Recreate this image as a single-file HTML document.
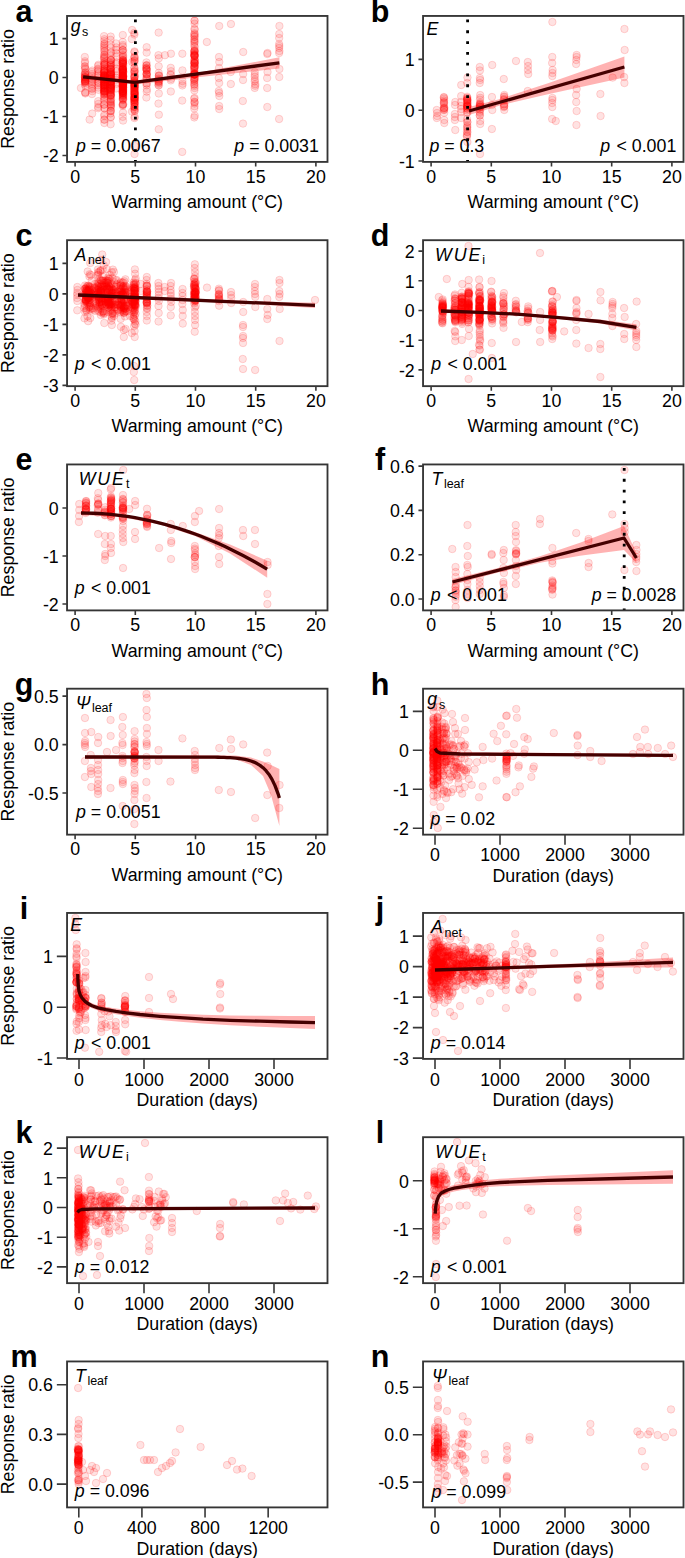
<!DOCTYPE html>
<html><head><meta charset="utf-8"><style>
body{margin:0;background:#fff;}
svg{display:block;}
text{font-family:"Liberation Sans", sans-serif;font-size:17.8px;fill:#000;}
.fr{fill:none;stroke:#353535;stroke-width:1.85;}
.tk{fill:none;stroke:#383838;stroke-width:1.6;}
.yl{text-anchor:end;}
.xl{text-anchor:middle;}
.pl{text-anchor:middle;font-weight:bold;font-size:30.5px;}
.vi{font-style:italic;}
.wue{letter-spacing:1.9px;}
.sb{font-size:12.5px;}
.it{font-style:italic;}
.pt circle{r:3.75px;fill:rgba(255,0,0,0.115);stroke:rgba(255,0,0,0.15);stroke-width:1;}
.band{fill:rgba(255,0,0,0.3);stroke:none;}
.ln{fill:none;stroke:#450000;stroke-width:3.3;stroke-linejoin:round;}
.dt{stroke:#000;stroke-width:2.8;stroke-dasharray:2.8 8.0;}
.ye{text-anchor:end;}
</style></head>
<body><svg width="685" height="1558" viewBox="0 0 685 1558">
<defs>
<clipPath id="cpa"><rect x="67.95" y="16.85" width="258.65" height="144.15"/></clipPath>
<clipPath id="cpb"><rect x="423.95" y="16.85" width="258.65" height="144.15"/></clipPath>
<clipPath id="cpc"><rect x="67.95" y="241.1" width="258.65" height="144.15"/></clipPath>
<clipPath id="cpd"><rect x="423.95" y="241.1" width="258.65" height="144.15"/></clipPath>
<clipPath id="cpe"><rect x="67.95" y="465.35" width="258.65" height="144.15"/></clipPath>
<clipPath id="cpf"><rect x="423.95" y="465.35" width="258.65" height="144.15"/></clipPath>
<clipPath id="cpg"><rect x="67.95" y="689.6" width="258.65" height="144.15"/></clipPath>
<clipPath id="cph"><rect x="423.95" y="689.6" width="258.65" height="144.15"/></clipPath>
<clipPath id="cpi"><rect x="67.95" y="913.85" width="258.65" height="144.15"/></clipPath>
<clipPath id="cpj"><rect x="423.95" y="913.85" width="258.65" height="144.15"/></clipPath>
<clipPath id="cpk"><rect x="67.95" y="1138.1" width="258.65" height="144.15"/></clipPath>
<clipPath id="cpl"><rect x="423.95" y="1138.1" width="258.65" height="144.15"/></clipPath>
<clipPath id="cpm"><rect x="67.95" y="1362.35" width="258.65" height="144.15"/></clipPath>
<clipPath id="cpn"><rect x="423.95" y="1362.35" width="258.65" height="144.15"/></clipPath>
</defs>
<g clip-path="url(#cpa)">
<polygon points="83.1,74.5 110,78 134.8,80.6 200,72.5 279.4,57.3 279.4,68.5 200,77 134.8,84.4 110,81.8 83.1,79.5" class="band"/>
<g class="pt"><circle cx="84.81" cy="56.98" r="3.75"/><circle cx="84.98" cy="61.31" r="3.75"/><circle cx="84.92" cy="62.98" r="3.75"/><circle cx="84.9" cy="66.67" r="3.75"/><circle cx="85.14" cy="82.92" r="3.75"/><circle cx="84.9" cy="82.87" r="3.75"/><circle cx="85.37" cy="72.25" r="3.75"/><circle cx="84.85" cy="76" r="3.75"/><circle cx="85.1" cy="84.64" r="3.75"/><circle cx="84.89" cy="77.1" r="3.75"/><circle cx="85" cy="77.18" r="3.75"/><circle cx="84.81" cy="73.86" r="3.75"/><circle cx="85.39" cy="68.93" r="3.75"/><circle cx="85.25" cy="92.39" r="3.75"/><circle cx="85.32" cy="93.43" r="3.75"/><circle cx="85.26" cy="78.33" r="3.75"/><circle cx="85.05" cy="79.29" r="3.75"/><circle cx="85.33" cy="80.68" r="3.75"/><circle cx="84.94" cy="68.64" r="3.75"/><circle cx="85.11" cy="73" r="3.75"/><circle cx="85.28" cy="74.94" r="3.75"/><circle cx="84.94" cy="66.26" r="3.75"/><circle cx="85.28" cy="81.17" r="3.75"/><circle cx="85.13" cy="74.75" r="3.75"/><circle cx="85.11" cy="81.4" r="3.75"/><circle cx="85.38" cy="85.97" r="3.75"/><circle cx="85.39" cy="81.76" r="3.75"/><circle cx="85.3" cy="79" r="3.75"/><circle cx="85.12" cy="80.75" r="3.75"/><circle cx="84.89" cy="81.8" r="3.75"/><circle cx="85.23" cy="77.08" r="3.75"/><circle cx="84.85" cy="79.85" r="3.75"/><circle cx="85.27" cy="92.62" r="3.75"/><circle cx="85.26" cy="77.5" r="3.75"/><circle cx="80.92" cy="88" r="3.75"/><circle cx="92.36" cy="70.52" r="3.75"/><circle cx="91.94" cy="71.95" r="3.75"/><circle cx="92.1" cy="74.01" r="3.75"/><circle cx="92.15" cy="75.77" r="3.75"/><circle cx="92.02" cy="78.18" r="3.75"/><circle cx="92.32" cy="79.64" r="3.75"/><circle cx="91.95" cy="81.05" r="3.75"/><circle cx="92.48" cy="82.15" r="3.75"/><circle cx="92" cy="84.06" r="3.75"/><circle cx="92.22" cy="85.95" r="3.75"/><circle cx="91.9" cy="88.16" r="3.75"/><circle cx="92.2" cy="89.03" r="3.75"/><circle cx="92.26" cy="91.15" r="3.75"/><circle cx="91.96" cy="94.04" r="3.75"/><circle cx="92.2" cy="113.6" r="3.75"/><circle cx="89.64" cy="119.6" r="3.75"/><circle cx="98.47" cy="64.74" r="3.75"/><circle cx="98.05" cy="65.95" r="3.75"/><circle cx="97.92" cy="68.79" r="3.75"/><circle cx="98.14" cy="69.67" r="3.75"/><circle cx="98.31" cy="71.32" r="3.75"/><circle cx="98.05" cy="73.92" r="3.75"/><circle cx="98.32" cy="75.66" r="3.75"/><circle cx="97.94" cy="77.43" r="3.75"/><circle cx="98.02" cy="79.64" r="3.75"/><circle cx="98.02" cy="81.89" r="3.75"/><circle cx="98.44" cy="82.89" r="3.75"/><circle cx="98.08" cy="85.21" r="3.75"/><circle cx="98.32" cy="87.56" r="3.75"/><circle cx="98.38" cy="89.76" r="3.75"/><circle cx="98.16" cy="101.16" r="3.75"/><circle cx="98.21" cy="103.94" r="3.75"/><circle cx="98.28" cy="107" r="3.75"/><circle cx="98.12" cy="108.25" r="3.75"/><circle cx="104.02" cy="36.13" r="3.75"/><circle cx="104.41" cy="39.24" r="3.75"/><circle cx="104.27" cy="41.21" r="3.75"/><circle cx="104.44" cy="43.79" r="3.75"/><circle cx="104.16" cy="47.44" r="3.75"/><circle cx="104.21" cy="49.09" r="3.75"/><circle cx="104.41" cy="54.76" r="3.75"/><circle cx="104.56" cy="56.88" r="3.75"/><circle cx="104.11" cy="97.33" r="3.75"/><circle cx="104.24" cy="83.37" r="3.75"/><circle cx="104.54" cy="85" r="3.75"/><circle cx="104.44" cy="90.96" r="3.75"/><circle cx="104.18" cy="82.93" r="3.75"/><circle cx="104.47" cy="75.76" r="3.75"/><circle cx="104.05" cy="88.16" r="3.75"/><circle cx="104.49" cy="82.12" r="3.75"/><circle cx="104.01" cy="81.52" r="3.75"/><circle cx="104.07" cy="93.58" r="3.75"/><circle cx="104.2" cy="57.08" r="3.75"/><circle cx="104.19" cy="77.98" r="3.75"/><circle cx="104.09" cy="85.76" r="3.75"/><circle cx="104.12" cy="81.51" r="3.75"/><circle cx="104.59" cy="68.9" r="3.75"/><circle cx="104.17" cy="74.79" r="3.75"/><circle cx="104.32" cy="83.53" r="3.75"/><circle cx="104.33" cy="75.52" r="3.75"/><circle cx="104.31" cy="72.65" r="3.75"/><circle cx="104.47" cy="68.85" r="3.75"/><circle cx="104.35" cy="89.28" r="3.75"/><circle cx="104.47" cy="93.05" r="3.75"/><circle cx="104.01" cy="86.94" r="3.75"/><circle cx="104.4" cy="91.52" r="3.75"/><circle cx="104.49" cy="88.2" r="3.75"/><circle cx="104.39" cy="71.05" r="3.75"/><circle cx="104.03" cy="94.57" r="3.75"/><circle cx="104.19" cy="81.57" r="3.75"/><circle cx="104.34" cy="82.11" r="3.75"/><circle cx="104.03" cy="73.61" r="3.75"/><circle cx="104.06" cy="104.72" r="3.75"/><circle cx="104.1" cy="100.41" r="3.75"/><circle cx="104.13" cy="90.39" r="3.75"/><circle cx="104.06" cy="75.89" r="3.75"/><circle cx="104.13" cy="75.47" r="3.75"/><circle cx="104.13" cy="80.02" r="3.75"/><circle cx="104.35" cy="79.76" r="3.75"/><circle cx="104.15" cy="72.27" r="3.75"/><circle cx="104.55" cy="119.7" r="3.75"/><circle cx="104.54" cy="78.46" r="3.75"/><circle cx="104.38" cy="51.64" r="3.75"/><circle cx="104.1" cy="70.05" r="3.75"/><circle cx="104.01" cy="77.2" r="3.75"/><circle cx="104.12" cy="54.86" r="3.75"/><circle cx="104.34" cy="84.75" r="3.75"/><circle cx="104.07" cy="58.29" r="3.75"/><circle cx="104.59" cy="79.09" r="3.75"/><circle cx="104.14" cy="89.49" r="3.75"/><circle cx="104.4" cy="66.39" r="3.75"/><circle cx="104.34" cy="94.47" r="3.75"/><circle cx="104.55" cy="64.8" r="3.75"/><circle cx="104.07" cy="58.89" r="3.75"/><circle cx="104.55" cy="108.25" r="3.75"/><circle cx="104.22" cy="85.41" r="3.75"/><circle cx="104.25" cy="64.04" r="3.75"/><circle cx="104.07" cy="91.64" r="3.75"/><circle cx="104.34" cy="80.05" r="3.75"/><circle cx="104.1" cy="91.06" r="3.75"/><circle cx="104.23" cy="75.4" r="3.75"/><circle cx="104.34" cy="45.92" r="3.75"/><circle cx="104.38" cy="64.76" r="3.75"/><circle cx="104.31" cy="62.44" r="3.75"/><circle cx="104.56" cy="79.47" r="3.75"/><circle cx="104.54" cy="77.2" r="3.75"/><circle cx="104.38" cy="76.98" r="3.75"/><circle cx="104.02" cy="71.81" r="3.75"/><circle cx="104.34" cy="72.75" r="3.75"/><circle cx="104.15" cy="85.43" r="3.75"/><circle cx="104.15" cy="99.33" r="3.75"/><circle cx="104.34" cy="92.66" r="3.75"/><circle cx="104.47" cy="96.65" r="3.75"/><circle cx="104.47" cy="81.74" r="3.75"/><circle cx="104.37" cy="76.78" r="3.75"/><circle cx="104.18" cy="86.01" r="3.75"/><circle cx="104.24" cy="78.01" r="3.75"/><circle cx="104.41" cy="88.7" r="3.75"/><circle cx="104.44" cy="64.73" r="3.75"/><circle cx="104.49" cy="90.87" r="3.75"/><circle cx="104.3" cy="44.26" r="3.75"/><circle cx="104.32" cy="62.97" r="3.75"/><circle cx="104.42" cy="61.13" r="3.75"/><circle cx="104.55" cy="50.95" r="3.75"/><circle cx="104.42" cy="87.39" r="3.75"/><circle cx="104.44" cy="91.43" r="3.75"/><circle cx="104.19" cy="84.93" r="3.75"/><circle cx="104.25" cy="71.03" r="3.75"/><circle cx="104.23" cy="75.53" r="3.75"/><circle cx="104.39" cy="83.59" r="3.75"/><circle cx="104.37" cy="79.38" r="3.75"/><circle cx="104.45" cy="70.62" r="3.75"/><circle cx="104.01" cy="104.56" r="3.75"/><circle cx="104.41" cy="108.2" r="3.75"/><circle cx="104.23" cy="114.54" r="3.75"/><circle cx="104.38" cy="115.98" r="3.75"/><circle cx="104.02" cy="119.61" r="3.75"/><circle cx="104.36" cy="122.97" r="3.75"/><circle cx="110.71" cy="36.58" r="3.75"/><circle cx="110.58" cy="39.8" r="3.75"/><circle cx="110.72" cy="44.53" r="3.75"/><circle cx="110.84" cy="47.71" r="3.75"/><circle cx="110.98" cy="51.88" r="3.75"/><circle cx="110.77" cy="52.68" r="3.75"/><circle cx="110.95" cy="55.71" r="3.75"/><circle cx="111.09" cy="59.91" r="3.75"/><circle cx="110.8" cy="63.33" r="3.75"/><circle cx="110.86" cy="59.67" r="3.75"/><circle cx="111.03" cy="85.29" r="3.75"/><circle cx="110.61" cy="81.51" r="3.75"/><circle cx="110.53" cy="89.33" r="3.75"/><circle cx="110.95" cy="78.76" r="3.75"/><circle cx="110.97" cy="64.92" r="3.75"/><circle cx="110.9" cy="87.34" r="3.75"/><circle cx="110.5" cy="87.35" r="3.75"/><circle cx="110.89" cy="75" r="3.75"/><circle cx="110.87" cy="98.78" r="3.75"/><circle cx="110.69" cy="117.47" r="3.75"/><circle cx="110.69" cy="72.98" r="3.75"/><circle cx="110.76" cy="90.54" r="3.75"/><circle cx="110.89" cy="84.89" r="3.75"/><circle cx="110.91" cy="84.53" r="3.75"/><circle cx="110.9" cy="89.93" r="3.75"/><circle cx="110.62" cy="76.83" r="3.75"/><circle cx="110.66" cy="83.98" r="3.75"/><circle cx="110.53" cy="101.86" r="3.75"/><circle cx="111.06" cy="60.3" r="3.75"/><circle cx="110.64" cy="103.68" r="3.75"/><circle cx="111.08" cy="71.97" r="3.75"/><circle cx="110.52" cy="86.57" r="3.75"/><circle cx="110.73" cy="77.36" r="3.75"/><circle cx="111.07" cy="81.45" r="3.75"/><circle cx="110.9" cy="82.61" r="3.75"/><circle cx="110.56" cy="68.95" r="3.75"/><circle cx="110.95" cy="82.42" r="3.75"/><circle cx="110.98" cy="83.85" r="3.75"/><circle cx="110.71" cy="81.23" r="3.75"/><circle cx="110.63" cy="94.86" r="3.75"/><circle cx="110.62" cy="79.15" r="3.75"/><circle cx="110.6" cy="81.56" r="3.75"/><circle cx="110.78" cy="88.34" r="3.75"/><circle cx="110.58" cy="68.28" r="3.75"/><circle cx="110.51" cy="78.65" r="3.75"/><circle cx="110.58" cy="100.84" r="3.75"/><circle cx="110.91" cy="106.2" r="3.75"/><circle cx="111.06" cy="67.46" r="3.75"/><circle cx="110.65" cy="77.99" r="3.75"/><circle cx="110.72" cy="79.39" r="3.75"/><circle cx="110.74" cy="69" r="3.75"/><circle cx="111.05" cy="85.77" r="3.75"/><circle cx="110.88" cy="89.73" r="3.75"/><circle cx="110.61" cy="95.31" r="3.75"/><circle cx="110.9" cy="104.53" r="3.75"/><circle cx="110.75" cy="64.15" r="3.75"/><circle cx="111.07" cy="71.98" r="3.75"/><circle cx="110.57" cy="81.26" r="3.75"/><circle cx="110.65" cy="70.07" r="3.75"/><circle cx="110.98" cy="94.63" r="3.75"/><circle cx="110.95" cy="95.66" r="3.75"/><circle cx="110.67" cy="75.06" r="3.75"/><circle cx="110.98" cy="73.59" r="3.75"/><circle cx="110.83" cy="74.88" r="3.75"/><circle cx="110.97" cy="67.11" r="3.75"/><circle cx="110.72" cy="75.38" r="3.75"/><circle cx="110.69" cy="78.61" r="3.75"/><circle cx="110.93" cy="76.8" r="3.75"/><circle cx="110.87" cy="110.85" r="3.75"/><circle cx="110.56" cy="69.72" r="3.75"/><circle cx="110.78" cy="88.55" r="3.75"/><circle cx="110.8" cy="73.72" r="3.75"/><circle cx="111.1" cy="77.67" r="3.75"/><circle cx="111.07" cy="88.45" r="3.75"/><circle cx="110.98" cy="81.29" r="3.75"/><circle cx="110.63" cy="92.96" r="3.75"/><circle cx="110.58" cy="62.29" r="3.75"/><circle cx="110.56" cy="68.68" r="3.75"/><circle cx="110.51" cy="65.02" r="3.75"/><circle cx="110.66" cy="110.96" r="3.75"/><circle cx="111" cy="74.67" r="3.75"/><circle cx="110.51" cy="76.5" r="3.75"/><circle cx="110.87" cy="107.8" r="3.75"/><circle cx="110.52" cy="86.92" r="3.75"/><circle cx="110.89" cy="102.25" r="3.75"/><circle cx="110.54" cy="95.4" r="3.75"/><circle cx="110.73" cy="92.26" r="3.75"/><circle cx="110.78" cy="90.45" r="3.75"/><circle cx="110.9" cy="93.63" r="3.75"/><circle cx="111.01" cy="73.43" r="3.75"/><circle cx="110.75" cy="72.22" r="3.75"/><circle cx="110.71" cy="96.2" r="3.75"/><circle cx="111.06" cy="99.55" r="3.75"/><circle cx="110.71" cy="82.33" r="3.75"/><circle cx="111.08" cy="85.38" r="3.75"/><circle cx="110.72" cy="60.04" r="3.75"/><circle cx="110.87" cy="87.33" r="3.75"/><circle cx="110.56" cy="91.77" r="3.75"/><circle cx="110.74" cy="88.01" r="3.75"/><circle cx="110.83" cy="105.34" r="3.75"/><circle cx="110.64" cy="110.83" r="3.75"/><circle cx="110.51" cy="113.39" r="3.75"/><circle cx="110.73" cy="116.92" r="3.75"/><circle cx="110.61" cy="124.28" r="3.75"/><circle cx="116.01" cy="43.4" r="3.75"/><circle cx="116.25" cy="47.45" r="3.75"/><circle cx="116.23" cy="49.99" r="3.75"/><circle cx="116.24" cy="53.22" r="3.75"/><circle cx="116.43" cy="56.35" r="3.75"/><circle cx="116.54" cy="62.34" r="3.75"/><circle cx="116.01" cy="63.83" r="3.75"/><circle cx="116.28" cy="68.64" r="3.75"/><circle cx="116.39" cy="71.3" r="3.75"/><circle cx="116.31" cy="75.64" r="3.75"/><circle cx="116.08" cy="77.78" r="3.75"/><circle cx="116.1" cy="79.86" r="3.75"/><circle cx="116.56" cy="83.67" r="3.75"/><circle cx="116.02" cy="88.51" r="3.75"/><circle cx="122.79" cy="35" r="3.75"/><circle cx="122.85" cy="45" r="3.75"/><circle cx="122.93" cy="85.8" r="3.75"/><circle cx="122.76" cy="67.42" r="3.75"/><circle cx="123.07" cy="76.65" r="3.75"/><circle cx="122.89" cy="83.75" r="3.75"/><circle cx="122.65" cy="77.02" r="3.75"/><circle cx="122.76" cy="62.18" r="3.75"/><circle cx="122.81" cy="69.3" r="3.75"/><circle cx="123.18" cy="99.56" r="3.75"/><circle cx="122.92" cy="84.76" r="3.75"/><circle cx="123.02" cy="59.93" r="3.75"/><circle cx="123.11" cy="75.81" r="3.75"/><circle cx="122.88" cy="84.12" r="3.75"/><circle cx="122.94" cy="99.37" r="3.75"/><circle cx="122.86" cy="73.53" r="3.75"/><circle cx="122.81" cy="75.22" r="3.75"/><circle cx="122.79" cy="70.08" r="3.75"/><circle cx="122.66" cy="92.28" r="3.75"/><circle cx="122.61" cy="50.1" r="3.75"/><circle cx="122.86" cy="67.16" r="3.75"/><circle cx="123.06" cy="94.74" r="3.75"/><circle cx="123" cy="97.88" r="3.75"/><circle cx="122.69" cy="75.17" r="3.75"/><circle cx="122.72" cy="63.27" r="3.75"/><circle cx="122.62" cy="69.69" r="3.75"/><circle cx="122.99" cy="61.08" r="3.75"/><circle cx="122.72" cy="42" r="3.75"/><circle cx="122.8" cy="86.8" r="3.75"/><circle cx="123.09" cy="70.74" r="3.75"/><circle cx="123.13" cy="87.23" r="3.75"/><circle cx="122.6" cy="50.07" r="3.75"/><circle cx="122.74" cy="81.29" r="3.75"/><circle cx="123.11" cy="96.04" r="3.75"/><circle cx="123.17" cy="77.13" r="3.75"/><circle cx="123.02" cy="57.24" r="3.75"/><circle cx="122.68" cy="93.19" r="3.75"/><circle cx="122.91" cy="75.68" r="3.75"/><circle cx="122.79" cy="96.02" r="3.75"/><circle cx="122.66" cy="73.32" r="3.75"/><circle cx="123.03" cy="83.42" r="3.75"/><circle cx="122.8" cy="83.96" r="3.75"/><circle cx="122.8" cy="46.54" r="3.75"/><circle cx="122.99" cy="93.14" r="3.75"/><circle cx="122.86" cy="71.52" r="3.75"/><circle cx="122.87" cy="89.43" r="3.75"/><circle cx="122.93" cy="92.83" r="3.75"/><circle cx="122.67" cy="91.48" r="3.75"/><circle cx="122.76" cy="116.82" r="3.75"/><circle cx="122.8" cy="72.87" r="3.75"/><circle cx="122.94" cy="81.96" r="3.75"/><circle cx="123.06" cy="63.84" r="3.75"/><circle cx="122.89" cy="79.11" r="3.75"/><circle cx="123.09" cy="68.79" r="3.75"/><circle cx="123.08" cy="98.32" r="3.75"/><circle cx="122.99" cy="61.5" r="3.75"/><circle cx="123.03" cy="91.24" r="3.75"/><circle cx="122.75" cy="81.03" r="3.75"/><circle cx="123.06" cy="95.11" r="3.75"/><circle cx="123.2" cy="85.73" r="3.75"/><circle cx="122.62" cy="77.06" r="3.75"/><circle cx="123.01" cy="64.95" r="3.75"/><circle cx="122.94" cy="91.25" r="3.75"/><circle cx="122.66" cy="69.17" r="3.75"/><circle cx="123.08" cy="71.51" r="3.75"/><circle cx="122.79" cy="94.72" r="3.75"/><circle cx="122.93" cy="87.51" r="3.75"/><circle cx="122.72" cy="63.92" r="3.75"/><circle cx="122.85" cy="76.61" r="3.75"/><circle cx="123.13" cy="72.36" r="3.75"/><circle cx="122.72" cy="100.1" r="3.75"/><circle cx="123.14" cy="55.93" r="3.75"/><circle cx="123.14" cy="71.36" r="3.75"/><circle cx="123.17" cy="80.52" r="3.75"/><circle cx="122.73" cy="91.08" r="3.75"/><circle cx="123.15" cy="76.95" r="3.75"/><circle cx="123.04" cy="72.14" r="3.75"/><circle cx="123.19" cy="50.18" r="3.75"/><circle cx="123.15" cy="75.99" r="3.75"/><circle cx="122.86" cy="55.12" r="3.75"/><circle cx="123.18" cy="90.77" r="3.75"/><circle cx="122.93" cy="72.52" r="3.75"/><circle cx="122.8" cy="77.85" r="3.75"/><circle cx="122.76" cy="77.59" r="3.75"/><circle cx="122.75" cy="90.23" r="3.75"/><circle cx="122.67" cy="79.85" r="3.75"/><circle cx="122.73" cy="78.09" r="3.75"/><circle cx="123.02" cy="104.78" r="3.75"/><circle cx="123.03" cy="80.75" r="3.75"/><circle cx="122.68" cy="78.91" r="3.75"/><circle cx="123.15" cy="83.44" r="3.75"/><circle cx="123.13" cy="89.23" r="3.75"/><circle cx="122.65" cy="98.26" r="3.75"/><circle cx="122.82" cy="91.52" r="3.75"/><circle cx="122.67" cy="105.75" r="3.75"/><circle cx="122.94" cy="78.97" r="3.75"/><circle cx="123.12" cy="61.88" r="3.75"/><circle cx="122.93" cy="88.33" r="3.75"/><circle cx="122.7" cy="104.2" r="3.75"/><circle cx="122.63" cy="67.55" r="3.75"/><circle cx="123.02" cy="83.97" r="3.75"/><circle cx="123.11" cy="93.66" r="3.75"/><circle cx="122.96" cy="76.75" r="3.75"/><circle cx="122.99" cy="60.18" r="3.75"/><circle cx="123.1" cy="63.48" r="3.75"/><circle cx="123.11" cy="90.26" r="3.75"/><circle cx="122.64" cy="75.18" r="3.75"/><circle cx="122.8" cy="59.87" r="3.75"/><circle cx="122.72" cy="68.3" r="3.75"/><circle cx="122.82" cy="82.07" r="3.75"/><circle cx="123.16" cy="84.13" r="3.75"/><circle cx="122.6" cy="70.13" r="3.75"/><circle cx="123.05" cy="60.67" r="3.75"/><circle cx="122.61" cy="88.79" r="3.75"/><circle cx="122.94" cy="82.73" r="3.75"/><circle cx="122.66" cy="82.3" r="3.75"/><circle cx="122.66" cy="70.58" r="3.75"/><circle cx="122.82" cy="85.42" r="3.75"/><circle cx="122.81" cy="63.3" r="3.75"/><circle cx="122.64" cy="85.73" r="3.75"/><circle cx="122.6" cy="69.47" r="3.75"/><circle cx="122.91" cy="96.6" r="3.75"/><circle cx="122.72" cy="104.78" r="3.75"/><circle cx="122.92" cy="82.18" r="3.75"/><circle cx="123.08" cy="92.74" r="3.75"/><circle cx="123.15" cy="87.89" r="3.75"/><circle cx="122.6" cy="85.8" r="3.75"/><circle cx="123.08" cy="52.33" r="3.75"/><circle cx="123.2" cy="104.05" r="3.75"/><circle cx="123.03" cy="86.97" r="3.75"/><circle cx="122.65" cy="62.41" r="3.75"/><circle cx="123.12" cy="65.91" r="3.75"/><circle cx="122.76" cy="87.19" r="3.75"/><circle cx="123.01" cy="84.01" r="3.75"/><circle cx="122.9" cy="68.93" r="3.75"/><circle cx="123.05" cy="86.96" r="3.75"/><circle cx="122.77" cy="92.43" r="3.75"/><circle cx="122.63" cy="57.79" r="3.75"/><circle cx="123.05" cy="84.33" r="3.75"/><circle cx="122.65" cy="82.59" r="3.75"/><circle cx="123.01" cy="79.03" r="3.75"/><circle cx="122.75" cy="78.22" r="3.75"/><circle cx="122.99" cy="112.6" r="3.75"/><circle cx="123.06" cy="120.6" r="3.75"/><circle cx="134.24" cy="32.95" r="3.75"/><circle cx="134.43" cy="34.59" r="3.75"/><circle cx="134.48" cy="51.42" r="3.75"/><circle cx="134.48" cy="52.37" r="3.75"/><circle cx="134.32" cy="56.52" r="3.75"/><circle cx="134.75" cy="57.33" r="3.75"/><circle cx="134.47" cy="60.8" r="3.75"/><circle cx="134.35" cy="63.16" r="3.75"/><circle cx="134.35" cy="101.98" r="3.75"/><circle cx="134.63" cy="71.52" r="3.75"/><circle cx="134.79" cy="98.9" r="3.75"/><circle cx="134.25" cy="81.92" r="3.75"/><circle cx="134.35" cy="100.26" r="3.75"/><circle cx="134.37" cy="68.06" r="3.75"/><circle cx="134.69" cy="87.11" r="3.75"/><circle cx="134.62" cy="94.44" r="3.75"/><circle cx="134.36" cy="92.07" r="3.75"/><circle cx="134.25" cy="71.29" r="3.75"/><circle cx="134.21" cy="86.88" r="3.75"/><circle cx="134.52" cy="109.12" r="3.75"/><circle cx="134.4" cy="83.7" r="3.75"/><circle cx="134.55" cy="96.92" r="3.75"/><circle cx="134.71" cy="91.44" r="3.75"/><circle cx="134.65" cy="94.17" r="3.75"/><circle cx="134.55" cy="82.23" r="3.75"/><circle cx="134.76" cy="95" r="3.75"/><circle cx="134.58" cy="91.08" r="3.75"/><circle cx="134.42" cy="75.39" r="3.75"/><circle cx="134.22" cy="84.33" r="3.75"/><circle cx="134.6" cy="73.98" r="3.75"/><circle cx="134.3" cy="97.56" r="3.75"/><circle cx="134.38" cy="78.02" r="3.75"/><circle cx="134.64" cy="96.13" r="3.75"/><circle cx="134.38" cy="109.48" r="3.75"/><circle cx="134.46" cy="85.98" r="3.75"/><circle cx="134.79" cy="93.9" r="3.75"/><circle cx="134.24" cy="89.22" r="3.75"/><circle cx="134.76" cy="59.93" r="3.75"/><circle cx="134.28" cy="106.7" r="3.75"/><circle cx="134.72" cy="76.6" r="3.75"/><circle cx="134.51" cy="107.52" r="3.75"/><circle cx="134.41" cy="85.3" r="3.75"/><circle cx="134.39" cy="99.71" r="3.75"/><circle cx="134.25" cy="76.79" r="3.75"/><circle cx="134.38" cy="106.56" r="3.75"/><circle cx="134.28" cy="90.04" r="3.75"/><circle cx="134.71" cy="83.31" r="3.75"/><circle cx="134.48" cy="100.51" r="3.75"/><circle cx="134.6" cy="103.55" r="3.75"/><circle cx="134.53" cy="104.31" r="3.75"/><circle cx="134.43" cy="97.82" r="3.75"/><circle cx="134.23" cy="80.71" r="3.75"/><circle cx="134.77" cy="82.41" r="3.75"/><circle cx="134.2" cy="72.23" r="3.75"/><circle cx="134.45" cy="77.01" r="3.75"/><circle cx="134.23" cy="94.7" r="3.75"/><circle cx="134.58" cy="89.4" r="3.75"/><circle cx="134.39" cy="84.73" r="3.75"/><circle cx="134.32" cy="67.63" r="3.75"/><circle cx="134.51" cy="98.44" r="3.75"/><circle cx="134.53" cy="86.27" r="3.75"/><circle cx="134.6" cy="104.38" r="3.75"/><circle cx="134.6" cy="102.02" r="3.75"/><circle cx="134.24" cy="97.59" r="3.75"/><circle cx="134.68" cy="110.97" r="3.75"/><circle cx="134.67" cy="83.5" r="3.75"/><circle cx="134.29" cy="61.33" r="3.75"/><circle cx="134.65" cy="87.98" r="3.75"/><circle cx="134.59" cy="92.27" r="3.75"/><circle cx="134.78" cy="87.37" r="3.75"/><circle cx="134.74" cy="97.66" r="3.75"/><circle cx="134.36" cy="99.94" r="3.75"/><circle cx="134.68" cy="92.75" r="3.75"/><circle cx="134.77" cy="106.49" r="3.75"/><circle cx="134.69" cy="85.71" r="3.75"/><circle cx="134.37" cy="84.73" r="3.75"/><circle cx="134.79" cy="70.34" r="3.75"/><circle cx="134.53" cy="80.55" r="3.75"/><circle cx="134.53" cy="96.82" r="3.75"/><circle cx="134.65" cy="99.34" r="3.75"/><circle cx="134.23" cy="93.5" r="3.75"/><circle cx="134.79" cy="102.17" r="3.75"/><circle cx="134.3" cy="102.83" r="3.75"/><circle cx="134.36" cy="90.12" r="3.75"/><circle cx="134.36" cy="80.51" r="3.75"/><circle cx="134.39" cy="93.28" r="3.75"/><circle cx="134.33" cy="57.96" r="3.75"/><circle cx="134.3" cy="88.15" r="3.75"/><circle cx="134.75" cy="110.75" r="3.75"/><circle cx="134.7" cy="116.78" r="3.75"/><circle cx="134.46" cy="118.05" r="3.75"/><circle cx="134.6" cy="146" r="3.75"/><circle cx="134.52" cy="154" r="3.75"/><circle cx="132.14" cy="30" r="3.75"/><circle cx="131.82" cy="39" r="3.75"/><circle cx="132.24" cy="62" r="3.75"/><circle cx="132.06" cy="111.6" r="3.75"/><circle cx="146.67" cy="47.2" r="3.75"/><circle cx="146.31" cy="65.65" r="3.75"/><circle cx="146.4" cy="68.99" r="3.75"/><circle cx="146.66" cy="70.31" r="3.75"/><circle cx="146.41" cy="74.44" r="3.75"/><circle cx="146.69" cy="70.34" r="3.75"/><circle cx="146.46" cy="65.59" r="3.75"/><circle cx="146.8" cy="83.43" r="3.75"/><circle cx="146.43" cy="83.38" r="3.75"/><circle cx="146.75" cy="91.65" r="3.75"/><circle cx="146.76" cy="78.14" r="3.75"/><circle cx="146.87" cy="76.37" r="3.75"/><circle cx="146.78" cy="64.95" r="3.75"/><circle cx="146.84" cy="74.77" r="3.75"/><circle cx="146.64" cy="52.62" r="3.75"/><circle cx="146.6" cy="85.27" r="3.75"/><circle cx="146.31" cy="78.18" r="3.75"/><circle cx="146.67" cy="67.45" r="3.75"/><circle cx="146.86" cy="89.33" r="3.75"/><circle cx="146.73" cy="74.21" r="3.75"/><circle cx="146.33" cy="68.24" r="3.75"/><circle cx="146.88" cy="79.12" r="3.75"/><circle cx="146.33" cy="68.5" r="3.75"/><circle cx="146.82" cy="73.8" r="3.75"/><circle cx="146.79" cy="69.84" r="3.75"/><circle cx="146.43" cy="62.45" r="3.75"/><circle cx="146.52" cy="73.11" r="3.75"/><circle cx="146.39" cy="97.5" r="3.75"/><circle cx="158.64" cy="32.6" r="3.75"/><circle cx="158.48" cy="55.2" r="3.75"/><circle cx="158.78" cy="58.3" r="3.75"/><circle cx="158.7" cy="66.3" r="3.75"/><circle cx="158.97" cy="76.17" r="3.75"/><circle cx="158.97" cy="82.64" r="3.75"/><circle cx="158.45" cy="83.7" r="3.75"/><circle cx="158.5" cy="78.38" r="3.75"/><circle cx="158.49" cy="81.97" r="3.75"/><circle cx="158.97" cy="75.43" r="3.75"/><circle cx="158.65" cy="80.08" r="3.75"/><circle cx="158.48" cy="85.32" r="3.75"/><circle cx="158.73" cy="72.88" r="3.75"/><circle cx="158.91" cy="85.34" r="3.75"/><circle cx="158.66" cy="81.38" r="3.75"/><circle cx="158.79" cy="79.24" r="3.75"/><circle cx="158.89" cy="75.59" r="3.75"/><circle cx="158.91" cy="81.12" r="3.75"/><circle cx="158.79" cy="93.5" r="3.75"/><circle cx="158.48" cy="103.6" r="3.75"/><circle cx="158.84" cy="114.7" r="3.75"/><circle cx="158.76" cy="129.3" r="3.75"/><circle cx="164.94" cy="55.2" r="3.75"/><circle cx="170.94" cy="53.7" r="3.75"/><circle cx="170.73" cy="67.81" r="3.75"/><circle cx="171.06" cy="71.23" r="3.75"/><circle cx="170.68" cy="74.22" r="3.75"/><circle cx="170.62" cy="74.92" r="3.75"/><circle cx="171.08" cy="78.86" r="3.75"/><circle cx="170.77" cy="80.36" r="3.75"/><circle cx="170.83" cy="91.5" r="3.75"/><circle cx="182.35" cy="53.7" r="3.75"/><circle cx="182.43" cy="70.4" r="3.75"/><circle cx="182.45" cy="81.03" r="3.75"/><circle cx="182.56" cy="83.76" r="3.75"/><circle cx="182.35" cy="85.44" r="3.75"/><circle cx="182.19" cy="100.6" r="3.75"/><circle cx="182.22" cy="151.9" r="3.75"/><circle cx="194.66" cy="20.69" r="3.75"/><circle cx="194.54" cy="23.67" r="3.75"/><circle cx="194.45" cy="28.78" r="3.75"/><circle cx="194.73" cy="29.71" r="3.75"/><circle cx="194.24" cy="34.94" r="3.75"/><circle cx="194.38" cy="82.26" r="3.75"/><circle cx="194.41" cy="20.71" r="3.75"/><circle cx="194.66" cy="66.25" r="3.75"/><circle cx="194.47" cy="73.1" r="3.75"/><circle cx="194.74" cy="56.11" r="3.75"/><circle cx="194.8" cy="77.08" r="3.75"/><circle cx="194.36" cy="56.32" r="3.75"/><circle cx="194.67" cy="74.15" r="3.75"/><circle cx="194.26" cy="71.35" r="3.75"/><circle cx="194.4" cy="55.97" r="3.75"/><circle cx="194.77" cy="77.92" r="3.75"/><circle cx="194.45" cy="33.14" r="3.75"/><circle cx="194.68" cy="67.02" r="3.75"/><circle cx="194.42" cy="63.4" r="3.75"/><circle cx="194.26" cy="68.64" r="3.75"/><circle cx="194.75" cy="74.14" r="3.75"/><circle cx="194.32" cy="43.75" r="3.75"/><circle cx="194.51" cy="70.56" r="3.75"/><circle cx="194.72" cy="61.07" r="3.75"/><circle cx="194.63" cy="102.2" r="3.75"/><circle cx="194.25" cy="36.68" r="3.75"/><circle cx="194.42" cy="51.19" r="3.75"/><circle cx="194.39" cy="84.08" r="3.75"/><circle cx="194.43" cy="41.56" r="3.75"/><circle cx="194.77" cy="62.44" r="3.75"/><circle cx="194.31" cy="62.53" r="3.75"/><circle cx="194.47" cy="65.36" r="3.75"/><circle cx="194.53" cy="51.88" r="3.75"/><circle cx="194.28" cy="67.5" r="3.75"/><circle cx="194.2" cy="74.67" r="3.75"/><circle cx="194.33" cy="40.02" r="3.75"/><circle cx="194.46" cy="85.96" r="3.75"/><circle cx="194.33" cy="45.96" r="3.75"/><circle cx="194.23" cy="74.68" r="3.75"/><circle cx="194.55" cy="39.13" r="3.75"/><circle cx="194.47" cy="103.45" r="3.75"/><circle cx="194.29" cy="54.56" r="3.75"/><circle cx="194.57" cy="87.96" r="3.75"/><circle cx="194.5" cy="55.59" r="3.75"/><circle cx="194.4" cy="62.02" r="3.75"/><circle cx="194.32" cy="80.54" r="3.75"/><circle cx="194.26" cy="63.22" r="3.75"/><circle cx="194.43" cy="53.62" r="3.75"/><circle cx="194.62" cy="42.11" r="3.75"/><circle cx="194.52" cy="73.59" r="3.75"/><circle cx="194.73" cy="50.66" r="3.75"/><circle cx="194.49" cy="60.08" r="3.75"/><circle cx="194.42" cy="80.53" r="3.75"/><circle cx="194.72" cy="34.21" r="3.75"/><circle cx="194.45" cy="50.9" r="3.75"/><circle cx="194.62" cy="55.96" r="3.75"/><circle cx="194.36" cy="90.41" r="3.75"/><circle cx="194.51" cy="49.99" r="3.75"/><circle cx="194.33" cy="66.46" r="3.75"/><circle cx="194.25" cy="74.03" r="3.75"/><circle cx="194.38" cy="67.74" r="3.75"/><circle cx="194.76" cy="55.07" r="3.75"/><circle cx="194.66" cy="74.92" r="3.75"/><circle cx="194.49" cy="59.37" r="3.75"/><circle cx="194.21" cy="98.79" r="3.75"/><circle cx="194.36" cy="55.01" r="3.75"/><circle cx="194.78" cy="63.36" r="3.75"/><circle cx="194.47" cy="13.71" r="3.75"/><circle cx="194.4" cy="52.26" r="3.75"/><circle cx="194.66" cy="63.65" r="3.75"/><circle cx="194.55" cy="74.71" r="3.75"/><circle cx="194.72" cy="74.47" r="3.75"/><circle cx="194.74" cy="47.1" r="3.75"/><circle cx="194.24" cy="84.57" r="3.75"/><circle cx="194.41" cy="73.33" r="3.75"/><circle cx="194.27" cy="78.76" r="3.75"/><circle cx="194.25" cy="79.26" r="3.75"/><circle cx="194.71" cy="59.74" r="3.75"/><circle cx="194.75" cy="36.5" r="3.75"/><circle cx="194.37" cy="54.62" r="3.75"/><circle cx="194.53" cy="97.88" r="3.75"/><circle cx="194.48" cy="101.75" r="3.75"/><circle cx="194.51" cy="106.22" r="3.75"/><circle cx="194.29" cy="108.51" r="3.75"/><circle cx="194.72" cy="115.64" r="3.75"/><circle cx="194.27" cy="117.44" r="3.75"/><circle cx="206.84" cy="42" r="3.75"/><circle cx="219.23" cy="26" r="3.75"/><circle cx="218.97" cy="57" r="3.75"/><circle cx="219.29" cy="62" r="3.75"/><circle cx="219" cy="68" r="3.75"/><circle cx="218.77" cy="78" r="3.75"/><circle cx="219.16" cy="83" r="3.75"/><circle cx="218.77" cy="91" r="3.75"/><circle cx="219.12" cy="93" r="3.75"/><circle cx="219.3" cy="96" r="3.75"/><circle cx="219.15" cy="106" r="3.75"/><circle cx="219.19" cy="109" r="3.75"/><circle cx="230.96" cy="24" r="3.75"/><circle cx="230.74" cy="72" r="3.75"/><circle cx="230.84" cy="84" r="3.75"/><circle cx="243.22" cy="52" r="3.75"/><circle cx="243.17" cy="74" r="3.75"/><circle cx="243.04" cy="80" r="3.75"/><circle cx="242.82" cy="101" r="3.75"/><circle cx="242.99" cy="123.6" r="3.75"/><circle cx="254.77" cy="72.05" r="3.75"/><circle cx="254.75" cy="74.76" r="3.75"/><circle cx="254.71" cy="76.8" r="3.75"/><circle cx="254.89" cy="79.64" r="3.75"/><circle cx="254.73" cy="81.38" r="3.75"/><circle cx="255.3" cy="84.17" r="3.75"/><circle cx="255.2" cy="85.76" r="3.75"/><circle cx="254.72" cy="87.88" r="3.75"/><circle cx="267.5" cy="53" r="3.75"/><circle cx="267.26" cy="54" r="3.75"/><circle cx="267.53" cy="72" r="3.75"/><circle cx="267.14" cy="78" r="3.75"/><circle cx="267.18" cy="88" r="3.75"/><circle cx="267.29" cy="107" r="3.75"/><circle cx="279.41" cy="26" r="3.75"/><circle cx="279.24" cy="34" r="3.75"/><circle cx="279.18" cy="38" r="3.75"/><circle cx="279.17" cy="44" r="3.75"/><circle cx="279.32" cy="46" r="3.75"/><circle cx="279.14" cy="48" r="3.75"/><circle cx="279.43" cy="51" r="3.75"/><circle cx="279.12" cy="53" r="3.75"/><circle cx="279.41" cy="69" r="3.75"/><circle cx="279.29" cy="77" r="3.75"/><circle cx="279.12" cy="119" r="3.75"/></g>
<polyline points="83.1,76.9 134.8,82.4 279.4,62.8" class="ln"/>
</g>
<path d="M135.4 19.55V161.9" class="dt"/>
<g clip-path="url(#cpb)">
<polygon points="469,107 500,98.92 548,83.13 624.4,56.5 624.4,77.5 548,94.13 500,105.52 469,115" class="band"/>
<g class="pt"><circle cx="436.71" cy="110" r="3.75"/><circle cx="437.05" cy="113" r="3.75"/><circle cx="437.13" cy="116" r="3.75"/><circle cx="436.81" cy="118" r="3.75"/><circle cx="444.04" cy="98.69" r="3.75"/><circle cx="444.19" cy="109.85" r="3.75"/><circle cx="443.81" cy="108.28" r="3.75"/><circle cx="443.86" cy="97.57" r="3.75"/><circle cx="444.17" cy="107.9" r="3.75"/><circle cx="444.17" cy="108.83" r="3.75"/><circle cx="444.22" cy="107.5" r="3.75"/><circle cx="443.9" cy="104.95" r="3.75"/><circle cx="443.82" cy="109.98" r="3.75"/><circle cx="444.04" cy="102.33" r="3.75"/><circle cx="444.21" cy="112.71" r="3.75"/><circle cx="444.03" cy="100.57" r="3.75"/><circle cx="443.83" cy="103.41" r="3.75"/><circle cx="443.84" cy="102.33" r="3.75"/><circle cx="443.89" cy="97" r="3.75"/><circle cx="444.25" cy="120" r="3.75"/><circle cx="444.28" cy="123" r="3.75"/><circle cx="455.28" cy="102" r="3.75"/><circle cx="455.03" cy="105" r="3.75"/><circle cx="454.87" cy="114" r="3.75"/><circle cx="454.92" cy="117" r="3.75"/><circle cx="454.88" cy="120" r="3.75"/><circle cx="455.28" cy="130" r="3.75"/><circle cx="461.22" cy="85" r="3.75"/><circle cx="461.17" cy="96" r="3.75"/><circle cx="461.01" cy="102" r="3.75"/><circle cx="460.99" cy="106" r="3.75"/><circle cx="461.14" cy="109" r="3.75"/><circle cx="461.23" cy="112" r="3.75"/><circle cx="461.13" cy="118" r="3.75"/><circle cx="467.47" cy="77.5" r="3.75"/><circle cx="467.26" cy="83" r="3.75"/><circle cx="467.4" cy="104.33" r="3.75"/><circle cx="467.39" cy="98.06" r="3.75"/><circle cx="467.17" cy="99.29" r="3.75"/><circle cx="467.48" cy="106.57" r="3.75"/><circle cx="467.34" cy="100.15" r="3.75"/><circle cx="467.07" cy="107.07" r="3.75"/><circle cx="466.96" cy="112.58" r="3.75"/><circle cx="467.47" cy="108.32" r="3.75"/><circle cx="467.04" cy="108.72" r="3.75"/><circle cx="467" cy="97.78" r="3.75"/><circle cx="467.32" cy="102.28" r="3.75"/><circle cx="467.41" cy="103.39" r="3.75"/><circle cx="467.36" cy="105.72" r="3.75"/><circle cx="467.09" cy="110.3" r="3.75"/><circle cx="467.29" cy="105.9" r="3.75"/><circle cx="466.93" cy="100.38" r="3.75"/><circle cx="467.44" cy="112.57" r="3.75"/><circle cx="467.39" cy="100.35" r="3.75"/><circle cx="467.34" cy="99.18" r="3.75"/><circle cx="467.28" cy="102.99" r="3.75"/><circle cx="467.15" cy="106.4" r="3.75"/><circle cx="467.4" cy="106.3" r="3.75"/><circle cx="467.41" cy="101.47" r="3.75"/><circle cx="467.27" cy="105.29" r="3.75"/><circle cx="467.07" cy="108.43" r="3.75"/><circle cx="467.14" cy="96.63" r="3.75"/><circle cx="467.07" cy="119.2" r="3.75"/><circle cx="467.38" cy="121.87" r="3.75"/><circle cx="467.32" cy="122.33" r="3.75"/><circle cx="467.27" cy="125.14" r="3.75"/><circle cx="467.25" cy="126.85" r="3.75"/><circle cx="467.14" cy="127.66" r="3.75"/><circle cx="467.3" cy="129.42" r="3.75"/><circle cx="466.99" cy="131.65" r="3.75"/><circle cx="467.44" cy="132.18" r="3.75"/><circle cx="467.08" cy="134.34" r="3.75"/><circle cx="466.94" cy="135.72" r="3.75"/><circle cx="466.92" cy="136.65" r="3.75"/><circle cx="467.41" cy="142" r="3.75"/><circle cx="479.78" cy="67" r="3.75"/><circle cx="479.92" cy="70.5" r="3.75"/><circle cx="479.9" cy="78" r="3.75"/><circle cx="480.12" cy="80" r="3.75"/><circle cx="479.74" cy="83" r="3.75"/><circle cx="479.71" cy="106.52" r="3.75"/><circle cx="479.91" cy="109.05" r="3.75"/><circle cx="479.75" cy="111.72" r="3.75"/><circle cx="480.14" cy="105.12" r="3.75"/><circle cx="480.13" cy="109.82" r="3.75"/><circle cx="479.76" cy="115.42" r="3.75"/><circle cx="479.94" cy="107.19" r="3.75"/><circle cx="479.76" cy="104.91" r="3.75"/><circle cx="480.15" cy="106.57" r="3.75"/><circle cx="480.28" cy="102.66" r="3.75"/><circle cx="480.23" cy="97.84" r="3.75"/><circle cx="480.1" cy="103.71" r="3.75"/><circle cx="479.84" cy="112.95" r="3.75"/><circle cx="480.05" cy="106.67" r="3.75"/><circle cx="480.17" cy="95.06" r="3.75"/><circle cx="479.9" cy="104.14" r="3.75"/><circle cx="479.88" cy="115.47" r="3.75"/><circle cx="479.98" cy="99.67" r="3.75"/><circle cx="480.2" cy="121" r="3.75"/><circle cx="480.15" cy="124" r="3.75"/><circle cx="480.02" cy="154" r="3.75"/><circle cx="492.23" cy="65" r="3.75"/><circle cx="491.94" cy="97" r="3.75"/><circle cx="491.93" cy="105" r="3.75"/><circle cx="492.29" cy="110" r="3.75"/><circle cx="491.89" cy="129" r="3.75"/><circle cx="503.78" cy="79" r="3.75"/><circle cx="504.21" cy="98.77" r="3.75"/><circle cx="504.18" cy="100.03" r="3.75"/><circle cx="504.11" cy="97.1" r="3.75"/><circle cx="504.27" cy="94.95" r="3.75"/><circle cx="504.02" cy="104.16" r="3.75"/><circle cx="503.88" cy="107.13" r="3.75"/><circle cx="504.28" cy="105.92" r="3.75"/><circle cx="504.16" cy="96.4" r="3.75"/><circle cx="504.16" cy="104.33" r="3.75"/><circle cx="504.26" cy="109.94" r="3.75"/><circle cx="504.05" cy="106.35" r="3.75"/><circle cx="503.74" cy="99.64" r="3.75"/><circle cx="515.99" cy="61" r="3.75"/><circle cx="527.82" cy="62" r="3.75"/><circle cx="528.03" cy="66" r="3.75"/><circle cx="527.94" cy="70" r="3.75"/><circle cx="528.23" cy="74" r="3.75"/><circle cx="527.74" cy="91" r="3.75"/><circle cx="552.38" cy="22" r="3.75"/><circle cx="552.27" cy="57" r="3.75"/><circle cx="552.17" cy="63" r="3.75"/><circle cx="552.61" cy="70" r="3.75"/><circle cx="552.49" cy="73" r="3.75"/><circle cx="552.31" cy="76" r="3.75"/><circle cx="552.42" cy="98" r="3.75"/><circle cx="552.37" cy="100" r="3.75"/><circle cx="552.14" cy="103" r="3.75"/><circle cx="552.3" cy="107" r="3.75"/><circle cx="552.12" cy="119" r="3.75"/><circle cx="555.76" cy="121" r="3.75"/><circle cx="576.61" cy="55" r="3.75"/><circle cx="576.57" cy="57" r="3.75"/><circle cx="576.28" cy="60" r="3.75"/><circle cx="576.11" cy="64" r="3.75"/><circle cx="576.63" cy="89" r="3.75"/><circle cx="576.14" cy="95" r="3.75"/><circle cx="576.25" cy="102" r="3.75"/><circle cx="576.61" cy="111" r="3.75"/><circle cx="576.44" cy="125" r="3.75"/><circle cx="600.36" cy="94" r="3.75"/><circle cx="600.57" cy="116" r="3.75"/><circle cx="612.65" cy="77.6" r="3.75"/><circle cx="624.45" cy="29" r="3.75"/><circle cx="624.65" cy="50" r="3.75"/><circle cx="624.14" cy="77" r="3.75"/><circle cx="624.41" cy="83" r="3.75"/></g>
<polyline points="469,111 624.4,67" class="ln"/>
</g>
<path d="M467.6 19.55V161.9" class="dt"/>
<g clip-path="url(#cpc)">
<polygon points="78,293 150,296.86 250,301.05 315,302.8 315,308 250,304.05 150,299.46 78,297" class="band"/>
<g class="pt"><circle cx="77.31" cy="287" r="3.75"/><circle cx="77.41" cy="290" r="3.75"/><circle cx="77.19" cy="293" r="3.75"/><circle cx="77.28" cy="295" r="3.75"/><circle cx="77.07" cy="298" r="3.75"/><circle cx="77.34" cy="301" r="3.75"/><circle cx="77.25" cy="310.3" r="3.75"/><circle cx="134.89" cy="269.4" r="3.75"/><circle cx="135.3" cy="289.21" r="3.75"/><circle cx="134.48" cy="293.96" r="3.75"/><circle cx="134.59" cy="310.68" r="3.75"/><circle cx="133.8" cy="311.89" r="3.75"/><circle cx="135.62" cy="297.07" r="3.75"/><circle cx="135.35" cy="301.58" r="3.75"/><circle cx="134.19" cy="308.64" r="3.75"/><circle cx="134.45" cy="298.04" r="3.75"/><circle cx="134.1" cy="294.67" r="3.75"/><circle cx="135.63" cy="287.51" r="3.75"/><circle cx="135.18" cy="299.02" r="3.75"/><circle cx="135.7" cy="278.51" r="3.75"/><circle cx="134.1" cy="295.44" r="3.75"/><circle cx="135.09" cy="280.11" r="3.75"/><circle cx="135.12" cy="305.8" r="3.75"/><circle cx="133.82" cy="290.49" r="3.75"/><circle cx="135.15" cy="284.21" r="3.75"/><circle cx="134.65" cy="297.4" r="3.75"/><circle cx="134.56" cy="297.21" r="3.75"/><circle cx="134.28" cy="307.71" r="3.75"/><circle cx="135.68" cy="306.68" r="3.75"/><circle cx="135.03" cy="309.97" r="3.75"/><circle cx="135.12" cy="297.9" r="3.75"/><circle cx="134.61" cy="305.38" r="3.75"/><circle cx="134.12" cy="297.44" r="3.75"/><circle cx="134.28" cy="305.53" r="3.75"/><circle cx="135.77" cy="301.56" r="3.75"/><circle cx="134.98" cy="295.89" r="3.75"/><circle cx="133.72" cy="303.91" r="3.75"/><circle cx="135.43" cy="297.28" r="3.75"/><circle cx="135.29" cy="298.14" r="3.75"/><circle cx="134.99" cy="300.38" r="3.75"/><circle cx="133.54" cy="299.95" r="3.75"/><circle cx="135.26" cy="300.41" r="3.75"/><circle cx="134" cy="297.17" r="3.75"/><circle cx="134.92" cy="294.9" r="3.75"/><circle cx="135.02" cy="289.62" r="3.75"/><circle cx="134.52" cy="291.43" r="3.75"/><circle cx="134.01" cy="290.73" r="3.75"/><circle cx="135.58" cy="291.41" r="3.75"/><circle cx="133.85" cy="302.25" r="3.75"/><circle cx="133.59" cy="282.55" r="3.75"/><circle cx="135.27" cy="304.58" r="3.75"/><circle cx="135.62" cy="305.35" r="3.75"/><circle cx="134.49" cy="287.96" r="3.75"/><circle cx="134.59" cy="300.36" r="3.75"/><circle cx="135.07" cy="273.73" r="3.75"/><circle cx="134.61" cy="301.44" r="3.75"/><circle cx="135.73" cy="283.65" r="3.75"/><circle cx="134.61" cy="303.7" r="3.75"/><circle cx="133.5" cy="284.56" r="3.75"/><circle cx="135.38" cy="297.41" r="3.75"/><circle cx="135.07" cy="292.94" r="3.75"/><circle cx="135.34" cy="282.52" r="3.75"/><circle cx="133.98" cy="284.29" r="3.75"/><circle cx="134.74" cy="299.76" r="3.75"/><circle cx="133.87" cy="288.24" r="3.75"/><circle cx="134.07" cy="285.6" r="3.75"/><circle cx="134.79" cy="304.11" r="3.75"/><circle cx="134.25" cy="297.32" r="3.75"/><circle cx="134.53" cy="290.7" r="3.75"/><circle cx="133.88" cy="287.25" r="3.75"/><circle cx="133.93" cy="288.84" r="3.75"/><circle cx="134.43" cy="293.73" r="3.75"/><circle cx="133.95" cy="287.95" r="3.75"/><circle cx="134.77" cy="286.79" r="3.75"/><circle cx="133.69" cy="293.17" r="3.75"/><circle cx="135.48" cy="289.05" r="3.75"/><circle cx="134.57" cy="288.67" r="3.75"/><circle cx="134.63" cy="304.67" r="3.75"/><circle cx="135.08" cy="292.97" r="3.75"/><circle cx="135.03" cy="299.74" r="3.75"/><circle cx="135.44" cy="304.73" r="3.75"/><circle cx="134.61" cy="290.89" r="3.75"/><circle cx="134.12" cy="300.42" r="3.75"/><circle cx="134.41" cy="312.23" r="3.75"/><circle cx="135.53" cy="313.5" r="3.75"/><circle cx="133.56" cy="314.54" r="3.75"/><circle cx="134.88" cy="315.83" r="3.75"/><circle cx="133.97" cy="318.91" r="3.75"/><circle cx="134.43" cy="319.81" r="3.75"/><circle cx="135.38" cy="321.39" r="3.75"/><circle cx="134.8" cy="323.62" r="3.75"/><circle cx="135.58" cy="324.56" r="3.75"/><circle cx="134.13" cy="326.11" r="3.75"/><circle cx="134.59" cy="331" r="3.75"/><circle cx="134.7" cy="337" r="3.75"/><circle cx="140.54" cy="284" r="3.75"/><circle cx="140.85" cy="291" r="3.75"/><circle cx="146.82" cy="277" r="3.75"/><circle cx="146.64" cy="280" r="3.75"/><circle cx="147.02" cy="293.68" r="3.75"/><circle cx="147.19" cy="305.51" r="3.75"/><circle cx="146.63" cy="283.86" r="3.75"/><circle cx="147.13" cy="308.84" r="3.75"/><circle cx="146.6" cy="291.52" r="3.75"/><circle cx="147.14" cy="291.79" r="3.75"/><circle cx="146.77" cy="289.92" r="3.75"/><circle cx="147.02" cy="302.72" r="3.75"/><circle cx="146.92" cy="297.27" r="3.75"/><circle cx="147.03" cy="291.77" r="3.75"/><circle cx="146.6" cy="295.39" r="3.75"/><circle cx="146.87" cy="291.21" r="3.75"/><circle cx="146.95" cy="292.49" r="3.75"/><circle cx="146.75" cy="294.28" r="3.75"/><circle cx="147.12" cy="305.73" r="3.75"/><circle cx="146.87" cy="285.66" r="3.75"/><circle cx="146.79" cy="300.66" r="3.75"/><circle cx="146.63" cy="302.03" r="3.75"/><circle cx="146.88" cy="299.3" r="3.75"/><circle cx="146.75" cy="289.16" r="3.75"/><circle cx="146.89" cy="297.23" r="3.75"/><circle cx="146.78" cy="303.13" r="3.75"/><circle cx="146.96" cy="285.55" r="3.75"/><circle cx="146.98" cy="286.36" r="3.75"/><circle cx="146.64" cy="285.81" r="3.75"/><circle cx="146.76" cy="301.66" r="3.75"/><circle cx="146.94" cy="303.67" r="3.75"/><circle cx="146.77" cy="302.72" r="3.75"/><circle cx="146.63" cy="297.03" r="3.75"/><circle cx="146.91" cy="299.15" r="3.75"/><circle cx="147.05" cy="294.48" r="3.75"/><circle cx="146.8" cy="302.18" r="3.75"/><circle cx="146.96" cy="295.59" r="3.75"/><circle cx="146.75" cy="293.12" r="3.75"/><circle cx="147.12" cy="291.2" r="3.75"/><circle cx="147" cy="308" r="3.75"/><circle cx="146.7" cy="312" r="3.75"/><circle cx="146.92" cy="316" r="3.75"/><circle cx="146.82" cy="320.5" r="3.75"/><circle cx="158.39" cy="283" r="3.75"/><circle cx="158.54" cy="286" r="3.75"/><circle cx="158.62" cy="289" r="3.75"/><circle cx="158.69" cy="292" r="3.75"/><circle cx="158.83" cy="295" r="3.75"/><circle cx="158.46" cy="298" r="3.75"/><circle cx="158.89" cy="301" r="3.75"/><circle cx="158.52" cy="306" r="3.75"/><circle cx="158.69" cy="313" r="3.75"/><circle cx="158.54" cy="321.5" r="3.75"/><circle cx="164.67" cy="287" r="3.75"/><circle cx="164.81" cy="291" r="3.75"/><circle cx="171.05" cy="283" r="3.75"/><circle cx="170.64" cy="286" r="3.75"/><circle cx="170.61" cy="290" r="3.75"/><circle cx="170.81" cy="293" r="3.75"/><circle cx="170.79" cy="296" r="3.75"/><circle cx="170.87" cy="299" r="3.75"/><circle cx="171.17" cy="302" r="3.75"/><circle cx="170.78" cy="307" r="3.75"/><circle cx="170.74" cy="315.4" r="3.75"/><circle cx="182.56" cy="289" r="3.75"/><circle cx="182.5" cy="293" r="3.75"/><circle cx="182.55" cy="296" r="3.75"/><circle cx="182.62" cy="300" r="3.75"/><circle cx="182.37" cy="304" r="3.75"/><circle cx="182.75" cy="310" r="3.75"/><circle cx="182.68" cy="316" r="3.75"/><circle cx="182.75" cy="323.6" r="3.75"/><circle cx="194.86" cy="264.3" r="3.75"/><circle cx="194.71" cy="268" r="3.75"/><circle cx="195.05" cy="272" r="3.75"/><circle cx="195.12" cy="276" r="3.75"/><circle cx="194.15" cy="303.34" r="3.75"/><circle cx="194.49" cy="286.46" r="3.75"/><circle cx="194.47" cy="293.21" r="3.75"/><circle cx="194.67" cy="292" r="3.75"/><circle cx="194.45" cy="294.51" r="3.75"/><circle cx="195.17" cy="292.32" r="3.75"/><circle cx="195.37" cy="300.44" r="3.75"/><circle cx="194.83" cy="294.19" r="3.75"/><circle cx="195.33" cy="293.73" r="3.75"/><circle cx="194.21" cy="288.38" r="3.75"/><circle cx="194.03" cy="284.89" r="3.75"/><circle cx="194.46" cy="284.38" r="3.75"/><circle cx="194.04" cy="286.41" r="3.75"/><circle cx="194.72" cy="307.59" r="3.75"/><circle cx="195.81" cy="297.29" r="3.75"/><circle cx="194.05" cy="293.9" r="3.75"/><circle cx="195.27" cy="286.11" r="3.75"/><circle cx="194.47" cy="291.79" r="3.75"/><circle cx="194.23" cy="279.18" r="3.75"/><circle cx="195.69" cy="296.67" r="3.75"/><circle cx="194.35" cy="297.84" r="3.75"/><circle cx="194.98" cy="296.61" r="3.75"/><circle cx="194.02" cy="290.88" r="3.75"/><circle cx="194.5" cy="301.86" r="3.75"/><circle cx="195.22" cy="297.82" r="3.75"/><circle cx="195.01" cy="294.12" r="3.75"/><circle cx="195.42" cy="292.35" r="3.75"/><circle cx="194.1" cy="294.4" r="3.75"/><circle cx="195.64" cy="291.58" r="3.75"/><circle cx="194.09" cy="286.73" r="3.75"/><circle cx="195.77" cy="292.7" r="3.75"/><circle cx="195.13" cy="295.76" r="3.75"/><circle cx="195.68" cy="291.65" r="3.75"/><circle cx="194.61" cy="297.77" r="3.75"/><circle cx="194.63" cy="299.93" r="3.75"/><circle cx="195.54" cy="299.99" r="3.75"/><circle cx="195.68" cy="305.88" r="3.75"/><circle cx="194.02" cy="298.73" r="3.75"/><circle cx="195.42" cy="288.84" r="3.75"/><circle cx="195.64" cy="283.09" r="3.75"/><circle cx="195.07" cy="283.4" r="3.75"/><circle cx="194.78" cy="296.21" r="3.75"/><circle cx="194.95" cy="300.26" r="3.75"/><circle cx="194.59" cy="300.99" r="3.75"/><circle cx="194.92" cy="291.97" r="3.75"/><circle cx="194.66" cy="278.47" r="3.75"/><circle cx="194.5" cy="281.75" r="3.75"/><circle cx="195.55" cy="293.29" r="3.75"/><circle cx="195.09" cy="287.79" r="3.75"/><circle cx="194.03" cy="284.11" r="3.75"/><circle cx="195.24" cy="284.9" r="3.75"/><circle cx="195.58" cy="282" r="3.75"/><circle cx="195.34" cy="299.05" r="3.75"/><circle cx="195.79" cy="300.54" r="3.75"/><circle cx="194.38" cy="298.4" r="3.75"/><circle cx="194.41" cy="296.54" r="3.75"/><circle cx="195.75" cy="289.39" r="3.75"/><circle cx="195.25" cy="287.82" r="3.75"/><circle cx="195.62" cy="288.53" r="3.75"/><circle cx="193.96" cy="278.63" r="3.75"/><circle cx="194.85" cy="312" r="3.75"/><circle cx="194.99" cy="316" r="3.75"/><circle cx="195.03" cy="320" r="3.75"/><circle cx="195.14" cy="325" r="3.75"/><circle cx="194.72" cy="331.7" r="3.75"/><circle cx="207" cy="287.6" r="3.75"/><circle cx="218.73" cy="301.11" r="3.75"/><circle cx="218.95" cy="295.73" r="3.75"/><circle cx="218.94" cy="298.72" r="3.75"/><circle cx="219.08" cy="299.4" r="3.75"/><circle cx="218.87" cy="290.72" r="3.75"/><circle cx="218.87" cy="288.69" r="3.75"/><circle cx="219.06" cy="299.66" r="3.75"/><circle cx="218.78" cy="296.85" r="3.75"/><circle cx="219.2" cy="298.16" r="3.75"/><circle cx="218.87" cy="295.02" r="3.75"/><circle cx="219.16" cy="305.7" r="3.75"/><circle cx="218.82" cy="294.45" r="3.75"/><circle cx="218.94" cy="293.86" r="3.75"/><circle cx="219.03" cy="290.26" r="3.75"/><circle cx="315.02" cy="300" r="3.75"/><circle cx="90.2" cy="263" r="3.75"/><circle cx="90.3" cy="318" r="3.75"/><circle cx="87.69" cy="271.5" r="3.75"/><circle cx="87.5" cy="316.4" r="3.75"/><circle cx="100.76" cy="260" r="3.75"/><circle cx="106.08" cy="262" r="3.75"/><circle cx="104.28" cy="323" r="3.75"/><circle cx="111.83" cy="325" r="3.75"/><circle cx="123.78" cy="330" r="3.75"/><circle cx="123.81" cy="337" r="3.75"/><circle cx="131.75" cy="333" r="3.75"/><circle cx="134.01" cy="366" r="3.75"/><circle cx="133.82" cy="372" r="3.75"/><circle cx="134.23" cy="380" r="3.75"/><circle cx="243.23" cy="302" r="3.75"/><circle cx="243.22" cy="312" r="3.75"/><circle cx="243.02" cy="325" r="3.75"/><circle cx="242.97" cy="327" r="3.75"/><circle cx="243.1" cy="336" r="3.75"/><circle cx="242.94" cy="338" r="3.75"/><circle cx="243.04" cy="343" r="3.75"/><circle cx="242.74" cy="359" r="3.75"/><circle cx="243.03" cy="369" r="3.75"/><circle cx="255.04" cy="284" r="3.75"/><circle cx="254.83" cy="287" r="3.75"/><circle cx="254.81" cy="291" r="3.75"/><circle cx="254.96" cy="294" r="3.75"/><circle cx="255.24" cy="297" r="3.75"/><circle cx="255.3" cy="307" r="3.75"/><circle cx="255.13" cy="370" r="3.75"/><circle cx="267.3" cy="299" r="3.75"/><circle cx="267.3" cy="309" r="3.75"/><circle cx="267.66" cy="315" r="3.75"/><circle cx="267.26" cy="319" r="3.75"/><circle cx="279.46" cy="280" r="3.75"/><circle cx="279.53" cy="283" r="3.75"/><circle cx="279.27" cy="291" r="3.75"/><circle cx="279.66" cy="294" r="3.75"/><circle cx="279.25" cy="297" r="3.75"/><circle cx="279.7" cy="309" r="3.75"/><circle cx="279.52" cy="341" r="3.75"/><circle cx="231.02" cy="292" r="3.75"/><circle cx="231.05" cy="295" r="3.75"/><circle cx="231.24" cy="298" r="3.75"/><circle cx="231.21" cy="303" r="3.75"/><circle cx="84.3" cy="294.58" r="3.75"/><circle cx="86.96" cy="295.92" r="3.75"/><circle cx="88.94" cy="287.59" r="3.75"/><circle cx="85.14" cy="301.18" r="3.75"/><circle cx="85.44" cy="292.16" r="3.75"/><circle cx="88.99" cy="300.01" r="3.75"/><circle cx="89.46" cy="289.84" r="3.75"/><circle cx="86.46" cy="308.34" r="3.75"/><circle cx="89.83" cy="292.35" r="3.75"/><circle cx="89.38" cy="286.57" r="3.75"/><circle cx="89.52" cy="297.96" r="3.75"/><circle cx="86.39" cy="310.76" r="3.75"/><circle cx="84.44" cy="318.33" r="3.75"/><circle cx="88.64" cy="293.79" r="3.75"/><circle cx="84.3" cy="308.04" r="3.75"/><circle cx="88.84" cy="295.99" r="3.75"/><circle cx="89.89" cy="305.2" r="3.75"/><circle cx="89.69" cy="292.36" r="3.75"/><circle cx="86.56" cy="286.36" r="3.75"/><circle cx="86.16" cy="300.76" r="3.75"/><circle cx="88.58" cy="301.05" r="3.75"/><circle cx="90.23" cy="289.51" r="3.75"/><circle cx="89.35" cy="294.81" r="3.75"/><circle cx="86.21" cy="297.81" r="3.75"/><circle cx="88.17" cy="291.11" r="3.75"/><circle cx="88.8" cy="292.82" r="3.75"/><circle cx="86.23" cy="292.27" r="3.75"/><circle cx="88.97" cy="297.45" r="3.75"/><circle cx="85.75" cy="299.65" r="3.75"/><circle cx="86.34" cy="310.25" r="3.75"/><circle cx="89.65" cy="303.3" r="3.75"/><circle cx="88.52" cy="298.17" r="3.75"/><circle cx="88.93" cy="290.5" r="3.75"/><circle cx="87.8" cy="296.03" r="3.75"/><circle cx="90.18" cy="292.88" r="3.75"/><circle cx="88.65" cy="302.36" r="3.75"/><circle cx="86.46" cy="290.4" r="3.75"/><circle cx="85.15" cy="288.71" r="3.75"/><circle cx="87.35" cy="297.84" r="3.75"/><circle cx="87.01" cy="296.16" r="3.75"/><circle cx="86.39" cy="295.81" r="3.75"/><circle cx="86.43" cy="292.65" r="3.75"/><circle cx="88.22" cy="285.56" r="3.75"/><circle cx="88.04" cy="290.55" r="3.75"/><circle cx="90.75" cy="296.45" r="3.75"/><circle cx="84.53" cy="303.79" r="3.75"/><circle cx="89.35" cy="276.41" r="3.75"/><circle cx="84.81" cy="289.16" r="3.75"/><circle cx="87.77" cy="294.11" r="3.75"/><circle cx="90.5" cy="302.78" r="3.75"/><circle cx="85.61" cy="300.13" r="3.75"/><circle cx="85.9" cy="300.64" r="3.75"/><circle cx="89.39" cy="293.65" r="3.75"/><circle cx="89.87" cy="289.29" r="3.75"/><circle cx="85.64" cy="299.23" r="3.75"/><circle cx="88.04" cy="296.78" r="3.75"/><circle cx="89.41" cy="294.09" r="3.75"/><circle cx="86.75" cy="290.66" r="3.75"/><circle cx="89.73" cy="286.47" r="3.75"/><circle cx="85.07" cy="285.44" r="3.75"/><circle cx="89.62" cy="295.89" r="3.75"/><circle cx="87.36" cy="296.65" r="3.75"/><circle cx="88.52" cy="289.23" r="3.75"/><circle cx="85.28" cy="288.55" r="3.75"/><circle cx="87.97" cy="294.68" r="3.75"/><circle cx="85.84" cy="295.05" r="3.75"/><circle cx="86.69" cy="292.77" r="3.75"/><circle cx="90.84" cy="274.96" r="3.75"/><circle cx="87.98" cy="286.08" r="3.75"/><circle cx="89.6" cy="306.82" r="3.75"/><circle cx="90.72" cy="294.16" r="3.75"/><circle cx="88.15" cy="321.16" r="3.75"/><circle cx="88.51" cy="296.67" r="3.75"/><circle cx="85.01" cy="311.87" r="3.75"/><circle cx="88.83" cy="307.09" r="3.75"/><circle cx="85.49" cy="288.96" r="3.75"/><circle cx="90.86" cy="308.4" r="3.75"/><circle cx="89.6" cy="274.25" r="3.75"/><circle cx="90.64" cy="296.03" r="3.75"/><circle cx="85.67" cy="300.08" r="3.75"/><circle cx="87.33" cy="301.95" r="3.75"/><circle cx="89.84" cy="309.66" r="3.75"/><circle cx="86.39" cy="294.84" r="3.75"/><circle cx="85.45" cy="299.05" r="3.75"/><circle cx="85.91" cy="290.42" r="3.75"/><circle cx="84.42" cy="305.76" r="3.75"/><circle cx="87.91" cy="297.03" r="3.75"/><circle cx="88.43" cy="289.81" r="3.75"/><circle cx="85.85" cy="301.97" r="3.75"/><circle cx="86.57" cy="289.57" r="3.75"/><circle cx="90.46" cy="287.66" r="3.75"/><circle cx="85.31" cy="294.37" r="3.75"/><circle cx="84.77" cy="294.36" r="3.75"/><circle cx="90.07" cy="296.53" r="3.75"/><circle cx="90.28" cy="299.65" r="3.75"/><circle cx="86.47" cy="287.76" r="3.75"/><circle cx="86.01" cy="299.02" r="3.75"/><circle cx="86.17" cy="299.69" r="3.75"/><circle cx="87.52" cy="298.36" r="3.75"/><circle cx="87.49" cy="303.5" r="3.75"/><circle cx="91.7" cy="280.68" r="3.75"/><circle cx="94.77" cy="287.78" r="3.75"/><circle cx="93.71" cy="296.24" r="3.75"/><circle cx="92.19" cy="308.7" r="3.75"/><circle cx="95.24" cy="295.1" r="3.75"/><circle cx="94.89" cy="301.17" r="3.75"/><circle cx="92.05" cy="293.73" r="3.75"/><circle cx="92.92" cy="308.15" r="3.75"/><circle cx="92.97" cy="309.85" r="3.75"/><circle cx="95.96" cy="287.81" r="3.75"/><circle cx="93.79" cy="288.31" r="3.75"/><circle cx="93.04" cy="303.41" r="3.75"/><circle cx="95.83" cy="294.72" r="3.75"/><circle cx="94.94" cy="310.92" r="3.75"/><circle cx="92.39" cy="298.31" r="3.75"/><circle cx="94.98" cy="283.93" r="3.75"/><circle cx="93.58" cy="301.74" r="3.75"/><circle cx="95.77" cy="303.17" r="3.75"/><circle cx="95.54" cy="291.11" r="3.75"/><circle cx="91.14" cy="306.49" r="3.75"/><circle cx="102.26" cy="284.95" r="3.75"/><circle cx="98.67" cy="288.84" r="3.75"/><circle cx="97.16" cy="294.79" r="3.75"/><circle cx="99.9" cy="305.08" r="3.75"/><circle cx="97.73" cy="293.49" r="3.75"/><circle cx="97.93" cy="292.59" r="3.75"/><circle cx="98.77" cy="302.55" r="3.75"/><circle cx="104.11" cy="311.21" r="3.75"/><circle cx="100.26" cy="283.7" r="3.75"/><circle cx="102.56" cy="311.39" r="3.75"/><circle cx="101.7" cy="297.65" r="3.75"/><circle cx="101.24" cy="292.09" r="3.75"/><circle cx="98.64" cy="297.76" r="3.75"/><circle cx="103.58" cy="293.21" r="3.75"/><circle cx="103.83" cy="314.43" r="3.75"/><circle cx="100.55" cy="301.7" r="3.75"/><circle cx="103.7" cy="265.33" r="3.75"/><circle cx="99.03" cy="299.8" r="3.75"/><circle cx="98.04" cy="274.78" r="3.75"/><circle cx="98.54" cy="272.83" r="3.75"/><circle cx="101.99" cy="293.03" r="3.75"/><circle cx="101.41" cy="304.08" r="3.75"/><circle cx="102.66" cy="269.77" r="3.75"/><circle cx="101.73" cy="294.74" r="3.75"/><circle cx="96.78" cy="291.89" r="3.75"/><circle cx="98.43" cy="292.15" r="3.75"/><circle cx="100.78" cy="280.57" r="3.75"/><circle cx="99.76" cy="302.66" r="3.75"/><circle cx="102.98" cy="280.7" r="3.75"/><circle cx="101.42" cy="289.4" r="3.75"/><circle cx="100.52" cy="292.86" r="3.75"/><circle cx="97.69" cy="293.76" r="3.75"/><circle cx="99" cy="294.93" r="3.75"/><circle cx="102.04" cy="300.8" r="3.75"/><circle cx="100.04" cy="302.08" r="3.75"/><circle cx="97.91" cy="307.01" r="3.75"/><circle cx="98.9" cy="298.83" r="3.75"/><circle cx="100.53" cy="309.05" r="3.75"/><circle cx="96.61" cy="292.19" r="3.75"/><circle cx="98.59" cy="287.65" r="3.75"/><circle cx="97.32" cy="282.98" r="3.75"/><circle cx="98.51" cy="286.39" r="3.75"/><circle cx="104.46" cy="289.48" r="3.75"/><circle cx="102.91" cy="297.34" r="3.75"/><circle cx="100.6" cy="280.01" r="3.75"/><circle cx="100.29" cy="297.1" r="3.75"/><circle cx="99.96" cy="312.07" r="3.75"/><circle cx="100.9" cy="299.09" r="3.75"/><circle cx="102.21" cy="305.08" r="3.75"/><circle cx="99.24" cy="298.28" r="3.75"/><circle cx="100.71" cy="291.26" r="3.75"/><circle cx="102.38" cy="286.4" r="3.75"/><circle cx="102.07" cy="312.73" r="3.75"/><circle cx="101.5" cy="302.97" r="3.75"/><circle cx="98.65" cy="296.47" r="3.75"/><circle cx="101.1" cy="292.03" r="3.75"/><circle cx="103.32" cy="290.33" r="3.75"/><circle cx="100.39" cy="271.08" r="3.75"/><circle cx="103.81" cy="312.81" r="3.75"/><circle cx="98.04" cy="299.62" r="3.75"/><circle cx="101.68" cy="306.32" r="3.75"/><circle cx="103.27" cy="293.35" r="3.75"/><circle cx="101.95" cy="294.53" r="3.75"/><circle cx="100.39" cy="293.22" r="3.75"/><circle cx="101.7" cy="290.16" r="3.75"/><circle cx="97.95" cy="269.49" r="3.75"/><circle cx="100.69" cy="286.36" r="3.75"/><circle cx="103.84" cy="286.65" r="3.75"/><circle cx="100.53" cy="307.45" r="3.75"/><circle cx="102.46" cy="300.73" r="3.75"/><circle cx="102.09" cy="282.24" r="3.75"/><circle cx="103.33" cy="294.8" r="3.75"/><circle cx="102.12" cy="288.59" r="3.75"/><circle cx="97.33" cy="275.37" r="3.75"/><circle cx="102.1" cy="304.49" r="3.75"/><circle cx="104.05" cy="280.54" r="3.75"/><circle cx="99.66" cy="294.65" r="3.75"/><circle cx="102.48" cy="276.14" r="3.75"/><circle cx="100.61" cy="270.45" r="3.75"/><circle cx="98.25" cy="296.69" r="3.75"/><circle cx="99.04" cy="303.89" r="3.75"/><circle cx="103.19" cy="311.68" r="3.75"/><circle cx="99.35" cy="279.03" r="3.75"/><circle cx="101.62" cy="304.87" r="3.75"/><circle cx="99.95" cy="306.31" r="3.75"/><circle cx="97.25" cy="290.09" r="3.75"/><circle cx="99.44" cy="290.37" r="3.75"/><circle cx="101.51" cy="298.79" r="3.75"/><circle cx="100.92" cy="287.39" r="3.75"/><circle cx="98.2" cy="272.06" r="3.75"/><circle cx="98.72" cy="282.89" r="3.75"/><circle cx="102.02" cy="280.89" r="3.75"/><circle cx="96.93" cy="295.89" r="3.75"/><circle cx="97.08" cy="286.4" r="3.75"/><circle cx="104.24" cy="313.15" r="3.75"/><circle cx="98.2" cy="310.74" r="3.75"/><circle cx="98.15" cy="308.55" r="3.75"/><circle cx="104.17" cy="285.27" r="3.75"/><circle cx="96.82" cy="289.38" r="3.75"/><circle cx="98.71" cy="283.79" r="3.75"/><circle cx="99.91" cy="297.77" r="3.75"/><circle cx="103.95" cy="282.85" r="3.75"/><circle cx="104" cy="289.79" r="3.75"/><circle cx="97.55" cy="290.74" r="3.75"/><circle cx="100.81" cy="315.05" r="3.75"/><circle cx="102.24" cy="254.5" r="3.75"/><circle cx="96.51" cy="305.71" r="3.75"/><circle cx="97.52" cy="286.22" r="3.75"/><circle cx="102.11" cy="301.77" r="3.75"/><circle cx="101.09" cy="290.82" r="3.75"/><circle cx="111.16" cy="288.47" r="3.75"/><circle cx="110.44" cy="290.17" r="3.75"/><circle cx="113.79" cy="289.95" r="3.75"/><circle cx="110.64" cy="293.97" r="3.75"/><circle cx="112.2" cy="314.48" r="3.75"/><circle cx="109.78" cy="305.78" r="3.75"/><circle cx="107.43" cy="296.73" r="3.75"/><circle cx="113.15" cy="300.23" r="3.75"/><circle cx="112.87" cy="269.62" r="3.75"/><circle cx="107.5" cy="311.76" r="3.75"/><circle cx="105.53" cy="304.53" r="3.75"/><circle cx="107.14" cy="280.43" r="3.75"/><circle cx="108.37" cy="307.73" r="3.75"/><circle cx="110.29" cy="302.46" r="3.75"/><circle cx="111.19" cy="307.17" r="3.75"/><circle cx="108.59" cy="278.99" r="3.75"/><circle cx="109.28" cy="304.02" r="3.75"/><circle cx="108.99" cy="307.36" r="3.75"/><circle cx="111.76" cy="292.7" r="3.75"/><circle cx="111.35" cy="305.36" r="3.75"/><circle cx="106.85" cy="297.12" r="3.75"/><circle cx="111.48" cy="309.37" r="3.75"/><circle cx="106.6" cy="286.24" r="3.75"/><circle cx="109.15" cy="302.15" r="3.75"/><circle cx="106.12" cy="289.64" r="3.75"/><circle cx="107.72" cy="281.04" r="3.75"/><circle cx="110.32" cy="304.1" r="3.75"/><circle cx="105.59" cy="280.75" r="3.75"/><circle cx="108.36" cy="299.77" r="3.75"/><circle cx="111.79" cy="316.82" r="3.75"/><circle cx="112.25" cy="313.3" r="3.75"/><circle cx="106.78" cy="297.45" r="3.75"/><circle cx="107.16" cy="281.99" r="3.75"/><circle cx="107.79" cy="299.2" r="3.75"/><circle cx="113.26" cy="292.65" r="3.75"/><circle cx="106.8" cy="268.94" r="3.75"/><circle cx="109.74" cy="288.94" r="3.75"/><circle cx="106.4" cy="303.84" r="3.75"/><circle cx="113.64" cy="298.42" r="3.75"/><circle cx="105.65" cy="298.41" r="3.75"/><circle cx="112.62" cy="302.32" r="3.75"/><circle cx="107.21" cy="289.2" r="3.75"/><circle cx="108.02" cy="282.84" r="3.75"/><circle cx="107.89" cy="302.04" r="3.75"/><circle cx="112.16" cy="293.73" r="3.75"/><circle cx="113.95" cy="271.95" r="3.75"/><circle cx="112.21" cy="313.04" r="3.75"/><circle cx="108.98" cy="289.42" r="3.75"/><circle cx="105.72" cy="301.41" r="3.75"/><circle cx="111.45" cy="320.69" r="3.75"/><circle cx="112.86" cy="313.27" r="3.75"/><circle cx="108.02" cy="302.46" r="3.75"/><circle cx="108.15" cy="277.69" r="3.75"/><circle cx="111.87" cy="303.76" r="3.75"/><circle cx="114.39" cy="307.24" r="3.75"/><circle cx="111.07" cy="296.42" r="3.75"/><circle cx="109.53" cy="278.8" r="3.75"/><circle cx="110.08" cy="310.37" r="3.75"/><circle cx="106.87" cy="287.97" r="3.75"/><circle cx="108.07" cy="302.84" r="3.75"/><circle cx="106.4" cy="304.5" r="3.75"/><circle cx="114.25" cy="282.13" r="3.75"/><circle cx="111.7" cy="272.33" r="3.75"/><circle cx="111.03" cy="296.18" r="3.75"/><circle cx="113.47" cy="305.24" r="3.75"/><circle cx="107.41" cy="288.21" r="3.75"/><circle cx="108.6" cy="304.1" r="3.75"/><circle cx="109.05" cy="288.67" r="3.75"/><circle cx="107.49" cy="296.08" r="3.75"/><circle cx="113.3" cy="295.41" r="3.75"/><circle cx="106.95" cy="297.9" r="3.75"/><circle cx="109.34" cy="304.21" r="3.75"/><circle cx="110.74" cy="295.95" r="3.75"/><circle cx="111.57" cy="283.96" r="3.75"/><circle cx="105.86" cy="285.62" r="3.75"/><circle cx="106.17" cy="286.75" r="3.75"/><circle cx="114.22" cy="286.17" r="3.75"/><circle cx="107.39" cy="289.1" r="3.75"/><circle cx="110.18" cy="305.47" r="3.75"/><circle cx="106.28" cy="282.83" r="3.75"/><circle cx="108.32" cy="300.41" r="3.75"/><circle cx="111.15" cy="293.61" r="3.75"/><circle cx="113.32" cy="289.79" r="3.75"/><circle cx="105.84" cy="282.47" r="3.75"/><circle cx="108.06" cy="296.66" r="3.75"/><circle cx="111.46" cy="304.12" r="3.75"/><circle cx="108.4" cy="299.44" r="3.75"/><circle cx="109.21" cy="296.37" r="3.75"/><circle cx="109.39" cy="287.43" r="3.75"/><circle cx="112.7" cy="292.79" r="3.75"/><circle cx="113.87" cy="316.03" r="3.75"/><circle cx="108.9" cy="281.03" r="3.75"/><circle cx="109.53" cy="300.51" r="3.75"/><circle cx="113.59" cy="291.51" r="3.75"/><circle cx="112.84" cy="295.71" r="3.75"/><circle cx="110.26" cy="296.78" r="3.75"/><circle cx="107.27" cy="299.96" r="3.75"/><circle cx="109.16" cy="305.54" r="3.75"/><circle cx="112.2" cy="289.65" r="3.75"/><circle cx="112.5" cy="278.11" r="3.75"/><circle cx="109.1" cy="290.01" r="3.75"/><circle cx="110.22" cy="304.35" r="3.75"/><circle cx="109.85" cy="274.74" r="3.75"/><circle cx="108.72" cy="286.26" r="3.75"/><circle cx="110.55" cy="300.9" r="3.75"/><circle cx="110.74" cy="308.73" r="3.75"/><circle cx="111.58" cy="290.56" r="3.75"/><circle cx="108.66" cy="297.76" r="3.75"/><circle cx="107.97" cy="305.2" r="3.75"/><circle cx="111.82" cy="318.1" r="3.75"/><circle cx="113.98" cy="303.84" r="3.75"/><circle cx="108.23" cy="293.05" r="3.75"/><circle cx="109.96" cy="286.85" r="3.75"/><circle cx="106.26" cy="302.02" r="3.75"/><circle cx="113.81" cy="304.83" r="3.75"/><circle cx="108.91" cy="285.28" r="3.75"/><circle cx="110.88" cy="286.07" r="3.75"/><circle cx="112.05" cy="293.49" r="3.75"/><circle cx="107.8" cy="283" r="3.75"/><circle cx="111.95" cy="310.83" r="3.75"/><circle cx="115.4" cy="292.51" r="3.75"/><circle cx="115.22" cy="307.42" r="3.75"/><circle cx="117.83" cy="291.78" r="3.75"/><circle cx="115.99" cy="292.11" r="3.75"/><circle cx="115.34" cy="302.05" r="3.75"/><circle cx="116.95" cy="309" r="3.75"/><circle cx="118.28" cy="302.53" r="3.75"/><circle cx="117.11" cy="284.16" r="3.75"/><circle cx="115.56" cy="280.18" r="3.75"/><circle cx="118.02" cy="304.9" r="3.75"/><circle cx="117.85" cy="310.82" r="3.75"/><circle cx="115.65" cy="286.62" r="3.75"/><circle cx="118.58" cy="309.85" r="3.75"/><circle cx="117.1" cy="295.93" r="3.75"/><circle cx="118.25" cy="304.57" r="3.75"/><circle cx="116.61" cy="279.88" r="3.75"/><circle cx="118.42" cy="288.91" r="3.75"/><circle cx="116.73" cy="301.56" r="3.75"/><circle cx="117.19" cy="304.39" r="3.75"/><circle cx="118.31" cy="299.13" r="3.75"/><circle cx="114.65" cy="313.69" r="3.75"/><circle cx="116.6" cy="284.7" r="3.75"/><circle cx="118.49" cy="305.28" r="3.75"/><circle cx="117.99" cy="292.96" r="3.75"/><circle cx="115.43" cy="293.6" r="3.75"/><circle cx="122" cy="303.14" r="3.75"/><circle cx="126.35" cy="292.65" r="3.75"/><circle cx="120.62" cy="291.58" r="3.75"/><circle cx="125.55" cy="328.95" r="3.75"/><circle cx="120.32" cy="285.49" r="3.75"/><circle cx="125.15" cy="296.55" r="3.75"/><circle cx="123.2" cy="305.84" r="3.75"/><circle cx="121.99" cy="304.71" r="3.75"/><circle cx="122.37" cy="296.31" r="3.75"/><circle cx="121.08" cy="296.42" r="3.75"/><circle cx="123.17" cy="286.44" r="3.75"/><circle cx="125.85" cy="287.88" r="3.75"/><circle cx="125.6" cy="291.94" r="3.75"/><circle cx="123.82" cy="311.79" r="3.75"/><circle cx="124.71" cy="289.68" r="3.75"/><circle cx="123.44" cy="310.01" r="3.75"/><circle cx="125.7" cy="308.54" r="3.75"/><circle cx="124.9" cy="307.15" r="3.75"/><circle cx="125.59" cy="296.76" r="3.75"/><circle cx="121.08" cy="302.06" r="3.75"/><circle cx="121.35" cy="299.26" r="3.75"/><circle cx="121.46" cy="301.78" r="3.75"/><circle cx="125.68" cy="286.17" r="3.75"/><circle cx="122.35" cy="304.34" r="3.75"/><circle cx="121.25" cy="306.33" r="3.75"/><circle cx="124.99" cy="311.8" r="3.75"/><circle cx="123.59" cy="293.8" r="3.75"/><circle cx="123.66" cy="292.3" r="3.75"/><circle cx="125.36" cy="279.34" r="3.75"/><circle cx="122.9" cy="286.7" r="3.75"/><circle cx="121.06" cy="298.85" r="3.75"/><circle cx="120.48" cy="304.21" r="3.75"/><circle cx="121.12" cy="288.33" r="3.75"/><circle cx="120.26" cy="310.53" r="3.75"/><circle cx="123.71" cy="300.75" r="3.75"/><circle cx="125.96" cy="299.61" r="3.75"/><circle cx="123.81" cy="287.84" r="3.75"/><circle cx="120.13" cy="305.25" r="3.75"/><circle cx="123.84" cy="309.04" r="3.75"/><circle cx="124.41" cy="308.1" r="3.75"/><circle cx="122.56" cy="293.99" r="3.75"/><circle cx="120.92" cy="297.65" r="3.75"/><circle cx="125.36" cy="306.02" r="3.75"/><circle cx="124.05" cy="299.96" r="3.75"/><circle cx="123.1" cy="295.09" r="3.75"/><circle cx="124.25" cy="301.45" r="3.75"/><circle cx="120.26" cy="312.37" r="3.75"/><circle cx="124.21" cy="286.3" r="3.75"/><circle cx="120.27" cy="289.55" r="3.75"/><circle cx="123.55" cy="293.81" r="3.75"/><circle cx="126.42" cy="305.04" r="3.75"/><circle cx="123.4" cy="295.58" r="3.75"/><circle cx="125.79" cy="286.63" r="3.75"/><circle cx="121.07" cy="281.97" r="3.75"/><circle cx="121.12" cy="300.58" r="3.75"/><circle cx="120.94" cy="285.38" r="3.75"/><circle cx="125.67" cy="299.95" r="3.75"/><circle cx="124.18" cy="299.91" r="3.75"/><circle cx="125.42" cy="308.78" r="3.75"/><circle cx="121.06" cy="295.31" r="3.75"/><circle cx="123.91" cy="307.94" r="3.75"/><circle cx="124.65" cy="305.64" r="3.75"/><circle cx="125.6" cy="308.69" r="3.75"/><circle cx="124.27" cy="312.82" r="3.75"/><circle cx="123.42" cy="282.51" r="3.75"/><circle cx="121.79" cy="293.48" r="3.75"/><circle cx="125.88" cy="311.29" r="3.75"/><circle cx="121.82" cy="300.92" r="3.75"/><circle cx="121.55" cy="290.72" r="3.75"/><circle cx="120.35" cy="283.34" r="3.75"/><circle cx="122.71" cy="311.46" r="3.75"/><circle cx="124.04" cy="307.13" r="3.75"/><circle cx="123.4" cy="303.99" r="3.75"/><circle cx="120.09" cy="295.27" r="3.75"/><circle cx="120.66" cy="318.88" r="3.75"/><circle cx="125.11" cy="293.78" r="3.75"/><circle cx="121.16" cy="293" r="3.75"/><circle cx="124.35" cy="289.75" r="3.75"/><circle cx="125.24" cy="294.89" r="3.75"/><circle cx="123.54" cy="308.12" r="3.75"/><circle cx="122.89" cy="294.66" r="3.75"/><circle cx="125.41" cy="292.31" r="3.75"/><circle cx="125.08" cy="316.46" r="3.75"/><circle cx="124.27" cy="281.22" r="3.75"/><circle cx="121.13" cy="285.72" r="3.75"/><circle cx="126.23" cy="305.84" r="3.75"/><circle cx="120.02" cy="291.47" r="3.75"/><circle cx="126.5" cy="311.35" r="3.75"/><circle cx="126.33" cy="289.28" r="3.75"/><circle cx="121.02" cy="295.21" r="3.75"/><circle cx="121.08" cy="309.36" r="3.75"/><circle cx="121.15" cy="307.44" r="3.75"/><circle cx="122.65" cy="288.9" r="3.75"/><circle cx="122.66" cy="293.78" r="3.75"/><circle cx="122.6" cy="282.69" r="3.75"/><circle cx="120.67" cy="294.83" r="3.75"/><circle cx="121.16" cy="307.32" r="3.75"/><circle cx="123.81" cy="312.91" r="3.75"/><circle cx="120.34" cy="295.03" r="3.75"/><circle cx="120.91" cy="326.79" r="3.75"/><circle cx="131.32" cy="289.96" r="3.75"/><circle cx="131.59" cy="300.15" r="3.75"/><circle cx="133.18" cy="318.51" r="3.75"/><circle cx="132.05" cy="301.56" r="3.75"/><circle cx="133.01" cy="300.41" r="3.75"/><circle cx="131.93" cy="311.61" r="3.75"/><circle cx="132.58" cy="304.53" r="3.75"/><circle cx="130.72" cy="307.03" r="3.75"/><circle cx="132.25" cy="287.69" r="3.75"/><circle cx="133.12" cy="310.09" r="3.75"/><circle cx="130.48" cy="296.87" r="3.75"/><circle cx="132.43" cy="301.89" r="3.75"/><circle cx="131.43" cy="293.19" r="3.75"/><circle cx="132.98" cy="304.5" r="3.75"/><circle cx="133.29" cy="306.34" r="3.75"/><circle cx="130.04" cy="302.55" r="3.75"/><circle cx="131.58" cy="304.19" r="3.75"/><circle cx="132.43" cy="303.04" r="3.75"/><circle cx="131.76" cy="307.66" r="3.75"/><circle cx="130.75" cy="291.48" r="3.75"/><circle cx="130.93" cy="297.04" r="3.75"/><circle cx="132.86" cy="300.69" r="3.75"/><circle cx="130.14" cy="316.02" r="3.75"/><circle cx="133.05" cy="308.5" r="3.75"/><circle cx="133.47" cy="316.8" r="3.75"/><circle cx="130.77" cy="300.55" r="3.75"/><circle cx="133.23" cy="298.04" r="3.75"/><circle cx="132.31" cy="301.17" r="3.75"/><circle cx="131.34" cy="298.9" r="3.75"/><circle cx="132.08" cy="301.34" r="3.75"/></g>
<polyline points="78,295 315,305.4" class="ln"/>
</g>
<g clip-path="url(#cpd)">
<polygon points="441,309 480,311 520,313 559,316.1 600,319.5 636.4,324.2 636.4,330.6 600,323.5 559,319.1 520,315.6 480,313.6 441,313" class="band"/>
<g class="pt"><circle cx="442.68" cy="319.89" r="3.75"/><circle cx="442.77" cy="312.1" r="3.75"/><circle cx="442.3" cy="321.66" r="3.75"/><circle cx="442.77" cy="303.37" r="3.75"/><circle cx="442.52" cy="316.84" r="3.75"/><circle cx="442.27" cy="307.84" r="3.75"/><circle cx="442.12" cy="307.01" r="3.75"/><circle cx="442.85" cy="304.99" r="3.75"/><circle cx="442.76" cy="299.42" r="3.75"/><circle cx="442.51" cy="305.02" r="3.75"/><circle cx="442.17" cy="315.62" r="3.75"/><circle cx="442.34" cy="310.3" r="3.75"/><circle cx="442.89" cy="305.77" r="3.75"/><circle cx="442.92" cy="310.92" r="3.75"/><circle cx="442.29" cy="306.78" r="3.75"/><circle cx="443.19" cy="311.54" r="3.75"/><circle cx="442.33" cy="307.47" r="3.75"/><circle cx="442.4" cy="308.59" r="3.75"/><circle cx="442.19" cy="321.23" r="3.75"/><circle cx="442.66" cy="304" r="3.75"/><circle cx="442.58" cy="323.32" r="3.75"/><circle cx="442.68" cy="306.1" r="3.75"/><circle cx="442.85" cy="307.81" r="3.75"/><circle cx="443.11" cy="313.17" r="3.75"/><circle cx="442.59" cy="309.06" r="3.75"/><circle cx="442.47" cy="308.22" r="3.75"/><circle cx="442.06" cy="317.9" r="3.75"/><circle cx="442.56" cy="314.75" r="3.75"/><circle cx="442.43" cy="307.29" r="3.75"/><circle cx="442.4" cy="311.23" r="3.75"/><circle cx="442.54" cy="303.26" r="3.75"/><circle cx="442.06" cy="322.79" r="3.75"/><circle cx="443.12" cy="306.72" r="3.75"/><circle cx="442.39" cy="306.03" r="3.75"/><circle cx="442.81" cy="306.91" r="3.75"/><circle cx="442.41" cy="319.4" r="3.75"/><circle cx="442.58" cy="304.5" r="3.75"/><circle cx="442.64" cy="310.15" r="3.75"/><circle cx="442.07" cy="300.38" r="3.75"/><circle cx="442.27" cy="310.69" r="3.75"/><circle cx="442.83" cy="312.04" r="3.75"/><circle cx="442.67" cy="301.92" r="3.75"/><circle cx="438.8" cy="297" r="3.75"/><circle cx="446.8" cy="279" r="3.75"/><circle cx="455.14" cy="309.93" r="3.75"/><circle cx="455.04" cy="318.72" r="3.75"/><circle cx="454.64" cy="311.99" r="3.75"/><circle cx="455.34" cy="336.32" r="3.75"/><circle cx="455.37" cy="322.34" r="3.75"/><circle cx="454.83" cy="311.05" r="3.75"/><circle cx="455.58" cy="310.18" r="3.75"/><circle cx="455.55" cy="298.96" r="3.75"/><circle cx="455.26" cy="314.95" r="3.75"/><circle cx="455.29" cy="321.3" r="3.75"/><circle cx="454.69" cy="331.03" r="3.75"/><circle cx="454.91" cy="320.68" r="3.75"/><circle cx="454.7" cy="315.06" r="3.75"/><circle cx="454.66" cy="305.73" r="3.75"/><circle cx="455.47" cy="319.81" r="3.75"/><circle cx="455.14" cy="298.95" r="3.75"/><circle cx="454.63" cy="295.73" r="3.75"/><circle cx="455.06" cy="319.82" r="3.75"/><circle cx="455.44" cy="316.08" r="3.75"/><circle cx="455.31" cy="321.3" r="3.75"/><circle cx="455.02" cy="294.45" r="3.75"/><circle cx="454.41" cy="309.72" r="3.75"/><circle cx="455.33" cy="317.02" r="3.75"/><circle cx="454.54" cy="307.62" r="3.75"/><circle cx="454.43" cy="308.39" r="3.75"/><circle cx="455.43" cy="306.5" r="3.75"/><circle cx="454.48" cy="314.69" r="3.75"/><circle cx="455.2" cy="303" r="3.75"/><circle cx="454.64" cy="313.78" r="3.75"/><circle cx="454.88" cy="307.25" r="3.75"/><circle cx="454.67" cy="309.4" r="3.75"/><circle cx="454.42" cy="317.81" r="3.75"/><circle cx="454.98" cy="303.31" r="3.75"/><circle cx="455.41" cy="315.47" r="3.75"/><circle cx="455.2" cy="309.53" r="3.75"/><circle cx="454.44" cy="312.76" r="3.75"/><circle cx="454.89" cy="298.27" r="3.75"/><circle cx="455.31" cy="320.08" r="3.75"/><circle cx="455.14" cy="300.97" r="3.75"/><circle cx="454.56" cy="300.52" r="3.75"/><circle cx="455.21" cy="332" r="3.75"/><circle cx="455.2" cy="341" r="3.75"/><circle cx="461.98" cy="320.98" r="3.75"/><circle cx="461.42" cy="298.73" r="3.75"/><circle cx="461.59" cy="302.59" r="3.75"/><circle cx="461.89" cy="312.31" r="3.75"/><circle cx="462.32" cy="303.4" r="3.75"/><circle cx="461.88" cy="308.85" r="3.75"/><circle cx="461.67" cy="307.34" r="3.75"/><circle cx="461.84" cy="301.99" r="3.75"/><circle cx="462.34" cy="312.77" r="3.75"/><circle cx="461.65" cy="298.14" r="3.75"/><circle cx="461.77" cy="311.82" r="3.75"/><circle cx="461.91" cy="298.7" r="3.75"/><circle cx="462.33" cy="312.37" r="3.75"/><circle cx="461.76" cy="305.88" r="3.75"/><circle cx="461.97" cy="314.7" r="3.75"/><circle cx="461.66" cy="318.2" r="3.75"/><circle cx="462.56" cy="298.66" r="3.75"/><circle cx="462.02" cy="319.31" r="3.75"/><circle cx="462.44" cy="302.19" r="3.75"/><circle cx="461.45" cy="304.66" r="3.75"/><circle cx="462.03" cy="299.63" r="3.75"/><circle cx="462.53" cy="314.97" r="3.75"/><circle cx="461.85" cy="302.64" r="3.75"/><circle cx="461.92" cy="296.45" r="3.75"/><circle cx="461.64" cy="317.04" r="3.75"/><circle cx="461.53" cy="307.3" r="3.75"/><circle cx="462.15" cy="307.44" r="3.75"/><circle cx="461.89" cy="305.83" r="3.75"/><circle cx="461.42" cy="309.08" r="3.75"/><circle cx="461.5" cy="320.15" r="3.75"/><circle cx="461.83" cy="296.92" r="3.75"/><circle cx="462.01" cy="310.27" r="3.75"/><circle cx="462.07" cy="322.33" r="3.75"/><circle cx="462.09" cy="317.17" r="3.75"/><circle cx="462.28" cy="301.53" r="3.75"/><circle cx="462.51" cy="311.46" r="3.75"/><circle cx="462.14" cy="323.92" r="3.75"/><circle cx="461.78" cy="316.32" r="3.75"/><circle cx="462.08" cy="306.11" r="3.75"/><circle cx="461.52" cy="319.66" r="3.75"/><circle cx="462.11" cy="313.69" r="3.75"/><circle cx="461.8" cy="311.57" r="3.75"/><circle cx="461.42" cy="309.46" r="3.75"/><circle cx="461.41" cy="305.66" r="3.75"/><circle cx="461.57" cy="316.43" r="3.75"/><circle cx="462.22" cy="302.92" r="3.75"/><circle cx="461.83" cy="303.24" r="3.75"/><circle cx="462.33" cy="307.18" r="3.75"/><circle cx="461.76" cy="298.17" r="3.75"/><circle cx="461.78" cy="306.7" r="3.75"/><circle cx="462" cy="310.2" r="3.75"/><circle cx="462.29" cy="319.08" r="3.75"/><circle cx="461.74" cy="292.78" r="3.75"/><circle cx="462.47" cy="298.39" r="3.75"/><circle cx="462.52" cy="318.17" r="3.75"/><circle cx="462.29" cy="304.7" r="3.75"/><circle cx="462" cy="315.51" r="3.75"/><circle cx="461.58" cy="314.88" r="3.75"/><circle cx="461.87" cy="302.3" r="3.75"/><circle cx="461.85" cy="297.16" r="3.75"/><circle cx="462.28" cy="284" r="3.75"/><circle cx="461.79" cy="340" r="3.75"/><circle cx="468.37" cy="303.96" r="3.75"/><circle cx="468.93" cy="309.51" r="3.75"/><circle cx="469" cy="312.86" r="3.75"/><circle cx="467.95" cy="318.4" r="3.75"/><circle cx="467.95" cy="304.88" r="3.75"/><circle cx="468.3" cy="309.31" r="3.75"/><circle cx="469.04" cy="328.98" r="3.75"/><circle cx="468.84" cy="306.18" r="3.75"/><circle cx="468.77" cy="309.71" r="3.75"/><circle cx="468.74" cy="298.67" r="3.75"/><circle cx="468.11" cy="302.66" r="3.75"/><circle cx="468.05" cy="303.3" r="3.75"/><circle cx="468.65" cy="315.08" r="3.75"/><circle cx="468.94" cy="303.37" r="3.75"/><circle cx="468" cy="306.44" r="3.75"/><circle cx="468.82" cy="303.97" r="3.75"/><circle cx="468.12" cy="311.96" r="3.75"/><circle cx="468.34" cy="322.31" r="3.75"/><circle cx="468.8" cy="314.35" r="3.75"/><circle cx="468.32" cy="304.12" r="3.75"/><circle cx="468.86" cy="291.27" r="3.75"/><circle cx="468.23" cy="292.36" r="3.75"/><circle cx="468.03" cy="305.97" r="3.75"/><circle cx="468.27" cy="295.78" r="3.75"/><circle cx="468.57" cy="293.5" r="3.75"/><circle cx="468.64" cy="304.92" r="3.75"/><circle cx="468.84" cy="306.32" r="3.75"/><circle cx="468.31" cy="307.54" r="3.75"/><circle cx="468.4" cy="309.2" r="3.75"/><circle cx="467.96" cy="303.73" r="3.75"/><circle cx="468.97" cy="304.81" r="3.75"/><circle cx="468.84" cy="299.5" r="3.75"/><circle cx="468.01" cy="305.02" r="3.75"/><circle cx="468.37" cy="301.47" r="3.75"/><circle cx="468.38" cy="293.19" r="3.75"/><circle cx="468.66" cy="312.38" r="3.75"/><circle cx="468.5" cy="305.68" r="3.75"/><circle cx="468.59" cy="295.86" r="3.75"/><circle cx="468.7" cy="307.97" r="3.75"/><circle cx="468.43" cy="308" r="3.75"/><circle cx="468.2" cy="322.33" r="3.75"/><circle cx="469.01" cy="315.58" r="3.75"/><circle cx="468.95" cy="320.02" r="3.75"/><circle cx="469.07" cy="313.3" r="3.75"/><circle cx="468.54" cy="286.83" r="3.75"/><circle cx="467.94" cy="307.51" r="3.75"/><circle cx="468.03" cy="304.53" r="3.75"/><circle cx="468.47" cy="293.36" r="3.75"/><circle cx="469" cy="293.28" r="3.75"/><circle cx="468.67" cy="312.33" r="3.75"/><circle cx="468.06" cy="320.38" r="3.75"/><circle cx="468.53" cy="303.05" r="3.75"/><circle cx="468.74" cy="320.57" r="3.75"/><circle cx="468.61" cy="292.1" r="3.75"/><circle cx="468.59" cy="307.7" r="3.75"/><circle cx="468.68" cy="316.37" r="3.75"/><circle cx="469.09" cy="293.51" r="3.75"/><circle cx="468.54" cy="296.85" r="3.75"/><circle cx="468.88" cy="294.87" r="3.75"/><circle cx="468.72" cy="302.41" r="3.75"/><circle cx="468.99" cy="314.92" r="3.75"/><circle cx="468.68" cy="318.31" r="3.75"/><circle cx="469" cy="293.97" r="3.75"/><circle cx="468.24" cy="312.94" r="3.75"/><circle cx="468.29" cy="307.76" r="3.75"/><circle cx="468.48" cy="246" r="3.75"/><circle cx="468.7" cy="280" r="3.75"/><circle cx="468.73" cy="336" r="3.75"/><circle cx="468.58" cy="379" r="3.75"/><circle cx="472.74" cy="354" r="3.75"/><circle cx="480.04" cy="300.4" r="3.75"/><circle cx="479.17" cy="319.82" r="3.75"/><circle cx="479.96" cy="321.83" r="3.75"/><circle cx="479.78" cy="298.92" r="3.75"/><circle cx="479.53" cy="325.67" r="3.75"/><circle cx="480.18" cy="310.54" r="3.75"/><circle cx="479.68" cy="287.13" r="3.75"/><circle cx="479.93" cy="308.04" r="3.75"/><circle cx="479.15" cy="310.41" r="3.75"/><circle cx="480.06" cy="309.11" r="3.75"/><circle cx="479.66" cy="320.11" r="3.75"/><circle cx="480.03" cy="314.14" r="3.75"/><circle cx="480.02" cy="312.56" r="3.75"/><circle cx="479.52" cy="318.97" r="3.75"/><circle cx="479.85" cy="310.79" r="3.75"/><circle cx="479.59" cy="306.03" r="3.75"/><circle cx="479.46" cy="320.12" r="3.75"/><circle cx="479.37" cy="308.46" r="3.75"/><circle cx="479.19" cy="314.72" r="3.75"/><circle cx="479.38" cy="323.15" r="3.75"/><circle cx="479.26" cy="293.35" r="3.75"/><circle cx="479.19" cy="310.78" r="3.75"/><circle cx="479.45" cy="323.59" r="3.75"/><circle cx="479.1" cy="304.35" r="3.75"/><circle cx="479.09" cy="308.61" r="3.75"/><circle cx="479.39" cy="316.32" r="3.75"/><circle cx="480.16" cy="299.96" r="3.75"/><circle cx="479.32" cy="320.49" r="3.75"/><circle cx="479.21" cy="311.53" r="3.75"/><circle cx="479.86" cy="317.23" r="3.75"/><circle cx="479.51" cy="305.96" r="3.75"/><circle cx="479.47" cy="308.83" r="3.75"/><circle cx="480.01" cy="296.01" r="3.75"/><circle cx="479.98" cy="312.4" r="3.75"/><circle cx="480.18" cy="296.06" r="3.75"/><circle cx="480.14" cy="311.05" r="3.75"/><circle cx="479.18" cy="293.67" r="3.75"/><circle cx="479.59" cy="308.84" r="3.75"/><circle cx="479.69" cy="301.12" r="3.75"/><circle cx="480.12" cy="312.44" r="3.75"/><circle cx="480" cy="306.29" r="3.75"/><circle cx="479.62" cy="318.88" r="3.75"/><circle cx="479" cy="292.28" r="3.75"/><circle cx="479.53" cy="305.49" r="3.75"/><circle cx="479.41" cy="314.46" r="3.75"/><circle cx="479.13" cy="300.66" r="3.75"/><circle cx="479.16" cy="305.87" r="3.75"/><circle cx="479" cy="299.75" r="3.75"/><circle cx="479.92" cy="299.69" r="3.75"/><circle cx="479.72" cy="309.11" r="3.75"/><circle cx="479.39" cy="324.69" r="3.75"/><circle cx="479.85" cy="313.89" r="3.75"/><circle cx="479.33" cy="302.55" r="3.75"/><circle cx="479.52" cy="297.1" r="3.75"/><circle cx="479.41" cy="302.2" r="3.75"/><circle cx="479.08" cy="315.78" r="3.75"/><circle cx="479.28" cy="313.15" r="3.75"/><circle cx="479.68" cy="320.13" r="3.75"/><circle cx="479.25" cy="303.23" r="3.75"/><circle cx="479.69" cy="321.31" r="3.75"/><circle cx="479.91" cy="292.15" r="3.75"/><circle cx="480.05" cy="300.87" r="3.75"/><circle cx="479.04" cy="299.79" r="3.75"/><circle cx="479.59" cy="308.97" r="3.75"/><circle cx="479.51" cy="307.8" r="3.75"/><circle cx="479.58" cy="312.09" r="3.75"/><circle cx="479.1" cy="279.55" r="3.75"/><circle cx="479.64" cy="315.95" r="3.75"/><circle cx="479.52" cy="307.95" r="3.75"/><circle cx="480.08" cy="318.55" r="3.75"/><circle cx="479.35" cy="314.78" r="3.75"/><circle cx="479.72" cy="307.08" r="3.75"/><circle cx="479.32" cy="306.65" r="3.75"/><circle cx="479.81" cy="299.56" r="3.75"/><circle cx="480.1" cy="301.04" r="3.75"/><circle cx="479.32" cy="312.25" r="3.75"/><circle cx="479.82" cy="319.39" r="3.75"/><circle cx="479.42" cy="300.11" r="3.75"/><circle cx="479.68" cy="305.85" r="3.75"/><circle cx="479.09" cy="323.79" r="3.75"/><circle cx="479.84" cy="330.3" r="3.75"/><circle cx="479.58" cy="332.25" r="3.75"/><circle cx="479.82" cy="334.64" r="3.75"/><circle cx="479.74" cy="337.25" r="3.75"/><circle cx="479.99" cy="339.6" r="3.75"/><circle cx="480.17" cy="341.08" r="3.75"/><circle cx="479.01" cy="344.75" r="3.75"/><circle cx="479.57" cy="345.57" r="3.75"/><circle cx="479.42" cy="349.57" r="3.75"/><circle cx="479.96" cy="349.8" r="3.75"/><circle cx="479.4" cy="287" r="3.75"/><circle cx="491.54" cy="281" r="3.75"/><circle cx="492.15" cy="309.38" r="3.75"/><circle cx="492.08" cy="298.12" r="3.75"/><circle cx="492.04" cy="318.43" r="3.75"/><circle cx="491.78" cy="309.45" r="3.75"/><circle cx="491.73" cy="310.21" r="3.75"/><circle cx="492.14" cy="296.58" r="3.75"/><circle cx="491.78" cy="305.82" r="3.75"/><circle cx="492.17" cy="302.7" r="3.75"/><circle cx="491.22" cy="298.57" r="3.75"/><circle cx="491.38" cy="295.67" r="3.75"/><circle cx="491.34" cy="302.05" r="3.75"/><circle cx="491.21" cy="316.14" r="3.75"/><circle cx="491.32" cy="306.33" r="3.75"/><circle cx="492.27" cy="299.74" r="3.75"/><circle cx="492.18" cy="319.33" r="3.75"/><circle cx="491.99" cy="309.45" r="3.75"/><circle cx="491.89" cy="302.57" r="3.75"/><circle cx="491.29" cy="309.14" r="3.75"/><circle cx="491.57" cy="316.83" r="3.75"/><circle cx="491.65" cy="305.17" r="3.75"/><circle cx="491.97" cy="311.59" r="3.75"/><circle cx="491.27" cy="307.22" r="3.75"/><circle cx="491.91" cy="307.72" r="3.75"/><circle cx="491.86" cy="313.64" r="3.75"/><circle cx="492.08" cy="306.24" r="3.75"/><circle cx="491.16" cy="316.95" r="3.75"/><circle cx="492.02" cy="301.75" r="3.75"/><circle cx="492.13" cy="311.19" r="3.75"/><circle cx="492.17" cy="311.15" r="3.75"/><circle cx="492.01" cy="301.27" r="3.75"/><circle cx="491.19" cy="292.02" r="3.75"/><circle cx="491.51" cy="304.26" r="3.75"/><circle cx="492.25" cy="307.61" r="3.75"/><circle cx="492.15" cy="296.98" r="3.75"/><circle cx="491.61" cy="303.23" r="3.75"/><circle cx="492.23" cy="301.66" r="3.75"/><circle cx="491.12" cy="307.61" r="3.75"/><circle cx="491.2" cy="313.69" r="3.75"/><circle cx="491.55" cy="311.33" r="3.75"/><circle cx="492.24" cy="302.47" r="3.75"/><circle cx="491.52" cy="308.77" r="3.75"/><circle cx="492.12" cy="323.4" r="3.75"/><circle cx="492.18" cy="316.77" r="3.75"/><circle cx="491.48" cy="305.07" r="3.75"/><circle cx="491.99" cy="306.24" r="3.75"/><circle cx="492.22" cy="320.67" r="3.75"/><circle cx="491.16" cy="291.64" r="3.75"/><circle cx="492.25" cy="311.52" r="3.75"/><circle cx="492.21" cy="310.62" r="3.75"/><circle cx="492.14" cy="319.07" r="3.75"/><circle cx="491.75" cy="343" r="3.75"/><circle cx="491.86" cy="358" r="3.75"/><circle cx="503.28" cy="302.77" r="3.75"/><circle cx="503.24" cy="316.36" r="3.75"/><circle cx="503.93" cy="314.44" r="3.75"/><circle cx="503.17" cy="303.61" r="3.75"/><circle cx="503.62" cy="317.32" r="3.75"/><circle cx="503.24" cy="321.98" r="3.75"/><circle cx="503.35" cy="309.31" r="3.75"/><circle cx="503.35" cy="303.64" r="3.75"/><circle cx="503.45" cy="297.77" r="3.75"/><circle cx="503.32" cy="296.09" r="3.75"/><circle cx="503.77" cy="305.44" r="3.75"/><circle cx="503.52" cy="303.57" r="3.75"/><circle cx="503.94" cy="314.31" r="3.75"/><circle cx="504.02" cy="306.76" r="3.75"/><circle cx="503.32" cy="320.42" r="3.75"/><circle cx="503.77" cy="310.17" r="3.75"/><circle cx="503.39" cy="323.36" r="3.75"/><circle cx="503.98" cy="314.31" r="3.75"/><circle cx="503.53" cy="327.86" r="3.75"/><circle cx="503.42" cy="316.16" r="3.75"/><circle cx="503.96" cy="293.08" r="3.75"/><circle cx="503.54" cy="301.02" r="3.75"/><circle cx="503.69" cy="308.46" r="3.75"/><circle cx="503.29" cy="312.03" r="3.75"/><circle cx="515.56" cy="311.88" r="3.75"/><circle cx="515.86" cy="310.27" r="3.75"/><circle cx="515.82" cy="300.78" r="3.75"/><circle cx="516.18" cy="306.21" r="3.75"/><circle cx="515.82" cy="306.85" r="3.75"/><circle cx="515.93" cy="311.39" r="3.75"/><circle cx="516.39" cy="312.39" r="3.75"/><circle cx="515.92" cy="310.3" r="3.75"/><circle cx="516.05" cy="304.04" r="3.75"/><circle cx="515.55" cy="304.85" r="3.75"/><circle cx="516.37" cy="311.29" r="3.75"/><circle cx="515.53" cy="308.44" r="3.75"/><circle cx="516.05" cy="342" r="3.75"/><circle cx="521.79" cy="322" r="3.75"/><circle cx="528.18" cy="319.39" r="3.75"/><circle cx="527.53" cy="316.07" r="3.75"/><circle cx="528.15" cy="306.39" r="3.75"/><circle cx="527.9" cy="318.39" r="3.75"/><circle cx="527.72" cy="322.16" r="3.75"/><circle cx="527.7" cy="311.57" r="3.75"/><circle cx="527.85" cy="318.14" r="3.75"/><circle cx="528.25" cy="312.3" r="3.75"/><circle cx="527.69" cy="310.68" r="3.75"/><circle cx="527.54" cy="313.37" r="3.75"/><circle cx="528.28" cy="308.44" r="3.75"/><circle cx="527.6" cy="319.88" r="3.75"/><circle cx="528.37" cy="313.29" r="3.75"/><circle cx="527.9" cy="318.08" r="3.75"/><circle cx="540.01" cy="253" r="3.75"/><circle cx="540.15" cy="312" r="3.75"/><circle cx="540.07" cy="320" r="3.75"/><circle cx="539.7" cy="330" r="3.75"/><circle cx="540.16" cy="342" r="3.75"/><circle cx="552.43" cy="330.54" r="3.75"/><circle cx="552.76" cy="322.23" r="3.75"/><circle cx="552.35" cy="326.83" r="3.75"/><circle cx="552.02" cy="306.46" r="3.75"/><circle cx="552.27" cy="313.15" r="3.75"/><circle cx="552.68" cy="336.48" r="3.75"/><circle cx="552.39" cy="312.55" r="3.75"/><circle cx="552.81" cy="321.81" r="3.75"/><circle cx="552.1" cy="328.22" r="3.75"/><circle cx="552.9" cy="309.69" r="3.75"/><circle cx="552.18" cy="310.8" r="3.75"/><circle cx="552.15" cy="323.71" r="3.75"/><circle cx="552.3" cy="327.66" r="3.75"/><circle cx="552.79" cy="320.24" r="3.75"/><circle cx="552.86" cy="315.23" r="3.75"/><circle cx="552.11" cy="305.85" r="3.75"/><circle cx="551.92" cy="291.51" r="3.75"/><circle cx="552.07" cy="314.13" r="3.75"/><circle cx="552.39" cy="321.63" r="3.75"/><circle cx="552.52" cy="322.94" r="3.75"/><circle cx="552.85" cy="327.52" r="3.75"/><circle cx="552.1" cy="317.13" r="3.75"/><circle cx="552.73" cy="330.32" r="3.75"/><circle cx="552.53" cy="325.66" r="3.75"/><circle cx="552.81" cy="312.34" r="3.75"/><circle cx="552.22" cy="328.59" r="3.75"/><circle cx="552.14" cy="330.01" r="3.75"/><circle cx="552.07" cy="311.06" r="3.75"/><circle cx="552.47" cy="306.69" r="3.75"/><circle cx="552.15" cy="309.43" r="3.75"/><circle cx="552.35" cy="304.5" r="3.75"/><circle cx="551.97" cy="325.61" r="3.75"/><circle cx="552.8" cy="314.52" r="3.75"/><circle cx="552.26" cy="312.45" r="3.75"/><circle cx="552.47" cy="301.44" r="3.75"/><circle cx="552.04" cy="315" r="3.75"/><circle cx="552.37" cy="290.94" r="3.75"/><circle cx="551.99" cy="314.88" r="3.75"/><circle cx="552.22" cy="329.15" r="3.75"/><circle cx="552.84" cy="309.01" r="3.75"/><circle cx="552.2" cy="321.57" r="3.75"/><circle cx="552.11" cy="333.17" r="3.75"/><circle cx="552.65" cy="320.86" r="3.75"/><circle cx="552.23" cy="330.81" r="3.75"/><circle cx="552.38" cy="329.2" r="3.75"/><circle cx="552.52" cy="312.17" r="3.75"/><circle cx="552.82" cy="301.81" r="3.75"/><circle cx="552.76" cy="313.33" r="3.75"/><circle cx="552.09" cy="335.35" r="3.75"/><circle cx="552.63" cy="321.7" r="3.75"/><circle cx="552.13" cy="291" r="3.75"/><circle cx="552.21" cy="339" r="3.75"/><circle cx="556.92" cy="297" r="3.75"/><circle cx="564.21" cy="331.4" r="3.75"/><circle cx="576.49" cy="300" r="3.75"/><circle cx="576.46" cy="301" r="3.75"/><circle cx="576.47" cy="308" r="3.75"/><circle cx="576.67" cy="312" r="3.75"/><circle cx="576.14" cy="313" r="3.75"/><circle cx="576.43" cy="314" r="3.75"/><circle cx="576.18" cy="320" r="3.75"/><circle cx="576.28" cy="330" r="3.75"/><circle cx="576.34" cy="343.6" r="3.75"/><circle cx="588.56" cy="314" r="3.75"/><circle cx="588.54" cy="348" r="3.75"/><circle cx="600.41" cy="292" r="3.75"/><circle cx="600.56" cy="300.4" r="3.75"/><circle cx="600.34" cy="344" r="3.75"/><circle cx="600.3" cy="349" r="3.75"/><circle cx="600.37" cy="377" r="3.75"/><circle cx="612.63" cy="302" r="3.75"/><circle cx="612.55" cy="304" r="3.75"/><circle cx="612.39" cy="306" r="3.75"/><circle cx="612.33" cy="308" r="3.75"/><circle cx="612.35" cy="314" r="3.75"/><circle cx="612.28" cy="318" r="3.75"/><circle cx="612.41" cy="326" r="3.75"/><circle cx="624.11" cy="308" r="3.75"/><circle cx="624.66" cy="317" r="3.75"/><circle cx="624.23" cy="334" r="3.75"/><circle cx="624.25" cy="339" r="3.75"/><circle cx="636.62" cy="301.6" r="3.75"/><circle cx="636.15" cy="324" r="3.75"/><circle cx="636.39" cy="331" r="3.75"/><circle cx="636.24" cy="333" r="3.75"/><circle cx="636.21" cy="335" r="3.75"/><circle cx="636.22" cy="337" r="3.75"/><circle cx="636.21" cy="340" r="3.75"/><circle cx="636.33" cy="347" r="3.75"/></g>
<polyline points="441,311 480,312.3 520,314.3 559,317.6 600,321.5 636.4,327.4" class="ln"/>
</g>
<g clip-path="url(#cpe)">
<polygon points="81,511 120,514.16 160,521.81 195,532.05 230,544.47 267.2,560.67 267.2,577.67 230,553.47 195,536.05 160,524.41 120,516.76 81,515" class="band"/>
<g class="pt"><circle cx="79.22" cy="504" r="3.75"/><circle cx="79.26" cy="510" r="3.75"/><circle cx="79.09" cy="516" r="3.75"/><circle cx="78.88" cy="522" r="3.75"/><circle cx="85.91" cy="505.38" r="3.75"/><circle cx="86.19" cy="509.6" r="3.75"/><circle cx="86" cy="503.57" r="3.75"/><circle cx="85.71" cy="512.96" r="3.75"/><circle cx="86.11" cy="503.06" r="3.75"/><circle cx="85.85" cy="508.83" r="3.75"/><circle cx="86.16" cy="506.13" r="3.75"/><circle cx="85.72" cy="509.45" r="3.75"/><circle cx="86.1" cy="509.03" r="3.75"/><circle cx="85.94" cy="502.37" r="3.75"/><circle cx="86.1" cy="505.4" r="3.75"/><circle cx="86.18" cy="501.2" r="3.75"/><circle cx="85.71" cy="511.84" r="3.75"/><circle cx="85.84" cy="506.2" r="3.75"/><circle cx="85.82" cy="509.63" r="3.75"/><circle cx="86.09" cy="510.97" r="3.75"/><circle cx="85.85" cy="508.44" r="3.75"/><circle cx="86.02" cy="501.02" r="3.75"/><circle cx="98.27" cy="493" r="3.75"/><circle cx="97.72" cy="505.24" r="3.75"/><circle cx="98.2" cy="503.64" r="3.75"/><circle cx="98.19" cy="504.55" r="3.75"/><circle cx="98.26" cy="503.48" r="3.75"/><circle cx="98.07" cy="510.34" r="3.75"/><circle cx="97.71" cy="512.7" r="3.75"/><circle cx="97.86" cy="498.15" r="3.75"/><circle cx="98.05" cy="509.02" r="3.75"/><circle cx="98.2" cy="504.37" r="3.75"/><circle cx="98.1" cy="499.88" r="3.75"/><circle cx="98.15" cy="534" r="3.75"/><circle cx="105.23" cy="513.14" r="3.75"/><circle cx="105.05" cy="511.99" r="3.75"/><circle cx="104.97" cy="509.83" r="3.75"/><circle cx="104.92" cy="514.86" r="3.75"/><circle cx="104.93" cy="515.31" r="3.75"/><circle cx="104.73" cy="512.8" r="3.75"/><circle cx="104.75" cy="511.48" r="3.75"/><circle cx="105.29" cy="507.27" r="3.75"/><circle cx="105.2" cy="536" r="3.75"/><circle cx="104.84" cy="544" r="3.75"/><circle cx="105.23" cy="554" r="3.75"/><circle cx="105.22" cy="556" r="3.75"/><circle cx="104.82" cy="560" r="3.75"/><circle cx="111.16" cy="488" r="3.75"/><circle cx="110.92" cy="517.51" r="3.75"/><circle cx="110.85" cy="514.27" r="3.75"/><circle cx="111.07" cy="513.52" r="3.75"/><circle cx="110.93" cy="503.89" r="3.75"/><circle cx="111.24" cy="516.14" r="3.75"/><circle cx="111.04" cy="497.57" r="3.75"/><circle cx="111.3" cy="510.95" r="3.75"/><circle cx="111.06" cy="500.29" r="3.75"/><circle cx="111.13" cy="512.49" r="3.75"/><circle cx="110.86" cy="513.84" r="3.75"/><circle cx="111.14" cy="508.68" r="3.75"/><circle cx="111.05" cy="496.39" r="3.75"/><circle cx="110.98" cy="497.91" r="3.75"/><circle cx="111.03" cy="508.53" r="3.75"/><circle cx="110.91" cy="502.06" r="3.75"/><circle cx="111.03" cy="508.53" r="3.75"/><circle cx="110.72" cy="508.96" r="3.75"/><circle cx="110.82" cy="515.9" r="3.75"/><circle cx="110.72" cy="506.91" r="3.75"/><circle cx="110.99" cy="509.02" r="3.75"/><circle cx="111.25" cy="499.03" r="3.75"/><circle cx="110.94" cy="500.81" r="3.75"/><circle cx="110.86" cy="503.94" r="3.75"/><circle cx="110.73" cy="505.05" r="3.75"/><circle cx="111.13" cy="516.06" r="3.75"/><circle cx="111.25" cy="499.38" r="3.75"/><circle cx="111.18" cy="506.52" r="3.75"/><circle cx="110.79" cy="489.38" r="3.75"/><circle cx="111.02" cy="501.93" r="3.75"/><circle cx="111.16" cy="511.84" r="3.75"/><circle cx="111.11" cy="503.15" r="3.75"/><circle cx="111.27" cy="500.7" r="3.75"/><circle cx="110.89" cy="510.3" r="3.75"/><circle cx="110.81" cy="508.71" r="3.75"/><circle cx="110.82" cy="511.61" r="3.75"/><circle cx="110.74" cy="536" r="3.75"/><circle cx="110.97" cy="544" r="3.75"/><circle cx="110.81" cy="548" r="3.75"/><circle cx="111.06" cy="553" r="3.75"/><circle cx="123.27" cy="470" r="3.75"/><circle cx="122.98" cy="495" r="3.75"/><circle cx="123.04" cy="499.38" r="3.75"/><circle cx="123.29" cy="508.06" r="3.75"/><circle cx="122.78" cy="507.83" r="3.75"/><circle cx="123" cy="506.34" r="3.75"/><circle cx="122.71" cy="517.14" r="3.75"/><circle cx="122.9" cy="507.55" r="3.75"/><circle cx="122.73" cy="518.57" r="3.75"/><circle cx="122.82" cy="509.77" r="3.75"/><circle cx="122.8" cy="507.39" r="3.75"/><circle cx="122.98" cy="517.87" r="3.75"/><circle cx="123.14" cy="509.81" r="3.75"/><circle cx="122.83" cy="498.84" r="3.75"/><circle cx="122.87" cy="502.25" r="3.75"/><circle cx="123.1" cy="505.4" r="3.75"/><circle cx="122.92" cy="509.51" r="3.75"/><circle cx="122.77" cy="516.73" r="3.75"/><circle cx="123.15" cy="511.86" r="3.75"/><circle cx="122.82" cy="508.27" r="3.75"/><circle cx="122.98" cy="500.48" r="3.75"/><circle cx="122.7" cy="513.85" r="3.75"/><circle cx="123.18" cy="518.55" r="3.75"/><circle cx="123.12" cy="521.03" r="3.75"/><circle cx="123.07" cy="508.53" r="3.75"/><circle cx="123" cy="502.57" r="3.75"/><circle cx="122.92" cy="512.18" r="3.75"/><circle cx="123.03" cy="526" r="3.75"/><circle cx="122.78" cy="530" r="3.75"/><circle cx="122.74" cy="534" r="3.75"/><circle cx="122.88" cy="538" r="3.75"/><circle cx="123.28" cy="542" r="3.75"/><circle cx="123.07" cy="568" r="3.75"/><circle cx="129.25" cy="509" r="3.75"/><circle cx="135.13" cy="501" r="3.75"/><circle cx="135.16" cy="505" r="3.75"/><circle cx="135" cy="532" r="3.75"/><circle cx="135.07" cy="539" r="3.75"/><circle cx="146.71" cy="522" r="3.75"/><circle cx="146.96" cy="518.77" r="3.75"/><circle cx="146.76" cy="523.22" r="3.75"/><circle cx="147.26" cy="519.28" r="3.75"/><circle cx="147.19" cy="516.07" r="3.75"/><circle cx="147.06" cy="524.22" r="3.75"/><circle cx="147.24" cy="514.82" r="3.75"/><circle cx="146.8" cy="524.27" r="3.75"/><circle cx="147.12" cy="526.94" r="3.75"/><circle cx="147.11" cy="520.52" r="3.75"/><circle cx="147.04" cy="526.04" r="3.75"/><circle cx="147.13" cy="523.25" r="3.75"/><circle cx="147.15" cy="514.88" r="3.75"/><circle cx="147" cy="508.77" r="3.75"/><circle cx="146.77" cy="521.72" r="3.75"/><circle cx="159.11" cy="548" r="3.75"/><circle cx="170.71" cy="524" r="3.75"/><circle cx="170.83" cy="530" r="3.75"/><circle cx="171.29" cy="541" r="3.75"/><circle cx="171.21" cy="543" r="3.75"/><circle cx="171" cy="559" r="3.75"/><circle cx="182.75" cy="526" r="3.75"/><circle cx="194.92" cy="516" r="3.75"/><circle cx="194.83" cy="522" r="3.75"/><circle cx="194.85" cy="546" r="3.75"/><circle cx="195.01" cy="550" r="3.75"/><circle cx="195.23" cy="555.12" r="3.75"/><circle cx="194.78" cy="557.02" r="3.75"/><circle cx="194.79" cy="557" r="3.75"/><circle cx="194.87" cy="548.61" r="3.75"/><circle cx="195.07" cy="553.44" r="3.75"/><circle cx="194.92" cy="557.35" r="3.75"/><circle cx="194.88" cy="562" r="3.75"/><circle cx="195.15" cy="566" r="3.75"/><circle cx="195.1" cy="569" r="3.75"/><circle cx="199.1" cy="511" r="3.75"/><circle cx="219.1" cy="509" r="3.75"/><circle cx="219.08" cy="528" r="3.75"/><circle cx="219" cy="533" r="3.75"/><circle cx="219.28" cy="535.5" r="3.75"/><circle cx="218.76" cy="538" r="3.75"/><circle cx="218.73" cy="546" r="3.75"/><circle cx="219" cy="557" r="3.75"/><circle cx="219.25" cy="564" r="3.75"/><circle cx="242.96" cy="530" r="3.75"/><circle cx="243.24" cy="536" r="3.75"/><circle cx="254.95" cy="530" r="3.75"/><circle cx="255.01" cy="544" r="3.75"/><circle cx="267.54" cy="562" r="3.75"/><circle cx="267.66" cy="565" r="3.75"/><circle cx="267.4" cy="594" r="3.75"/><circle cx="267.36" cy="604" r="3.75"/></g>
<polyline points="81,513 87,513.06 93,513.23 99,513.52 105,513.93 111,514.46 117,515.1 123,515.86 129,516.73 135,517.72 141,518.83 147,520.06 153,521.4 159,522.86 165,524.43 171,526.12 177,527.93 183,529.85 189,531.9 195,534.05 201,536.33 207,538.72 213,541.23 219,543.85 225,546.59 231,549.45 237,552.42 243,555.52 249,558.72 255,562.05 261,565.49 267,569.05 267.2,569.17" class="ln"/>
</g>
<g clip-path="url(#cpf)">
<polygon points="452.4,579 500,567.49 540,556.34 580,542.78 624,526 624,550 580,555.78 540,562.74 500,572.09 452.4,585" class="band"/>
<polygon points="624,526 636.4,553 636.4,563 624,550" class="band"/>
<g class="pt"><circle cx="452.27" cy="549" r="3.75"/><circle cx="455.54" cy="567" r="3.75"/><circle cx="455.67" cy="572" r="3.75"/><circle cx="455.63" cy="577" r="3.75"/><circle cx="455.66" cy="586.55" r="3.75"/><circle cx="455.67" cy="596.76" r="3.75"/><circle cx="455.84" cy="592.55" r="3.75"/><circle cx="455.64" cy="594.77" r="3.75"/><circle cx="455.75" cy="584.46" r="3.75"/><circle cx="455.71" cy="590.26" r="3.75"/><circle cx="455.54" cy="590.93" r="3.75"/><circle cx="455.42" cy="587.61" r="3.75"/><circle cx="455.64" cy="607" r="3.75"/><circle cx="455.55" cy="614" r="3.75"/><circle cx="455.87" cy="621" r="3.75"/><circle cx="455.63" cy="626" r="3.75"/><circle cx="455.48" cy="600" r="3.75"/><circle cx="467.5" cy="525" r="3.75"/><circle cx="467.31" cy="546" r="3.75"/><circle cx="467.78" cy="556" r="3.75"/><circle cx="467.3" cy="565" r="3.75"/><circle cx="467.75" cy="567" r="3.75"/><circle cx="467.34" cy="574" r="3.75"/><circle cx="467.38" cy="580" r="3.75"/><circle cx="467.45" cy="584" r="3.75"/><circle cx="467.47" cy="590" r="3.75"/><circle cx="467.38" cy="594" r="3.75"/><circle cx="467.54" cy="598" r="3.75"/><circle cx="479.74" cy="578" r="3.75"/><circle cx="479.74" cy="582" r="3.75"/><circle cx="479.75" cy="586" r="3.75"/><circle cx="479.88" cy="590" r="3.75"/><circle cx="479.74" cy="594" r="3.75"/><circle cx="491.68" cy="554" r="3.75"/><circle cx="491.63" cy="555" r="3.75"/><circle cx="503.81" cy="550" r="3.75"/><circle cx="503.32" cy="553" r="3.75"/><circle cx="503.68" cy="560" r="3.75"/><circle cx="503.38" cy="568" r="3.75"/><circle cx="503.89" cy="573" r="3.75"/><circle cx="503.4" cy="582" r="3.75"/><circle cx="503.44" cy="584" r="3.75"/><circle cx="503.87" cy="588" r="3.75"/><circle cx="503.83" cy="595" r="3.75"/><circle cx="503.8" cy="597" r="3.75"/><circle cx="515.71" cy="525" r="3.75"/><circle cx="515.72" cy="532" r="3.75"/><circle cx="515.71" cy="536" r="3.75"/><circle cx="516.01" cy="542" r="3.75"/><circle cx="516.26" cy="552.97" r="3.75"/><circle cx="515.99" cy="553.57" r="3.75"/><circle cx="516.04" cy="554.1" r="3.75"/><circle cx="515.91" cy="554.27" r="3.75"/><circle cx="516.11" cy="551.07" r="3.75"/><circle cx="516.03" cy="550.14" r="3.75"/><circle cx="515.82" cy="560" r="3.75"/><circle cx="515.91" cy="566" r="3.75"/><circle cx="516.29" cy="570" r="3.75"/><circle cx="515.76" cy="576" r="3.75"/><circle cx="515.82" cy="584" r="3.75"/><circle cx="540.08" cy="519" r="3.75"/><circle cx="539.87" cy="524" r="3.75"/><circle cx="552.4" cy="548" r="3.75"/><circle cx="552.52" cy="582.31" r="3.75"/><circle cx="552.23" cy="580.4" r="3.75"/><circle cx="552.53" cy="581.53" r="3.75"/><circle cx="552.31" cy="560.9" r="3.75"/><circle cx="552.4" cy="563.56" r="3.75"/><circle cx="552.52" cy="585.63" r="3.75"/><circle cx="552.49" cy="594.59" r="3.75"/><circle cx="552.6" cy="582.86" r="3.75"/><circle cx="552.18" cy="589.79" r="3.75"/><circle cx="552.42" cy="587.36" r="3.75"/><circle cx="552.55" cy="588.51" r="3.75"/><circle cx="552.2" cy="589.17" r="3.75"/><circle cx="576.2" cy="533" r="3.75"/><circle cx="588.52" cy="539" r="3.75"/><circle cx="588.48" cy="541" r="3.75"/><circle cx="588.62" cy="563" r="3.75"/><circle cx="588.54" cy="567" r="3.75"/><circle cx="612.29" cy="514.4" r="3.75"/><circle cx="624.47" cy="470" r="3.75"/><circle cx="624.47" cy="524" r="3.75"/><circle cx="624.68" cy="528" r="3.75"/><circle cx="624.69" cy="532" r="3.75"/><circle cx="624.41" cy="570" r="3.75"/><circle cx="636.37" cy="545" r="3.75"/><circle cx="636.49" cy="550" r="3.75"/><circle cx="636.41" cy="554" r="3.75"/><circle cx="636.37" cy="557" r="3.75"/><circle cx="636.21" cy="559" r="3.75"/><circle cx="636.2" cy="562" r="3.75"/><circle cx="636.42" cy="571" r="3.75"/></g>
<polyline points="452.4,582 624,538 636.4,558" class="ln"/>
</g>
<path d="M624.2 468.05V610.4" class="dt"/>
<g clip-path="url(#cpg)">
<polygon points="85,755.3 200,755.3 235,755.5 251,757.5 263,761.5 271,765 279.4,769 279.4,826 271,795 263,776 251,765 235,759 200,758.7 85,758.7" class="band"/>
<g class="pt"><circle cx="84.95" cy="718" r="3.75"/><circle cx="85.01" cy="733" r="3.75"/><circle cx="85.14" cy="741" r="3.75"/><circle cx="84.8" cy="743" r="3.75"/><circle cx="84.86" cy="745" r="3.75"/><circle cx="85.17" cy="747" r="3.75"/><circle cx="84.88" cy="761" r="3.75"/><circle cx="84.91" cy="777" r="3.75"/><circle cx="91.24" cy="732" r="3.75"/><circle cx="90.71" cy="755" r="3.75"/><circle cx="90.92" cy="768" r="3.75"/><circle cx="90.81" cy="771" r="3.75"/><circle cx="91.29" cy="774" r="3.75"/><circle cx="91.26" cy="787" r="3.75"/><circle cx="98.24" cy="737" r="3.75"/><circle cx="98.01" cy="743" r="3.75"/><circle cx="98.04" cy="760" r="3.75"/><circle cx="98.06" cy="765" r="3.75"/><circle cx="98.14" cy="770" r="3.75"/><circle cx="98.17" cy="774" r="3.75"/><circle cx="98.22" cy="780" r="3.75"/><circle cx="98.06" cy="784" r="3.75"/><circle cx="97.74" cy="788" r="3.75"/><circle cx="98.13" cy="791" r="3.75"/><circle cx="97.95" cy="794" r="3.75"/><circle cx="107.01" cy="752" r="3.75"/><circle cx="110.55" cy="720" r="3.75"/><circle cx="110.65" cy="736" r="3.75"/><circle cx="110.5" cy="788" r="3.75"/><circle cx="116.07" cy="750" r="3.75"/><circle cx="122.9" cy="717" r="3.75"/><circle cx="122.31" cy="727" r="3.75"/><circle cx="122.73" cy="735" r="3.75"/><circle cx="122.36" cy="743" r="3.75"/><circle cx="122.63" cy="745" r="3.75"/><circle cx="122.45" cy="756" r="3.75"/><circle cx="122.52" cy="758" r="3.75"/><circle cx="122.8" cy="761" r="3.75"/><circle cx="122.49" cy="763" r="3.75"/><circle cx="122.84" cy="780" r="3.75"/><circle cx="122.68" cy="782" r="3.75"/><circle cx="122.84" cy="784" r="3.75"/><circle cx="122.68" cy="806" r="3.75"/><circle cx="134.67" cy="739" r="3.75"/><circle cx="134.63" cy="751.65" r="3.75"/><circle cx="134.37" cy="757.96" r="3.75"/><circle cx="134.43" cy="756.44" r="3.75"/><circle cx="134.4" cy="773.06" r="3.75"/><circle cx="134.47" cy="744.08" r="3.75"/><circle cx="134.43" cy="751.35" r="3.75"/><circle cx="134.41" cy="758.08" r="3.75"/><circle cx="134.66" cy="758.54" r="3.75"/><circle cx="134.81" cy="752.9" r="3.75"/><circle cx="134.31" cy="758.61" r="3.75"/><circle cx="134.37" cy="765.3" r="3.75"/><circle cx="134.42" cy="746.87" r="3.75"/><circle cx="134.85" cy="761.53" r="3.75"/><circle cx="134.59" cy="731.15" r="3.75"/><circle cx="134.65" cy="744.22" r="3.75"/><circle cx="134.65" cy="751.75" r="3.75"/><circle cx="134.67" cy="746.83" r="3.75"/><circle cx="134.75" cy="756.35" r="3.75"/><circle cx="134.66" cy="769.88" r="3.75"/><circle cx="134.47" cy="752.66" r="3.75"/><circle cx="134.32" cy="763.17" r="3.75"/><circle cx="134.63" cy="741.52" r="3.75"/><circle cx="134.89" cy="752.25" r="3.75"/><circle cx="134.66" cy="755.15" r="3.75"/><circle cx="134.31" cy="756" r="3.75"/><circle cx="134.51" cy="785" r="3.75"/><circle cx="134.89" cy="788" r="3.75"/><circle cx="134.82" cy="791" r="3.75"/><circle cx="134.53" cy="794" r="3.75"/><circle cx="134.41" cy="800" r="3.75"/><circle cx="134.34" cy="809" r="3.75"/><circle cx="134.38" cy="824" r="3.75"/><circle cx="146.43" cy="694" r="3.75"/><circle cx="146.81" cy="698" r="3.75"/><circle cx="146.51" cy="710" r="3.75"/><circle cx="146.82" cy="717" r="3.75"/><circle cx="146.86" cy="728" r="3.75"/><circle cx="146.9" cy="734" r="3.75"/><circle cx="146.49" cy="742" r="3.75"/><circle cx="146.76" cy="744" r="3.75"/><circle cx="146.71" cy="746" r="3.75"/><circle cx="146.39" cy="757" r="3.75"/><circle cx="146.77" cy="761" r="3.75"/><circle cx="146.67" cy="766" r="3.75"/><circle cx="146.36" cy="782" r="3.75"/><circle cx="146.55" cy="798" r="3.75"/><circle cx="158.48" cy="750" r="3.75"/><circle cx="158.59" cy="761" r="3.75"/><circle cx="170.44" cy="781.6" r="3.75"/><circle cx="182.41" cy="738.4" r="3.75"/><circle cx="194.71" cy="751" r="3.75"/><circle cx="195.09" cy="755" r="3.75"/><circle cx="194.88" cy="759" r="3.75"/><circle cx="194.88" cy="762" r="3.75"/><circle cx="195.08" cy="765" r="3.75"/><circle cx="195.13" cy="768" r="3.75"/><circle cx="194.95" cy="770" r="3.75"/><circle cx="219.28" cy="748" r="3.75"/><circle cx="218.79" cy="790" r="3.75"/><circle cx="230.84" cy="739.6" r="3.75"/><circle cx="231.17" cy="749" r="3.75"/><circle cx="230.95" cy="792" r="3.75"/><circle cx="243.19" cy="744.4" r="3.75"/><circle cx="255.17" cy="818" r="3.75"/><circle cx="267.15" cy="752.6" r="3.75"/><circle cx="267.62" cy="766" r="3.75"/><circle cx="267.3" cy="795" r="3.75"/><circle cx="279.56" cy="785" r="3.75"/><circle cx="279.33" cy="808" r="3.75"/></g>
<polyline points="85,757 200,757.06 203,757.08 206,757.1 209,757.13 212,757.16 215,757.21 218,757.27 221,757.34 224,757.44 227,757.56 230,757.71 233,757.91 236,758.17 239,758.49 242,758.91 245,759.44 248,760.13 251,761 254,762.11 257,763.54 260,765.36 263,767.69 266,770.67 269,774.48 272,779.35 275,785.59 278,793.55 279.4,798" class="ln"/>
</g>
<g clip-path="url(#cph)">
<polygon points="435,747 440,751.8 673,753.9 673,756.9 440,754.2 435,750" class="band"/>
<g class="pt"><circle cx="433.71" cy="736.69" r="3.75"/><circle cx="433.42" cy="748.21" r="3.75"/><circle cx="433.67" cy="785.74" r="3.75"/><circle cx="433.39" cy="780.72" r="3.75"/><circle cx="433.31" cy="734.16" r="3.75"/><circle cx="433.68" cy="760.25" r="3.75"/><circle cx="433.31" cy="753.04" r="3.75"/><circle cx="433.42" cy="718.14" r="3.75"/><circle cx="433.66" cy="748.23" r="3.75"/><circle cx="433.4" cy="744.19" r="3.75"/><circle cx="433.75" cy="769.46" r="3.75"/><circle cx="433.42" cy="752.14" r="3.75"/><circle cx="433.43" cy="748.11" r="3.75"/><circle cx="433.26" cy="760.42" r="3.75"/><circle cx="433.68" cy="779.24" r="3.75"/><circle cx="433.44" cy="753.97" r="3.75"/><circle cx="433.49" cy="772.77" r="3.75"/><circle cx="433.49" cy="743.67" r="3.75"/><circle cx="433.44" cy="769.48" r="3.75"/><circle cx="433.38" cy="737.39" r="3.75"/><circle cx="433.46" cy="726.39" r="3.75"/><circle cx="433.74" cy="751.6" r="3.75"/><circle cx="433.25" cy="772.15" r="3.75"/><circle cx="433.42" cy="755.83" r="3.75"/><circle cx="433.4" cy="781.85" r="3.75"/><circle cx="433.58" cy="710.97" r="3.75"/><circle cx="433.22" cy="752.81" r="3.75"/><circle cx="433.56" cy="757.65" r="3.75"/><circle cx="433.65" cy="720.24" r="3.75"/><circle cx="433.32" cy="736.44" r="3.75"/><circle cx="433.34" cy="780.36" r="3.75"/><circle cx="433.68" cy="765.45" r="3.75"/><circle cx="433.3" cy="718.7" r="3.75"/><circle cx="433.41" cy="740.45" r="3.75"/><circle cx="433.5" cy="759.22" r="3.75"/><circle cx="433.45" cy="746.03" r="3.75"/><circle cx="433.59" cy="763.38" r="3.75"/><circle cx="433.3" cy="747.28" r="3.75"/><circle cx="433.31" cy="734.91" r="3.75"/><circle cx="433.64" cy="757.26" r="3.75"/><circle cx="433.73" cy="723.7" r="3.75"/><circle cx="433.27" cy="763.59" r="3.75"/><circle cx="433.47" cy="795.7" r="3.75"/><circle cx="433.22" cy="730.6" r="3.75"/><circle cx="433.3" cy="751.5" r="3.75"/><circle cx="433.37" cy="760.93" r="3.75"/><circle cx="433.77" cy="743.99" r="3.75"/><circle cx="433.48" cy="749.03" r="3.75"/><circle cx="433.55" cy="751.91" r="3.75"/><circle cx="433.68" cy="755.96" r="3.75"/><circle cx="433.53" cy="768.36" r="3.75"/><circle cx="433.21" cy="731.27" r="3.75"/><circle cx="433.31" cy="707.26" r="3.75"/><circle cx="433.7" cy="787.19" r="3.75"/><circle cx="433.49" cy="734.06" r="3.75"/><circle cx="433.44" cy="729.84" r="3.75"/><circle cx="433.51" cy="757.25" r="3.75"/><circle cx="433.2" cy="721.95" r="3.75"/><circle cx="433.25" cy="738.56" r="3.75"/><circle cx="433.51" cy="757.54" r="3.75"/><circle cx="433.38" cy="706.38" r="3.75"/><circle cx="433.72" cy="789.91" r="3.75"/><circle cx="433.41" cy="765.95" r="3.75"/><circle cx="433.22" cy="771.4" r="3.75"/><circle cx="433.72" cy="772.25" r="3.75"/><circle cx="433.22" cy="766.12" r="3.75"/><circle cx="433.59" cy="764.11" r="3.75"/><circle cx="433.61" cy="784.81" r="3.75"/><circle cx="433.5" cy="738.21" r="3.75"/><circle cx="433.23" cy="748.66" r="3.75"/><circle cx="433.22" cy="753.41" r="3.75"/><circle cx="433.52" cy="750.23" r="3.75"/><circle cx="433.65" cy="766.69" r="3.75"/><circle cx="433.45" cy="760.54" r="3.75"/><circle cx="433.78" cy="745.46" r="3.75"/><circle cx="433.25" cy="738.82" r="3.75"/><circle cx="433.45" cy="742.49" r="3.75"/><circle cx="433.38" cy="743.22" r="3.75"/><circle cx="433.62" cy="801.85" r="3.75"/><circle cx="433.68" cy="753.18" r="3.75"/><circle cx="433.6" cy="780.92" r="3.75"/><circle cx="433.31" cy="752.06" r="3.75"/><circle cx="433.45" cy="777.9" r="3.75"/><circle cx="433.41" cy="765.25" r="3.75"/><circle cx="433.32" cy="784.87" r="3.75"/><circle cx="433.65" cy="733.63" r="3.75"/><circle cx="433.2" cy="767.59" r="3.75"/><circle cx="433.6" cy="754.05" r="3.75"/><circle cx="433.38" cy="760.07" r="3.75"/><circle cx="433.34" cy="772.85" r="3.75"/><circle cx="433.58" cy="752.33" r="3.75"/><circle cx="433.55" cy="737.98" r="3.75"/><circle cx="433.27" cy="762.42" r="3.75"/><circle cx="433.64" cy="745.78" r="3.75"/><circle cx="433.38" cy="730.51" r="3.75"/><circle cx="433.25" cy="777.53" r="3.75"/><circle cx="433.79" cy="779.26" r="3.75"/><circle cx="433.8" cy="735.19" r="3.75"/><circle cx="433.34" cy="754.74" r="3.75"/><circle cx="433.36" cy="758.4" r="3.75"/><circle cx="433.33" cy="758.32" r="3.75"/><circle cx="433.61" cy="723.48" r="3.75"/><circle cx="433.71" cy="719.79" r="3.75"/><circle cx="433.27" cy="784.97" r="3.75"/><circle cx="433.72" cy="741.17" r="3.75"/><circle cx="433.78" cy="815" r="3.75"/><circle cx="433.64" cy="822" r="3.75"/><circle cx="437.66" cy="750.52" r="3.75"/><circle cx="437.8" cy="761.56" r="3.75"/><circle cx="437.42" cy="769.51" r="3.75"/><circle cx="437.72" cy="761.94" r="3.75"/><circle cx="437.77" cy="734.82" r="3.75"/><circle cx="437.42" cy="776.76" r="3.75"/><circle cx="437.28" cy="721.09" r="3.75"/><circle cx="437.45" cy="757.21" r="3.75"/><circle cx="437.43" cy="717.47" r="3.75"/><circle cx="437.27" cy="727.02" r="3.75"/><circle cx="437.69" cy="717.31" r="3.75"/><circle cx="437.68" cy="761.61" r="3.75"/><circle cx="437.55" cy="727.06" r="3.75"/><circle cx="437.72" cy="765.2" r="3.75"/><circle cx="437.76" cy="732.82" r="3.75"/><circle cx="437.79" cy="777.7" r="3.75"/><circle cx="437.42" cy="761.86" r="3.75"/><circle cx="437.55" cy="771.83" r="3.75"/><circle cx="437.35" cy="756.49" r="3.75"/><circle cx="437.38" cy="755.81" r="3.75"/><circle cx="437.69" cy="752.76" r="3.75"/><circle cx="437.38" cy="754.15" r="3.75"/><circle cx="437.32" cy="765.41" r="3.75"/><circle cx="437.34" cy="750.6" r="3.75"/><circle cx="437.71" cy="718.24" r="3.75"/><circle cx="437.44" cy="765.15" r="3.75"/><circle cx="437.73" cy="739.63" r="3.75"/><circle cx="437.77" cy="749.55" r="3.75"/><circle cx="437.54" cy="780.95" r="3.75"/><circle cx="437.54" cy="753.99" r="3.75"/><circle cx="437.49" cy="776.6" r="3.75"/><circle cx="437.7" cy="754.97" r="3.75"/><circle cx="437.2" cy="757.62" r="3.75"/><circle cx="437.38" cy="748.09" r="3.75"/><circle cx="437.23" cy="740.45" r="3.75"/><circle cx="437.29" cy="743.1" r="3.75"/><circle cx="437.52" cy="749.09" r="3.75"/><circle cx="437.35" cy="742.48" r="3.75"/><circle cx="437.46" cy="764.87" r="3.75"/><circle cx="437.51" cy="752.23" r="3.75"/><circle cx="437.4" cy="707.22" r="3.75"/><circle cx="437.32" cy="765.58" r="3.75"/><circle cx="437.3" cy="781.13" r="3.75"/><circle cx="437.23" cy="736.26" r="3.75"/><circle cx="437.2" cy="742.81" r="3.75"/><circle cx="437.7" cy="768.21" r="3.75"/><circle cx="437.69" cy="754.42" r="3.75"/><circle cx="437.46" cy="742.25" r="3.75"/><circle cx="437.55" cy="794.69" r="3.75"/><circle cx="437.31" cy="753.9" r="3.75"/><circle cx="437.71" cy="745.16" r="3.75"/><circle cx="437.47" cy="752.17" r="3.75"/><circle cx="437.39" cy="783.66" r="3.75"/><circle cx="437.25" cy="778.38" r="3.75"/><circle cx="437.37" cy="745.45" r="3.75"/><circle cx="437.58" cy="758.3" r="3.75"/><circle cx="437.33" cy="797.03" r="3.75"/><circle cx="437.2" cy="746.12" r="3.75"/><circle cx="437.52" cy="758.84" r="3.75"/><circle cx="437.7" cy="740.13" r="3.75"/><circle cx="437.67" cy="763.28" r="3.75"/><circle cx="437.76" cy="770.51" r="3.75"/><circle cx="437.7" cy="732.77" r="3.75"/><circle cx="437.32" cy="729.35" r="3.75"/><circle cx="437.24" cy="769.29" r="3.75"/><circle cx="437.36" cy="773.36" r="3.75"/><circle cx="437.42" cy="754.22" r="3.75"/><circle cx="437.61" cy="752.6" r="3.75"/><circle cx="437.43" cy="749.48" r="3.75"/><circle cx="437.65" cy="774.36" r="3.75"/><circle cx="437.29" cy="759.01" r="3.75"/><circle cx="437.33" cy="744.49" r="3.75"/><circle cx="437.75" cy="716.46" r="3.75"/><circle cx="437.61" cy="753.97" r="3.75"/><circle cx="437.3" cy="771.42" r="3.75"/><circle cx="437.39" cy="730.6" r="3.75"/><circle cx="437.25" cy="765.84" r="3.75"/><circle cx="437.33" cy="756.63" r="3.75"/><circle cx="437.41" cy="725.63" r="3.75"/><circle cx="437.71" cy="759.49" r="3.75"/><circle cx="437.6" cy="775.38" r="3.75"/><circle cx="437.44" cy="757.84" r="3.75"/><circle cx="437.36" cy="728.59" r="3.75"/><circle cx="437.4" cy="777.13" r="3.75"/><circle cx="437.22" cy="769.24" r="3.75"/><circle cx="437.58" cy="730.21" r="3.75"/><circle cx="437.45" cy="783.71" r="3.75"/><circle cx="437.54" cy="782.07" r="3.75"/><circle cx="437.3" cy="764.34" r="3.75"/><circle cx="437.32" cy="736.34" r="3.75"/><circle cx="437.76" cy="727.76" r="3.75"/><circle cx="437.35" cy="700.61" r="3.75"/><circle cx="437.58" cy="731.25" r="3.75"/><circle cx="437.28" cy="743.45" r="3.75"/><circle cx="437.25" cy="752.46" r="3.75"/><circle cx="437.22" cy="789.52" r="3.75"/><circle cx="437.47" cy="724.17" r="3.75"/><circle cx="437.55" cy="735.07" r="3.75"/><circle cx="437.6" cy="740.83" r="3.75"/><circle cx="437.63" cy="754.62" r="3.75"/><circle cx="437.8" cy="828" r="3.75"/><circle cx="506.74" cy="759.29" r="3.75"/><circle cx="506.66" cy="765.19" r="3.75"/><circle cx="506.6" cy="756.39" r="3.75"/><circle cx="506.33" cy="767.42" r="3.75"/><circle cx="506.64" cy="761.07" r="3.75"/><circle cx="506.54" cy="757.41" r="3.75"/><circle cx="506.55" cy="769.4" r="3.75"/><circle cx="506.62" cy="761.54" r="3.75"/><circle cx="506.49" cy="755.66" r="3.75"/><circle cx="506.41" cy="773.83" r="3.75"/><circle cx="506.57" cy="771.68" r="3.75"/><circle cx="506.7" cy="757.33" r="3.75"/><circle cx="506.26" cy="762.47" r="3.75"/><circle cx="506.34" cy="753.62" r="3.75"/><circle cx="506.24" cy="734.3" r="3.75"/><circle cx="506.8" cy="755.66" r="3.75"/><circle cx="506.26" cy="761.51" r="3.75"/><circle cx="506.8" cy="759.26" r="3.75"/><circle cx="506.56" cy="760.25" r="3.75"/><circle cx="506.46" cy="759.18" r="3.75"/><circle cx="506.36" cy="758.65" r="3.75"/><circle cx="506.35" cy="766.16" r="3.75"/><circle cx="506.2" cy="716" r="3.75"/><circle cx="506.36" cy="797" r="3.75"/><circle cx="553.79" cy="733" r="3.75"/><circle cx="577.44" cy="735" r="3.75"/><circle cx="577.43" cy="736" r="3.75"/><circle cx="577.7" cy="745.6" r="3.75"/><circle cx="577.56" cy="755" r="3.75"/><circle cx="590.24" cy="751" r="3.75"/><circle cx="590.19" cy="757" r="3.75"/><circle cx="601.59" cy="761" r="3.75"/><circle cx="632.98" cy="754" r="3.75"/><circle cx="637" cy="737" r="3.75"/><circle cx="640.28" cy="747" r="3.75"/><circle cx="639.95" cy="752" r="3.75"/><circle cx="644.96" cy="729.6" r="3.75"/><circle cx="647.8" cy="747" r="3.75"/><circle cx="648.24" cy="754" r="3.75"/><circle cx="657.78" cy="748" r="3.75"/><circle cx="665.11" cy="754" r="3.75"/><circle cx="671.17" cy="745.6" r="3.75"/><circle cx="672.93" cy="757" r="3.75"/><circle cx="482.66" cy="746.93" r="3.75"/><circle cx="483.39" cy="760.07" r="3.75"/><circle cx="476.82" cy="762.26" r="3.75"/><circle cx="474.64" cy="769.56" r="3.75"/><circle cx="471.72" cy="784.89" r="3.75"/><circle cx="482.66" cy="786.35" r="3.75"/><circle cx="479.01" cy="797.3" r="3.75"/><circle cx="462.23" cy="793.65" r="3.75"/><circle cx="492.15" cy="758.61" r="3.75"/><circle cx="493.61" cy="733.8" r="3.75"/><circle cx="497.26" cy="741.09" r="3.75"/><circle cx="500.91" cy="725.77" r="3.75"/><circle cx="496.53" cy="780.51" r="3.75"/><circle cx="506.75" cy="715.55" r="3.75"/><circle cx="516.24" cy="708.98" r="3.75"/><circle cx="516.97" cy="717.74" r="3.75"/><circle cx="514.05" cy="744.01" r="3.75"/><circle cx="518.43" cy="767.37" r="3.75"/><circle cx="515.51" cy="792.19" r="3.75"/><circle cx="519.89" cy="786.35" r="3.75"/><circle cx="506.75" cy="797.3" r="3.75"/><circle cx="468.8" cy="779.05" r="3.75"/><circle cx="458.58" cy="783.43" r="3.75"/><circle cx="451.28" cy="792.19" r="3.75"/><circle cx="452" cy="714" r="3.75"/><circle cx="453" cy="722" r="3.75"/><circle cx="465" cy="718" r="3.75"/><circle cx="465" cy="730" r="3.75"/><circle cx="445.79" cy="727.79" r="3.75"/><circle cx="441.44" cy="781.88" r="3.75"/><circle cx="445.25" cy="755.1" r="3.75"/><circle cx="444.01" cy="733.02" r="3.75"/><circle cx="440.27" cy="749.68" r="3.75"/><circle cx="443.92" cy="757.36" r="3.75"/><circle cx="441.81" cy="752.27" r="3.75"/><circle cx="443.63" cy="733.17" r="3.75"/><circle cx="441.08" cy="771.46" r="3.75"/><circle cx="444.28" cy="723.5" r="3.75"/><circle cx="444.45" cy="754.92" r="3.75"/><circle cx="444.8" cy="745.89" r="3.75"/><circle cx="442.51" cy="793.94" r="3.75"/><circle cx="444.31" cy="737.35" r="3.75"/><circle cx="445.11" cy="785.38" r="3.75"/><circle cx="444.03" cy="791.13" r="3.75"/><circle cx="442.57" cy="738.45" r="3.75"/><circle cx="441.84" cy="749.01" r="3.75"/><circle cx="442" cy="767.09" r="3.75"/><circle cx="440.75" cy="756.57" r="3.75"/><circle cx="446" cy="737.69" r="3.75"/><circle cx="440.06" cy="739.61" r="3.75"/><circle cx="446.09" cy="798.07" r="3.75"/><circle cx="446.96" cy="792.07" r="3.75"/><circle cx="444.51" cy="748.15" r="3.75"/><circle cx="446.76" cy="767.2" r="3.75"/><circle cx="443.99" cy="770.78" r="3.75"/><circle cx="445.47" cy="744.7" r="3.75"/><circle cx="446.09" cy="748.82" r="3.75"/><circle cx="443.55" cy="753.37" r="3.75"/><circle cx="446.9" cy="752.95" r="3.75"/><circle cx="440.19" cy="780.15" r="3.75"/><circle cx="443.28" cy="752.86" r="3.75"/><circle cx="444.51" cy="713.15" r="3.75"/><circle cx="445.7" cy="761.64" r="3.75"/><circle cx="440.09" cy="740.72" r="3.75"/><circle cx="445.46" cy="761.86" r="3.75"/><circle cx="442.24" cy="729.62" r="3.75"/><circle cx="443.91" cy="790.06" r="3.75"/><circle cx="442.33" cy="755.17" r="3.75"/><circle cx="441.44" cy="757.42" r="3.75"/><circle cx="441.4" cy="753.78" r="3.75"/><circle cx="442.7" cy="709.61" r="3.75"/><circle cx="440.44" cy="806.88" r="3.75"/><circle cx="446.18" cy="761.8" r="3.75"/><circle cx="446.14" cy="750.54" r="3.75"/><circle cx="442.26" cy="734.06" r="3.75"/><circle cx="442.46" cy="743.03" r="3.75"/><circle cx="442.97" cy="755.96" r="3.75"/><circle cx="446.62" cy="733.42" r="3.75"/><circle cx="443.39" cy="752.25" r="3.75"/><circle cx="443.54" cy="775.34" r="3.75"/><circle cx="445.15" cy="738.72" r="3.75"/><circle cx="446.49" cy="756.47" r="3.75"/><circle cx="445.87" cy="726.85" r="3.75"/><circle cx="442.9" cy="744.27" r="3.75"/><circle cx="446.11" cy="745.9" r="3.75"/><circle cx="445.74" cy="729.3" r="3.75"/><circle cx="446.71" cy="759.06" r="3.75"/><circle cx="442.22" cy="722.38" r="3.75"/><circle cx="443.59" cy="738.05" r="3.75"/><circle cx="440.56" cy="757.44" r="3.75"/><circle cx="442.57" cy="762.31" r="3.75"/><circle cx="440.44" cy="754.18" r="3.75"/><circle cx="440.09" cy="743.98" r="3.75"/><circle cx="440.35" cy="787.71" r="3.75"/><circle cx="440.26" cy="762.84" r="3.75"/><circle cx="442.61" cy="773.51" r="3.75"/><circle cx="441.95" cy="726.76" r="3.75"/><circle cx="440.1" cy="770.41" r="3.75"/><circle cx="446.41" cy="733.87" r="3.75"/><circle cx="444.85" cy="756.1" r="3.75"/><circle cx="444.74" cy="730.04" r="3.75"/><circle cx="444.35" cy="764.99" r="3.75"/><circle cx="445.08" cy="764.22" r="3.75"/><circle cx="446.54" cy="761.29" r="3.75"/><circle cx="442.2" cy="764.78" r="3.75"/><circle cx="443.94" cy="762.79" r="3.75"/><circle cx="446.67" cy="747.86" r="3.75"/><circle cx="443.38" cy="775.57" r="3.75"/><circle cx="450.9" cy="764.67" r="3.75"/><circle cx="451.4" cy="761.41" r="3.75"/><circle cx="450.24" cy="755.49" r="3.75"/><circle cx="453.02" cy="746.01" r="3.75"/><circle cx="454.54" cy="773.79" r="3.75"/><circle cx="452.07" cy="776.21" r="3.75"/><circle cx="447.63" cy="769.59" r="3.75"/><circle cx="450.81" cy="758.19" r="3.75"/><circle cx="449.53" cy="745.07" r="3.75"/><circle cx="449.08" cy="780.09" r="3.75"/><circle cx="449" cy="760.99" r="3.75"/><circle cx="455.04" cy="765.79" r="3.75"/><circle cx="453.89" cy="761.58" r="3.75"/><circle cx="453.77" cy="755.94" r="3.75"/><circle cx="456.3" cy="767.51" r="3.75"/><circle cx="453.81" cy="748.95" r="3.75"/><circle cx="450.67" cy="759.41" r="3.75"/><circle cx="453.78" cy="771.16" r="3.75"/><circle cx="456.51" cy="775.31" r="3.75"/><circle cx="451.47" cy="740.98" r="3.75"/><circle cx="448.34" cy="753.84" r="3.75"/><circle cx="453.02" cy="789.21" r="3.75"/><circle cx="457.2" cy="775.9" r="3.75"/><circle cx="457.12" cy="766.93" r="3.75"/><circle cx="453.63" cy="748.84" r="3.75"/><circle cx="455.21" cy="733.96" r="3.75"/><circle cx="453.97" cy="768.55" r="3.75"/><circle cx="447.78" cy="792.95" r="3.75"/><circle cx="456.93" cy="768.92" r="3.75"/><circle cx="454.92" cy="728.03" r="3.75"/><circle cx="457.05" cy="753.27" r="3.75"/><circle cx="455.28" cy="755.73" r="3.75"/><circle cx="449.79" cy="753.2" r="3.75"/><circle cx="450.67" cy="744.36" r="3.75"/><circle cx="455.81" cy="761.7" r="3.75"/><circle cx="457.93" cy="733.95" r="3.75"/><circle cx="450.45" cy="777.07" r="3.75"/><circle cx="455.61" cy="756.89" r="3.75"/><circle cx="449.14" cy="773.73" r="3.75"/><circle cx="452.86" cy="745.11" r="3.75"/><circle cx="459.57" cy="789.33" r="3.75"/><circle cx="468.76" cy="762.1" r="3.75"/><circle cx="466.26" cy="770.3" r="3.75"/><circle cx="466.17" cy="772.35" r="3.75"/><circle cx="462.41" cy="776.07" r="3.75"/><circle cx="465.29" cy="744.62" r="3.75"/><circle cx="459.2" cy="768.11" r="3.75"/><circle cx="459.07" cy="764.87" r="3.75"/><circle cx="468.03" cy="753.29" r="3.75"/><circle cx="461.69" cy="753.68" r="3.75"/><circle cx="463.87" cy="745.86" r="3.75"/><circle cx="461.04" cy="757.88" r="3.75"/><circle cx="467.48" cy="768.43" r="3.75"/><circle cx="458.19" cy="778.22" r="3.75"/><circle cx="461" cy="740.99" r="3.75"/><circle cx="460.4" cy="767.06" r="3.75"/><circle cx="460.61" cy="745.71" r="3.75"/><circle cx="464.5" cy="787.1" r="3.75"/><circle cx="464.51" cy="746.78" r="3.75"/><circle cx="464.59" cy="758.49" r="3.75"/><circle cx="458.46" cy="746.44" r="3.75"/><circle cx="464.2" cy="769.42" r="3.75"/><circle cx="461.73" cy="767.88" r="3.75"/><circle cx="464.43" cy="770.56" r="3.75"/><circle cx="458.14" cy="763" r="3.75"/><circle cx="531.38" cy="776.89" r="3.75"/><circle cx="510.49" cy="753.14" r="3.75"/><circle cx="513.12" cy="755.86" r="3.75"/><circle cx="527.72" cy="739.12" r="3.75"/><circle cx="518.84" cy="765.44" r="3.75"/><circle cx="524.78" cy="749.42" r="3.75"/><circle cx="524.2" cy="753.67" r="3.75"/><circle cx="533.94" cy="766.42" r="3.75"/><circle cx="533.1" cy="768.63" r="3.75"/><circle cx="524.25" cy="737.08" r="3.75"/></g>
<polyline points="435,748.5 437,751.5 440,753 460,754 673,755.4" class="ln"/>
</g>
<g clip-path="url(#cpi)">
<polygon points="77.7,971.5 77.9,977.5 78.3,983.5 79,988.5 80.3,992.5 82,995.5 85,998.8 88.4,1001.3 92,1003.3 98,1005.4 106,1006.99 116,1008.6 126,1009.82 140,1011.26 160,1012.68 180,1013.71 203,1014.78 230,1015.38 260,1015.72 290,1015.97 315,1016.1 315,1029.1 290,1028.03 260,1026.68 230,1025.22 203,1023.62 180,1021.69 160,1019.92 140,1017.74 126,1015.78 116,1014.2 106,1012.21 98,1010.4 92,1008.3 88.4,1006.3 85,1003.8 82,1000.5 80.3,997.5 79,993.5 78.3,988.5 77.9,982.5 77.7,976.5" class="band"/>
<g class="pt"><circle cx="75.39" cy="918" r="3.75"/><circle cx="75.26" cy="924" r="3.75"/><circle cx="75.76" cy="930" r="3.75"/><circle cx="76.73" cy="994.88" r="3.75"/><circle cx="76.55" cy="975.25" r="3.75"/><circle cx="76.34" cy="1008.21" r="3.75"/><circle cx="76.66" cy="1002.6" r="3.75"/><circle cx="76.46" cy="1006.09" r="3.75"/><circle cx="76.71" cy="964.47" r="3.75"/><circle cx="76.59" cy="981.76" r="3.75"/><circle cx="76.74" cy="998.88" r="3.75"/><circle cx="76.46" cy="1023.72" r="3.75"/><circle cx="76.49" cy="965.8" r="3.75"/><circle cx="76.75" cy="974.41" r="3.75"/><circle cx="76.61" cy="971.22" r="3.75"/><circle cx="76.24" cy="1009.3" r="3.75"/><circle cx="76.25" cy="967.11" r="3.75"/><circle cx="76.73" cy="992.85" r="3.75"/><circle cx="76.74" cy="1021.46" r="3.75"/><circle cx="76.55" cy="977.66" r="3.75"/><circle cx="76.35" cy="982.28" r="3.75"/><circle cx="76.76" cy="966.59" r="3.75"/><circle cx="76.74" cy="988.66" r="3.75"/><circle cx="76.56" cy="1030.75" r="3.75"/><circle cx="76.56" cy="1004.43" r="3.75"/><circle cx="76.67" cy="948.23" r="3.75"/><circle cx="76.29" cy="1006.83" r="3.75"/><circle cx="76.33" cy="982.44" r="3.75"/><circle cx="76.32" cy="1005.72" r="3.75"/><circle cx="76.35" cy="981.96" r="3.75"/><circle cx="76.4" cy="973.48" r="3.75"/><circle cx="76.72" cy="998.93" r="3.75"/><circle cx="76.56" cy="981.72" r="3.75"/><circle cx="76.8" cy="978.97" r="3.75"/><circle cx="76.7" cy="993.79" r="3.75"/><circle cx="76.57" cy="972.28" r="3.75"/><circle cx="76.44" cy="973.31" r="3.75"/><circle cx="76.4" cy="1005.93" r="3.75"/><circle cx="76.66" cy="944.35" r="3.75"/><circle cx="76.7" cy="949.3" r="3.75"/><circle cx="76.55" cy="953.86" r="3.75"/><circle cx="76.33" cy="956.51" r="3.75"/><circle cx="76.64" cy="958.02" r="3.75"/><circle cx="76.33" cy="964.07" r="3.75"/><circle cx="76.45" cy="967.39" r="3.75"/><circle cx="76.73" cy="969.91" r="3.75"/><circle cx="76.69" cy="974.41" r="3.75"/><circle cx="76.62" cy="977.58" r="3.75"/><circle cx="76.69" cy="981.01" r="3.75"/><circle cx="76.55" cy="982.49" r="3.75"/><circle cx="78.73" cy="999.57" r="3.75"/><circle cx="78.81" cy="1007.77" r="3.75"/><circle cx="78.94" cy="1029.5" r="3.75"/><circle cx="78.95" cy="1000.89" r="3.75"/><circle cx="78.76" cy="1007.81" r="3.75"/><circle cx="78.79" cy="997.46" r="3.75"/><circle cx="78.97" cy="988.14" r="3.75"/><circle cx="79.28" cy="983.94" r="3.75"/><circle cx="79.27" cy="1000.32" r="3.75"/><circle cx="78.78" cy="1008.89" r="3.75"/><circle cx="79.11" cy="983.32" r="3.75"/><circle cx="78.79" cy="998.65" r="3.75"/><circle cx="79.11" cy="1015.69" r="3.75"/><circle cx="79.16" cy="1005.02" r="3.75"/><circle cx="78.83" cy="991.71" r="3.75"/><circle cx="78.97" cy="995.47" r="3.75"/><circle cx="79.23" cy="994.26" r="3.75"/><circle cx="79.03" cy="982.66" r="3.75"/><circle cx="78.74" cy="997.49" r="3.75"/><circle cx="79.19" cy="1007.47" r="3.75"/><circle cx="79.24" cy="1018.29" r="3.75"/><circle cx="79.2" cy="980.63" r="3.75"/><circle cx="79.06" cy="983.97" r="3.75"/><circle cx="79.26" cy="998.43" r="3.75"/><circle cx="79.13" cy="1009.29" r="3.75"/><circle cx="78.79" cy="1000.21" r="3.75"/><circle cx="79.23" cy="1000.57" r="3.75"/><circle cx="79.12" cy="990.28" r="3.75"/><circle cx="78.82" cy="1022.07" r="3.75"/><circle cx="78.77" cy="992.52" r="3.75"/><circle cx="85.4" cy="953" r="3.75"/><circle cx="85.62" cy="962" r="3.75"/><circle cx="85.5" cy="972" r="3.75"/><circle cx="85.53" cy="976" r="3.75"/><circle cx="85.48" cy="990" r="3.75"/><circle cx="85.58" cy="995" r="3.75"/><circle cx="85.54" cy="1007.19" r="3.75"/><circle cx="85.4" cy="1005.36" r="3.75"/><circle cx="85.62" cy="1005.85" r="3.75"/><circle cx="85.72" cy="1005.85" r="3.75"/><circle cx="85.6" cy="998.2" r="3.75"/><circle cx="85.73" cy="1006.71" r="3.75"/><circle cx="85.39" cy="997.48" r="3.75"/><circle cx="85.58" cy="1004.17" r="3.75"/><circle cx="85.53" cy="1018" r="3.75"/><circle cx="85.35" cy="1020" r="3.75"/><circle cx="85.65" cy="1030" r="3.75"/><circle cx="101.59" cy="1008.66" r="3.75"/><circle cx="101.38" cy="998.06" r="3.75"/><circle cx="101.43" cy="1004.26" r="3.75"/><circle cx="101.5" cy="1005.16" r="3.75"/><circle cx="101.57" cy="1002.54" r="3.75"/><circle cx="101.26" cy="998.57" r="3.75"/><circle cx="101.68" cy="1002.99" r="3.75"/><circle cx="101.44" cy="1006.49" r="3.75"/><circle cx="101.3" cy="1014" r="3.75"/><circle cx="101.73" cy="1020" r="3.75"/><circle cx="101.7" cy="1025" r="3.75"/><circle cx="101.21" cy="1028" r="3.75"/><circle cx="101.22" cy="1032" r="3.75"/><circle cx="115.74" cy="1022" r="3.75"/><circle cx="115.84" cy="1026" r="3.75"/><circle cx="115.8" cy="1030" r="3.75"/><circle cx="115.98" cy="1032" r="3.75"/><circle cx="124.78" cy="1006.86" r="3.75"/><circle cx="125.23" cy="1024.25" r="3.75"/><circle cx="124.75" cy="1010.15" r="3.75"/><circle cx="124.79" cy="1003.13" r="3.75"/><circle cx="125.03" cy="1007.79" r="3.75"/><circle cx="125" cy="1001.01" r="3.75"/><circle cx="124.99" cy="1006.72" r="3.75"/><circle cx="124.95" cy="1006.96" r="3.75"/><circle cx="125.12" cy="1005.53" r="3.75"/><circle cx="124.71" cy="1006.86" r="3.75"/><circle cx="125.22" cy="1000.29" r="3.75"/><circle cx="125.05" cy="1008.89" r="3.75"/><circle cx="124.99" cy="1005.72" r="3.75"/><circle cx="124.8" cy="1004.39" r="3.75"/><circle cx="125.16" cy="1011.85" r="3.75"/><circle cx="124.89" cy="1006.29" r="3.75"/><circle cx="125.18" cy="1005.28" r="3.75"/><circle cx="124.95" cy="1011.69" r="3.75"/><circle cx="125.25" cy="996.06" r="3.75"/><circle cx="124.82" cy="1000.59" r="3.75"/><circle cx="125.08" cy="1020" r="3.75"/><circle cx="124.86" cy="1051" r="3.75"/><circle cx="220.23" cy="983" r="3.75"/><circle cx="219.89" cy="984.5" r="3.75"/><circle cx="220.25" cy="994" r="3.75"/><circle cx="220.03" cy="1007.5" r="3.75"/><circle cx="219.93" cy="1008.5" r="3.75"/><circle cx="84.9" cy="1047.7" r="3.75"/><circle cx="99.2" cy="1051.8" r="3.75"/><circle cx="126.2" cy="1051.8" r="3.75"/><circle cx="149" cy="977" r="3.75"/><circle cx="149" cy="998" r="3.75"/><circle cx="149" cy="1012" r="3.75"/><circle cx="171" cy="994" r="3.75"/><circle cx="173" cy="999" r="3.75"/><circle cx="83.91" cy="1008.17" r="3.75"/><circle cx="81.39" cy="989.13" r="3.75"/><circle cx="81.49" cy="1000.71" r="3.75"/><circle cx="80.18" cy="1011.96" r="3.75"/><circle cx="80.11" cy="1013.41" r="3.75"/><circle cx="82.01" cy="1001.19" r="3.75"/><circle cx="83.05" cy="1004.25" r="3.75"/><circle cx="85.28" cy="977.55" r="3.75"/><circle cx="81.57" cy="1009.69" r="3.75"/><circle cx="84.83" cy="1006.15" r="3.75"/><circle cx="84.44" cy="1000.77" r="3.75"/><circle cx="80.26" cy="988.57" r="3.75"/><circle cx="84.83" cy="1001.35" r="3.75"/><circle cx="83.79" cy="999.88" r="3.75"/><circle cx="80.99" cy="996.26" r="3.75"/><circle cx="83.47" cy="977.94" r="3.75"/><circle cx="85.67" cy="997.84" r="3.75"/><circle cx="84.94" cy="1001.69" r="3.75"/><circle cx="83.47" cy="992.28" r="3.75"/><circle cx="83.04" cy="996.19" r="3.75"/><circle cx="82.62" cy="992.86" r="3.75"/><circle cx="81.42" cy="1000.07" r="3.75"/><circle cx="84.94" cy="997.8" r="3.75"/><circle cx="85.01" cy="1014.94" r="3.75"/><circle cx="81.07" cy="1012" r="3.75"/><circle cx="108.24" cy="1011.49" r="3.75"/><circle cx="105.25" cy="1023.79" r="3.75"/><circle cx="110.61" cy="1025.2" r="3.75"/><circle cx="104.47" cy="1011.15" r="3.75"/><circle cx="109.46" cy="1016.26" r="3.75"/><circle cx="106.64" cy="1027.01" r="3.75"/></g>
<polyline points="77.7,974 77.9,980 78.3,986 79,991 80.3,995 82,998 85,1001.3 88.4,1003.8 92,1005.8 98,1007.9 106,1009.6 116,1011.4 126,1012.8 140,1014.5 160,1016.3 180,1017.7 203,1019.2 230,1020.3 260,1021.2 290,1022 315,1022.6" class="ln"/>
</g>
<g clip-path="url(#cpj)">
<polygon points="435,968 500,966.62 580,963.17 673,957.4 673,967.4 580,967.57 500,969.22 435,972" class="band"/>
<g class="pt"><circle cx="554.12" cy="953" r="3.75"/><circle cx="577.41" cy="975" r="3.75"/><circle cx="577.61" cy="979" r="3.75"/><circle cx="577.88" cy="980" r="3.75"/><circle cx="577.5" cy="997" r="3.75"/><circle cx="577.65" cy="998" r="3.75"/><circle cx="589.95" cy="962" r="3.75"/><circle cx="589.72" cy="967" r="3.75"/><circle cx="600.26" cy="938" r="3.75"/><circle cx="599.92" cy="951" r="3.75"/><circle cx="600.29" cy="953" r="3.75"/><circle cx="599.99" cy="956" r="3.75"/><circle cx="599.74" cy="960.36" r="3.75"/><circle cx="600.17" cy="961.61" r="3.75"/><circle cx="600.08" cy="961.76" r="3.75"/><circle cx="600.24" cy="965.7" r="3.75"/><circle cx="600.1" cy="961.02" r="3.75"/><circle cx="600.01" cy="963.53" r="3.75"/><circle cx="600.26" cy="973" r="3.75"/><circle cx="599.95" cy="974" r="3.75"/><circle cx="600.19" cy="978" r="3.75"/><circle cx="599.85" cy="985" r="3.75"/><circle cx="599.87" cy="986" r="3.75"/><circle cx="633.05" cy="962" r="3.75"/><circle cx="637.04" cy="970" r="3.75"/><circle cx="639.85" cy="953" r="3.75"/><circle cx="639.74" cy="957" r="3.75"/><circle cx="644.74" cy="945.6" r="3.75"/><circle cx="647.91" cy="964" r="3.75"/><circle cx="657.51" cy="967" r="3.75"/><circle cx="664.96" cy="957" r="3.75"/><circle cx="670.98" cy="963" r="3.75"/><circle cx="672.9" cy="971.6" r="3.75"/><circle cx="506" cy="967.68" r="3.75"/><circle cx="506.27" cy="970.79" r="3.75"/><circle cx="505.88" cy="980.47" r="3.75"/><circle cx="505.89" cy="960.8" r="3.75"/><circle cx="506.13" cy="966.8" r="3.75"/><circle cx="506.27" cy="979.93" r="3.75"/><circle cx="505.94" cy="966.96" r="3.75"/><circle cx="505.75" cy="967.17" r="3.75"/><circle cx="506.29" cy="956.72" r="3.75"/><circle cx="505.97" cy="967.57" r="3.75"/><circle cx="506.11" cy="965.41" r="3.75"/><circle cx="506.03" cy="954.42" r="3.75"/><circle cx="505.83" cy="957.93" r="3.75"/><circle cx="505.72" cy="955.15" r="3.75"/><circle cx="506.15" cy="965.2" r="3.75"/><circle cx="505.95" cy="962.09" r="3.75"/><circle cx="505.89" cy="975.54" r="3.75"/><circle cx="505.79" cy="962.23" r="3.75"/><circle cx="505.96" cy="968.78" r="3.75"/><circle cx="506.13" cy="966.77" r="3.75"/><circle cx="506.02" cy="977.46" r="3.75"/><circle cx="506.05" cy="965.49" r="3.75"/><circle cx="506.05" cy="963.9" r="3.75"/><circle cx="505.74" cy="964.78" r="3.75"/><circle cx="505.88" cy="973.81" r="3.75"/><circle cx="506.1" cy="978.42" r="3.75"/><circle cx="505.96" cy="963.95" r="3.75"/><circle cx="506.05" cy="970.24" r="3.75"/><circle cx="505.79" cy="974.08" r="3.75"/><circle cx="505.7" cy="961.7" r="3.75"/><circle cx="506.01" cy="985" r="3.75"/><circle cx="505.76" cy="990" r="3.75"/><circle cx="505.9" cy="1008" r="3.75"/><circle cx="442.6" cy="919" r="3.75"/><circle cx="436" cy="1032" r="3.75"/><circle cx="443" cy="1040" r="3.75"/><circle cx="458" cy="1051" r="3.75"/><circle cx="454" cy="1016" r="3.75"/><circle cx="435" cy="1013" r="3.75"/><circle cx="434" cy="1006" r="3.75"/><circle cx="460" cy="1006" r="3.75"/><circle cx="480" cy="1001" r="3.75"/><circle cx="450" cy="1012" r="3.75"/><circle cx="520" cy="990" r="3.75"/><circle cx="515" cy="944" r="3.75"/><circle cx="431.74" cy="993.49" r="3.75"/><circle cx="435.9" cy="977.75" r="3.75"/><circle cx="434.71" cy="950.63" r="3.75"/><circle cx="431.18" cy="946.33" r="3.75"/><circle cx="439.32" cy="967.85" r="3.75"/><circle cx="436.46" cy="948.19" r="3.75"/><circle cx="438.54" cy="945.73" r="3.75"/><circle cx="434.14" cy="951.24" r="3.75"/><circle cx="432.65" cy="950.76" r="3.75"/><circle cx="439.62" cy="952.7" r="3.75"/><circle cx="438.67" cy="947.27" r="3.75"/><circle cx="437.48" cy="951.79" r="3.75"/><circle cx="436.39" cy="966.81" r="3.75"/><circle cx="434.02" cy="961.09" r="3.75"/><circle cx="436.22" cy="971.07" r="3.75"/><circle cx="431.43" cy="981" r="3.75"/><circle cx="431.05" cy="974.06" r="3.75"/><circle cx="432.08" cy="968.69" r="3.75"/><circle cx="436.97" cy="961.76" r="3.75"/><circle cx="435.9" cy="966.04" r="3.75"/><circle cx="436.73" cy="990.56" r="3.75"/><circle cx="432.67" cy="982.09" r="3.75"/><circle cx="431.96" cy="975.95" r="3.75"/><circle cx="432.12" cy="954.35" r="3.75"/><circle cx="437.16" cy="973.39" r="3.75"/><circle cx="431.91" cy="986.97" r="3.75"/><circle cx="437.23" cy="960.23" r="3.75"/><circle cx="431.75" cy="958.85" r="3.75"/><circle cx="437.05" cy="960.1" r="3.75"/><circle cx="439.51" cy="997.31" r="3.75"/><circle cx="431.65" cy="972.9" r="3.75"/><circle cx="431.11" cy="970.67" r="3.75"/><circle cx="431.11" cy="981.28" r="3.75"/><circle cx="437.77" cy="966.53" r="3.75"/><circle cx="436.7" cy="965.52" r="3.75"/><circle cx="433.89" cy="956.19" r="3.75"/><circle cx="432.84" cy="987.56" r="3.75"/><circle cx="432.33" cy="972.69" r="3.75"/><circle cx="436.65" cy="971.65" r="3.75"/><circle cx="433.55" cy="978.62" r="3.75"/><circle cx="431.98" cy="943.64" r="3.75"/><circle cx="431.82" cy="979.12" r="3.75"/><circle cx="437.03" cy="979.91" r="3.75"/><circle cx="433.54" cy="971.58" r="3.75"/><circle cx="434.18" cy="969.45" r="3.75"/><circle cx="434.94" cy="965.63" r="3.75"/><circle cx="434.46" cy="967.58" r="3.75"/><circle cx="433.02" cy="977.63" r="3.75"/><circle cx="436.1" cy="988.45" r="3.75"/><circle cx="434.36" cy="942.88" r="3.75"/><circle cx="431.49" cy="963.12" r="3.75"/><circle cx="434.25" cy="992.03" r="3.75"/><circle cx="434.69" cy="978.43" r="3.75"/><circle cx="436.89" cy="997.62" r="3.75"/><circle cx="435.04" cy="963.87" r="3.75"/><circle cx="435.12" cy="969.64" r="3.75"/><circle cx="438.93" cy="950.82" r="3.75"/><circle cx="434.06" cy="955.74" r="3.75"/><circle cx="435.06" cy="961.01" r="3.75"/><circle cx="433.42" cy="953.67" r="3.75"/><circle cx="432.37" cy="963.02" r="3.75"/><circle cx="436.49" cy="982.18" r="3.75"/><circle cx="432.47" cy="974.34" r="3.75"/><circle cx="436.5" cy="960.12" r="3.75"/><circle cx="436.91" cy="965.97" r="3.75"/><circle cx="437.23" cy="941.98" r="3.75"/><circle cx="432.21" cy="964.63" r="3.75"/><circle cx="439.59" cy="973.53" r="3.75"/><circle cx="433.71" cy="942.7" r="3.75"/><circle cx="436.86" cy="954.47" r="3.75"/><circle cx="439.35" cy="940.94" r="3.75"/><circle cx="436.43" cy="975.82" r="3.75"/><circle cx="434.02" cy="950.23" r="3.75"/><circle cx="432.01" cy="982.86" r="3.75"/><circle cx="436.89" cy="953.52" r="3.75"/><circle cx="431.82" cy="967.4" r="3.75"/><circle cx="436.85" cy="977.88" r="3.75"/><circle cx="439.91" cy="971.65" r="3.75"/><circle cx="431.4" cy="984.86" r="3.75"/><circle cx="434.08" cy="961.47" r="3.75"/><circle cx="432.34" cy="976.79" r="3.75"/><circle cx="437.03" cy="963.14" r="3.75"/><circle cx="435.34" cy="973.76" r="3.75"/><circle cx="432.63" cy="975.59" r="3.75"/><circle cx="431.59" cy="980.11" r="3.75"/><circle cx="439.55" cy="968.24" r="3.75"/><circle cx="433.34" cy="959.75" r="3.75"/><circle cx="436.8" cy="968.11" r="3.75"/><circle cx="433.65" cy="977.28" r="3.75"/><circle cx="434.92" cy="970.36" r="3.75"/><circle cx="431.66" cy="981.07" r="3.75"/><circle cx="436.5" cy="976.61" r="3.75"/><circle cx="433.14" cy="953.36" r="3.75"/><circle cx="437.58" cy="952.97" r="3.75"/><circle cx="439.88" cy="982.09" r="3.75"/><circle cx="435.95" cy="965.75" r="3.75"/><circle cx="439.4" cy="976.52" r="3.75"/><circle cx="438.84" cy="944.81" r="3.75"/><circle cx="435.5" cy="958.5" r="3.75"/><circle cx="437.64" cy="981.25" r="3.75"/><circle cx="434.86" cy="994.18" r="3.75"/><circle cx="432.14" cy="986.28" r="3.75"/><circle cx="439.48" cy="973.89" r="3.75"/><circle cx="439.84" cy="952.76" r="3.75"/><circle cx="432.39" cy="966.88" r="3.75"/><circle cx="432.51" cy="975.26" r="3.75"/><circle cx="434.91" cy="990.57" r="3.75"/><circle cx="435" cy="978.56" r="3.75"/><circle cx="434.65" cy="957.87" r="3.75"/><circle cx="438.46" cy="975.29" r="3.75"/><circle cx="432.54" cy="967.16" r="3.75"/><circle cx="437.56" cy="961.5" r="3.75"/><circle cx="434.24" cy="983.57" r="3.75"/><circle cx="431.7" cy="991.02" r="3.75"/><circle cx="438.05" cy="963" r="3.75"/><circle cx="431.7" cy="977.28" r="3.75"/><circle cx="438.89" cy="995.36" r="3.75"/><circle cx="433.05" cy="981.13" r="3.75"/><circle cx="436.4" cy="947.04" r="3.75"/><circle cx="434.61" cy="964.34" r="3.75"/><circle cx="435.08" cy="952.41" r="3.75"/><circle cx="437.27" cy="981.03" r="3.75"/><circle cx="433.87" cy="998.96" r="3.75"/><circle cx="436.12" cy="939.61" r="3.75"/><circle cx="436.99" cy="983.7" r="3.75"/><circle cx="438.09" cy="949.43" r="3.75"/><circle cx="431.26" cy="937.41" r="3.75"/><circle cx="436.56" cy="971.24" r="3.75"/><circle cx="437.59" cy="974" r="3.75"/><circle cx="432.17" cy="973.63" r="3.75"/><circle cx="433.21" cy="956.58" r="3.75"/><circle cx="432.15" cy="949.29" r="3.75"/><circle cx="439.36" cy="968.67" r="3.75"/><circle cx="435.89" cy="937.54" r="3.75"/><circle cx="436.12" cy="976.92" r="3.75"/><circle cx="436.92" cy="981.79" r="3.75"/><circle cx="439.82" cy="969.03" r="3.75"/><circle cx="438.31" cy="959.46" r="3.75"/><circle cx="439.27" cy="983.91" r="3.75"/><circle cx="439.01" cy="1000.25" r="3.75"/><circle cx="438" cy="999.11" r="3.75"/><circle cx="439.18" cy="972.68" r="3.75"/><circle cx="431.95" cy="992.61" r="3.75"/><circle cx="432.75" cy="953.82" r="3.75"/><circle cx="432.93" cy="951.23" r="3.75"/><circle cx="437.34" cy="980.97" r="3.75"/><circle cx="435.46" cy="957.44" r="3.75"/><circle cx="431.73" cy="974.38" r="3.75"/><circle cx="434.86" cy="972.84" r="3.75"/><circle cx="434.11" cy="975.44" r="3.75"/><circle cx="435.6" cy="986.46" r="3.75"/><circle cx="437.64" cy="964.99" r="3.75"/><circle cx="431.66" cy="961.57" r="3.75"/><circle cx="433.19" cy="954.79" r="3.75"/><circle cx="438" cy="963.62" r="3.75"/><circle cx="437.93" cy="977.22" r="3.75"/><circle cx="439.17" cy="991.03" r="3.75"/><circle cx="436.05" cy="980.06" r="3.75"/><circle cx="438.5" cy="966.6" r="3.75"/><circle cx="439.23" cy="993.34" r="3.75"/><circle cx="432.95" cy="970.66" r="3.75"/><circle cx="438.28" cy="954.22" r="3.75"/><circle cx="433.54" cy="971.88" r="3.75"/><circle cx="436.69" cy="958.98" r="3.75"/><circle cx="436.2" cy="969.5" r="3.75"/><circle cx="435.23" cy="970.46" r="3.75"/><circle cx="439.3" cy="950.31" r="3.75"/><circle cx="437.57" cy="941.23" r="3.75"/><circle cx="434.35" cy="986.52" r="3.75"/><circle cx="435.53" cy="955.03" r="3.75"/><circle cx="436.69" cy="976.39" r="3.75"/><circle cx="435.1" cy="986.33" r="3.75"/><circle cx="439.14" cy="962.92" r="3.75"/><circle cx="433.24" cy="982.6" r="3.75"/><circle cx="439.1" cy="938.92" r="3.75"/><circle cx="431.55" cy="986.29" r="3.75"/><circle cx="438.57" cy="947.01" r="3.75"/><circle cx="433.89" cy="932.6" r="3.75"/><circle cx="433.98" cy="957.51" r="3.75"/><circle cx="436.76" cy="964.24" r="3.75"/><circle cx="438.25" cy="961.35" r="3.75"/><circle cx="437.36" cy="964.05" r="3.75"/><circle cx="439.16" cy="980" r="3.75"/><circle cx="434.98" cy="949.14" r="3.75"/><circle cx="431.74" cy="961.38" r="3.75"/><circle cx="431.49" cy="958.14" r="3.75"/><circle cx="431.55" cy="961.27" r="3.75"/><circle cx="435.54" cy="970.79" r="3.75"/><circle cx="435.29" cy="978.77" r="3.75"/><circle cx="437.52" cy="966.21" r="3.75"/><circle cx="435.17" cy="974.07" r="3.75"/><circle cx="433.28" cy="970.94" r="3.75"/><circle cx="432.15" cy="961.9" r="3.75"/><circle cx="436.52" cy="956.09" r="3.75"/><circle cx="432.08" cy="970.6" r="3.75"/><circle cx="431.16" cy="990.28" r="3.75"/><circle cx="434.45" cy="958.24" r="3.75"/><circle cx="433.98" cy="998.52" r="3.75"/><circle cx="439.03" cy="980.33" r="3.75"/><circle cx="432.37" cy="968.58" r="3.75"/><circle cx="432.79" cy="961.03" r="3.75"/><circle cx="432.49" cy="968.1" r="3.75"/><circle cx="434.49" cy="975.68" r="3.75"/><circle cx="431.6" cy="972.37" r="3.75"/><circle cx="434.67" cy="958.49" r="3.75"/><circle cx="436.07" cy="959.71" r="3.75"/><circle cx="435.73" cy="968.91" r="3.75"/><circle cx="433.24" cy="962.6" r="3.75"/><circle cx="437.74" cy="982.41" r="3.75"/><circle cx="438.55" cy="991.71" r="3.75"/><circle cx="447.72" cy="951.09" r="3.75"/><circle cx="444.77" cy="970.5" r="3.75"/><circle cx="441.24" cy="957.89" r="3.75"/><circle cx="446.64" cy="972.53" r="3.75"/><circle cx="444.3" cy="969.6" r="3.75"/><circle cx="445.91" cy="971.81" r="3.75"/><circle cx="442.71" cy="986.06" r="3.75"/><circle cx="450.19" cy="968.39" r="3.75"/><circle cx="447.34" cy="992.85" r="3.75"/><circle cx="440.88" cy="975.39" r="3.75"/><circle cx="444.2" cy="975.64" r="3.75"/><circle cx="445.25" cy="960.57" r="3.75"/><circle cx="445.79" cy="961.69" r="3.75"/><circle cx="449.42" cy="954.13" r="3.75"/><circle cx="440.05" cy="958.32" r="3.75"/><circle cx="447.4" cy="957.24" r="3.75"/><circle cx="441.76" cy="962.87" r="3.75"/><circle cx="441.28" cy="946.13" r="3.75"/><circle cx="448.53" cy="978.38" r="3.75"/><circle cx="440.8" cy="947.3" r="3.75"/><circle cx="442.65" cy="962.18" r="3.75"/><circle cx="449.33" cy="992.45" r="3.75"/><circle cx="440.29" cy="930.53" r="3.75"/><circle cx="444.52" cy="955.62" r="3.75"/><circle cx="448.4" cy="986.38" r="3.75"/><circle cx="448.04" cy="954.65" r="3.75"/><circle cx="440.02" cy="961.25" r="3.75"/><circle cx="440.01" cy="974.15" r="3.75"/><circle cx="447.97" cy="946.05" r="3.75"/><circle cx="442.22" cy="954.98" r="3.75"/><circle cx="443.38" cy="959.63" r="3.75"/><circle cx="449.32" cy="952.03" r="3.75"/><circle cx="444.55" cy="967.58" r="3.75"/><circle cx="444.08" cy="963.7" r="3.75"/><circle cx="445.43" cy="971.8" r="3.75"/><circle cx="447.73" cy="1000.13" r="3.75"/><circle cx="450.94" cy="976.19" r="3.75"/><circle cx="449.41" cy="962.49" r="3.75"/><circle cx="447.93" cy="973.59" r="3.75"/><circle cx="441.05" cy="971.18" r="3.75"/><circle cx="447.4" cy="976.66" r="3.75"/><circle cx="442.09" cy="976.63" r="3.75"/><circle cx="440.88" cy="967.17" r="3.75"/><circle cx="450.17" cy="976.19" r="3.75"/><circle cx="450.3" cy="974.47" r="3.75"/><circle cx="450.24" cy="974.73" r="3.75"/><circle cx="443.7" cy="964.63" r="3.75"/><circle cx="444.4" cy="993.5" r="3.75"/><circle cx="448.62" cy="970.15" r="3.75"/><circle cx="446.15" cy="963.16" r="3.75"/><circle cx="443.71" cy="964.49" r="3.75"/><circle cx="444.83" cy="951.8" r="3.75"/><circle cx="449.36" cy="984.76" r="3.75"/><circle cx="449.9" cy="947.82" r="3.75"/><circle cx="442.28" cy="952.54" r="3.75"/><circle cx="445.99" cy="994.74" r="3.75"/><circle cx="440.63" cy="982.09" r="3.75"/><circle cx="444.8" cy="965.51" r="3.75"/><circle cx="447.58" cy="985.91" r="3.75"/><circle cx="445.31" cy="967.06" r="3.75"/><circle cx="442.52" cy="972.59" r="3.75"/><circle cx="440.51" cy="971.5" r="3.75"/><circle cx="440.74" cy="949.83" r="3.75"/><circle cx="445.71" cy="974.34" r="3.75"/><circle cx="446.79" cy="988.18" r="3.75"/><circle cx="449.3" cy="991.37" r="3.75"/><circle cx="449.71" cy="956.25" r="3.75"/><circle cx="447.53" cy="959.16" r="3.75"/><circle cx="449.37" cy="972.36" r="3.75"/><circle cx="441.18" cy="969.77" r="3.75"/><circle cx="440.96" cy="967.93" r="3.75"/><circle cx="448.69" cy="967.8" r="3.75"/><circle cx="446.7" cy="955.94" r="3.75"/><circle cx="442.72" cy="960.38" r="3.75"/><circle cx="440.55" cy="968.53" r="3.75"/><circle cx="445.42" cy="966.03" r="3.75"/><circle cx="440.95" cy="985.91" r="3.75"/><circle cx="444.92" cy="987.08" r="3.75"/><circle cx="443.5" cy="967.91" r="3.75"/><circle cx="443.1" cy="961.6" r="3.75"/><circle cx="445.84" cy="957.96" r="3.75"/><circle cx="446.73" cy="980.24" r="3.75"/><circle cx="441.7" cy="964.06" r="3.75"/><circle cx="445.17" cy="957.55" r="3.75"/><circle cx="448.81" cy="956.19" r="3.75"/><circle cx="444.68" cy="1002.64" r="3.75"/><circle cx="447.16" cy="989.38" r="3.75"/><circle cx="440.35" cy="948.06" r="3.75"/><circle cx="442.19" cy="979.9" r="3.75"/><circle cx="444.31" cy="966.46" r="3.75"/><circle cx="447.55" cy="952.27" r="3.75"/><circle cx="448.21" cy="952.64" r="3.75"/><circle cx="446.34" cy="961.3" r="3.75"/><circle cx="445.59" cy="990.01" r="3.75"/><circle cx="443.26" cy="958.4" r="3.75"/><circle cx="444.36" cy="978.22" r="3.75"/><circle cx="448.06" cy="968.84" r="3.75"/><circle cx="450.72" cy="960.4" r="3.75"/><circle cx="440.6" cy="963.97" r="3.75"/><circle cx="445.46" cy="935.09" r="3.75"/><circle cx="445.59" cy="956.21" r="3.75"/><circle cx="449.85" cy="975.94" r="3.75"/><circle cx="450.94" cy="936.23" r="3.75"/><circle cx="441.84" cy="990.46" r="3.75"/><circle cx="448.63" cy="996.06" r="3.75"/><circle cx="443.14" cy="979.99" r="3.75"/><circle cx="440.56" cy="947.97" r="3.75"/><circle cx="446.56" cy="951.11" r="3.75"/><circle cx="444.69" cy="983.69" r="3.75"/><circle cx="443.18" cy="965.96" r="3.75"/><circle cx="442.88" cy="944.91" r="3.75"/><circle cx="443.71" cy="976.53" r="3.75"/><circle cx="446.23" cy="947" r="3.75"/><circle cx="450.24" cy="970.64" r="3.75"/><circle cx="444.88" cy="976.7" r="3.75"/><circle cx="441.8" cy="964.77" r="3.75"/><circle cx="445.87" cy="984.01" r="3.75"/><circle cx="446.15" cy="971.58" r="3.75"/><circle cx="441.91" cy="970.82" r="3.75"/><circle cx="449.02" cy="980.38" r="3.75"/><circle cx="449.54" cy="982.9" r="3.75"/><circle cx="450.88" cy="971.05" r="3.75"/><circle cx="447.3" cy="951.12" r="3.75"/><circle cx="441.43" cy="964" r="3.75"/><circle cx="443.47" cy="962.81" r="3.75"/><circle cx="445.68" cy="970.79" r="3.75"/><circle cx="440.23" cy="947.76" r="3.75"/><circle cx="444.19" cy="952.13" r="3.75"/><circle cx="448.01" cy="978.34" r="3.75"/><circle cx="441.3" cy="959.34" r="3.75"/><circle cx="443.03" cy="947.75" r="3.75"/><circle cx="442.19" cy="950.44" r="3.75"/><circle cx="450.68" cy="996.41" r="3.75"/><circle cx="446.39" cy="971.3" r="3.75"/><circle cx="450.95" cy="969.6" r="3.75"/><circle cx="450.14" cy="938.77" r="3.75"/><circle cx="448.86" cy="970.99" r="3.75"/><circle cx="445.63" cy="983.27" r="3.75"/><circle cx="441.62" cy="978.7" r="3.75"/><circle cx="441.55" cy="963" r="3.75"/><circle cx="442.88" cy="974.38" r="3.75"/><circle cx="450.64" cy="973.6" r="3.75"/><circle cx="443.24" cy="974.3" r="3.75"/><circle cx="447.98" cy="972.53" r="3.75"/><circle cx="441.18" cy="977.07" r="3.75"/><circle cx="442.75" cy="956.47" r="3.75"/><circle cx="440.96" cy="955.91" r="3.75"/><circle cx="442.95" cy="952.32" r="3.75"/><circle cx="441.91" cy="976.23" r="3.75"/><circle cx="445.18" cy="971.41" r="3.75"/><circle cx="440.2" cy="988.17" r="3.75"/><circle cx="444.63" cy="978.86" r="3.75"/><circle cx="450.67" cy="966.87" r="3.75"/><circle cx="441.77" cy="987.79" r="3.75"/><circle cx="446.46" cy="969.1" r="3.75"/><circle cx="451" cy="978.95" r="3.75"/><circle cx="440.1" cy="965.96" r="3.75"/><circle cx="448.16" cy="956.03" r="3.75"/><circle cx="446.62" cy="973.89" r="3.75"/><circle cx="450.36" cy="976.72" r="3.75"/><circle cx="467.54" cy="976.15" r="3.75"/><circle cx="458.11" cy="977.84" r="3.75"/><circle cx="455.67" cy="968.28" r="3.75"/><circle cx="462.7" cy="960.52" r="3.75"/><circle cx="452.12" cy="967.34" r="3.75"/><circle cx="453" cy="968.04" r="3.75"/><circle cx="467.87" cy="966.79" r="3.75"/><circle cx="465.57" cy="940.04" r="3.75"/><circle cx="451.91" cy="971.68" r="3.75"/><circle cx="453.64" cy="957.94" r="3.75"/><circle cx="464.28" cy="974.66" r="3.75"/><circle cx="463.27" cy="971.55" r="3.75"/><circle cx="461.83" cy="969.58" r="3.75"/><circle cx="462.25" cy="945.68" r="3.75"/><circle cx="451.06" cy="955.72" r="3.75"/><circle cx="461.13" cy="964.6" r="3.75"/><circle cx="461.67" cy="948.75" r="3.75"/><circle cx="453.84" cy="978.93" r="3.75"/><circle cx="454.12" cy="947" r="3.75"/><circle cx="453.8" cy="946.87" r="3.75"/><circle cx="462.22" cy="966.92" r="3.75"/><circle cx="465.76" cy="955.98" r="3.75"/><circle cx="461.58" cy="959.95" r="3.75"/><circle cx="459.43" cy="964.82" r="3.75"/><circle cx="458.88" cy="979.86" r="3.75"/><circle cx="463.09" cy="963.51" r="3.75"/><circle cx="464.55" cy="971.9" r="3.75"/><circle cx="454.56" cy="961.75" r="3.75"/><circle cx="464.56" cy="965.28" r="3.75"/><circle cx="451.84" cy="972.99" r="3.75"/><circle cx="459.59" cy="958.75" r="3.75"/><circle cx="467.02" cy="965.14" r="3.75"/><circle cx="453.22" cy="963.83" r="3.75"/><circle cx="457.08" cy="972.42" r="3.75"/><circle cx="466.33" cy="970.78" r="3.75"/><circle cx="456.15" cy="962.96" r="3.75"/><circle cx="451.44" cy="956.02" r="3.75"/><circle cx="463.48" cy="954.76" r="3.75"/><circle cx="458.91" cy="971" r="3.75"/><circle cx="467.06" cy="973.5" r="3.75"/><circle cx="456.61" cy="965.93" r="3.75"/><circle cx="464.87" cy="948.94" r="3.75"/><circle cx="460.05" cy="952.31" r="3.75"/><circle cx="456.25" cy="981.27" r="3.75"/><circle cx="466.26" cy="958.92" r="3.75"/><circle cx="453.24" cy="960.25" r="3.75"/><circle cx="459.12" cy="963.29" r="3.75"/><circle cx="452.19" cy="973.25" r="3.75"/><circle cx="452.59" cy="992.26" r="3.75"/><circle cx="463.14" cy="951.86" r="3.75"/><circle cx="456.33" cy="986.06" r="3.75"/><circle cx="458.19" cy="970.83" r="3.75"/><circle cx="465.85" cy="952.9" r="3.75"/><circle cx="453.77" cy="968.32" r="3.75"/><circle cx="462.95" cy="964.99" r="3.75"/><circle cx="458.49" cy="966.43" r="3.75"/><circle cx="467.82" cy="969.15" r="3.75"/><circle cx="461.06" cy="978.88" r="3.75"/><circle cx="462.94" cy="984.8" r="3.75"/><circle cx="455.37" cy="986.76" r="3.75"/><circle cx="465.22" cy="949.66" r="3.75"/><circle cx="453.15" cy="963.77" r="3.75"/><circle cx="457.77" cy="964.23" r="3.75"/><circle cx="451.83" cy="972.62" r="3.75"/><circle cx="456.71" cy="965.78" r="3.75"/><circle cx="461.39" cy="963.9" r="3.75"/><circle cx="462.94" cy="983.09" r="3.75"/><circle cx="462.54" cy="977.11" r="3.75"/><circle cx="462.6" cy="977.97" r="3.75"/><circle cx="453.82" cy="956.81" r="3.75"/><circle cx="460.74" cy="957.78" r="3.75"/><circle cx="463.95" cy="971.73" r="3.75"/><circle cx="451.09" cy="965.88" r="3.75"/><circle cx="456.95" cy="964.39" r="3.75"/><circle cx="451.96" cy="958.87" r="3.75"/><circle cx="462.27" cy="969.69" r="3.75"/><circle cx="458.21" cy="964.53" r="3.75"/><circle cx="452.89" cy="959.14" r="3.75"/><circle cx="454.7" cy="954.26" r="3.75"/><circle cx="467.02" cy="959.5" r="3.75"/><circle cx="453.21" cy="981.07" r="3.75"/><circle cx="465.61" cy="950.96" r="3.75"/><circle cx="451.83" cy="964.06" r="3.75"/><circle cx="466.93" cy="962.94" r="3.75"/><circle cx="453.51" cy="957.08" r="3.75"/><circle cx="452.59" cy="970.86" r="3.75"/><circle cx="459.1" cy="960.72" r="3.75"/><circle cx="452.67" cy="963.04" r="3.75"/><circle cx="451.75" cy="955.06" r="3.75"/><circle cx="453.78" cy="986.47" r="3.75"/><circle cx="459.25" cy="954.84" r="3.75"/><circle cx="466.52" cy="964.59" r="3.75"/><circle cx="457.03" cy="949.54" r="3.75"/><circle cx="452.41" cy="993.64" r="3.75"/><circle cx="463.66" cy="955.45" r="3.75"/><circle cx="459.81" cy="954.93" r="3.75"/><circle cx="458.06" cy="966.86" r="3.75"/><circle cx="457.46" cy="980.79" r="3.75"/><circle cx="461.96" cy="965.9" r="3.75"/><circle cx="460.35" cy="950.85" r="3.75"/><circle cx="452.26" cy="955.18" r="3.75"/><circle cx="456.08" cy="970.25" r="3.75"/><circle cx="457.31" cy="954.2" r="3.75"/><circle cx="462.87" cy="974.95" r="3.75"/><circle cx="463.17" cy="964.27" r="3.75"/><circle cx="465.73" cy="963.35" r="3.75"/><circle cx="463.82" cy="971.12" r="3.75"/><circle cx="465.39" cy="989.81" r="3.75"/><circle cx="454.02" cy="969.55" r="3.75"/><circle cx="465.21" cy="967.98" r="3.75"/><circle cx="451.88" cy="968.86" r="3.75"/><circle cx="458.88" cy="954.75" r="3.75"/><circle cx="456" cy="951.25" r="3.75"/><circle cx="461.04" cy="937.39" r="3.75"/><circle cx="458.47" cy="952.42" r="3.75"/><circle cx="460.02" cy="966.55" r="3.75"/><circle cx="456.39" cy="963.86" r="3.75"/><circle cx="456.42" cy="953.62" r="3.75"/><circle cx="459.39" cy="963.18" r="3.75"/><circle cx="458.74" cy="949.75" r="3.75"/><circle cx="467.99" cy="976.62" r="3.75"/><circle cx="456.78" cy="972.76" r="3.75"/><circle cx="467.38" cy="976.93" r="3.75"/><circle cx="467.64" cy="960.34" r="3.75"/><circle cx="465.31" cy="952.09" r="3.75"/><circle cx="464.76" cy="972.77" r="3.75"/><circle cx="455.04" cy="962.03" r="3.75"/><circle cx="463.88" cy="961.62" r="3.75"/><circle cx="463.13" cy="957.74" r="3.75"/><circle cx="461.63" cy="978.48" r="3.75"/><circle cx="478.34" cy="959.49" r="3.75"/><circle cx="486.27" cy="966.36" r="3.75"/><circle cx="483.89" cy="959.8" r="3.75"/><circle cx="469.88" cy="963.95" r="3.75"/><circle cx="484.24" cy="979.48" r="3.75"/><circle cx="468.52" cy="961.71" r="3.75"/><circle cx="474.58" cy="958.86" r="3.75"/><circle cx="469.12" cy="964.57" r="3.75"/><circle cx="480.65" cy="970.84" r="3.75"/><circle cx="475.82" cy="962.48" r="3.75"/><circle cx="485.73" cy="971.58" r="3.75"/><circle cx="468.82" cy="971.26" r="3.75"/><circle cx="486.25" cy="963.95" r="3.75"/><circle cx="475.75" cy="970.08" r="3.75"/><circle cx="475.71" cy="971.15" r="3.75"/><circle cx="474.69" cy="962.24" r="3.75"/><circle cx="471.69" cy="963.02" r="3.75"/><circle cx="478.01" cy="961.33" r="3.75"/><circle cx="477.07" cy="980.02" r="3.75"/><circle cx="476.13" cy="954.98" r="3.75"/><circle cx="468.64" cy="961.84" r="3.75"/><circle cx="484.04" cy="959" r="3.75"/><circle cx="474.61" cy="972.03" r="3.75"/><circle cx="486.92" cy="976.3" r="3.75"/><circle cx="484.32" cy="978.16" r="3.75"/><circle cx="469.8" cy="957.7" r="3.75"/><circle cx="474.91" cy="968.95" r="3.75"/><circle cx="480.83" cy="960.78" r="3.75"/><circle cx="485.7" cy="955.66" r="3.75"/><circle cx="469.83" cy="965.04" r="3.75"/><circle cx="482.96" cy="964.71" r="3.75"/><circle cx="474.22" cy="970.92" r="3.75"/><circle cx="474.41" cy="985.73" r="3.75"/><circle cx="486.33" cy="976.31" r="3.75"/><circle cx="475.03" cy="971.98" r="3.75"/><circle cx="475.16" cy="958.53" r="3.75"/><circle cx="470.41" cy="967.35" r="3.75"/><circle cx="472.67" cy="964.71" r="3.75"/><circle cx="479.77" cy="948.07" r="3.75"/><circle cx="481.55" cy="965.4" r="3.75"/><circle cx="475.38" cy="979.51" r="3.75"/><circle cx="477.29" cy="962.09" r="3.75"/><circle cx="481.2" cy="962.85" r="3.75"/><circle cx="482.36" cy="971.19" r="3.75"/><circle cx="473.24" cy="968.35" r="3.75"/><circle cx="473.5" cy="963.43" r="3.75"/><circle cx="482.54" cy="970.75" r="3.75"/><circle cx="482.58" cy="971.77" r="3.75"/><circle cx="477.98" cy="972.02" r="3.75"/><circle cx="477.51" cy="947.28" r="3.75"/><circle cx="470.44" cy="963.12" r="3.75"/><circle cx="482.28" cy="957.95" r="3.75"/><circle cx="469.84" cy="958.17" r="3.75"/><circle cx="468.12" cy="963.71" r="3.75"/><circle cx="470.76" cy="962.43" r="3.75"/><circle cx="486.58" cy="966.24" r="3.75"/><circle cx="485.68" cy="968.23" r="3.75"/><circle cx="468.7" cy="969.03" r="3.75"/><circle cx="484.49" cy="972.54" r="3.75"/><circle cx="473.44" cy="977.33" r="3.75"/><circle cx="475.73" cy="982.11" r="3.75"/><circle cx="483.82" cy="964.03" r="3.75"/><circle cx="479.69" cy="958.95" r="3.75"/><circle cx="484.81" cy="958.97" r="3.75"/><circle cx="481.24" cy="962.48" r="3.75"/><circle cx="483.34" cy="963.38" r="3.75"/><circle cx="483.89" cy="958.83" r="3.75"/><circle cx="478.32" cy="961.29" r="3.75"/><circle cx="472.67" cy="963.31" r="3.75"/><circle cx="478.22" cy="953.01" r="3.75"/><circle cx="477.65" cy="983.51" r="3.75"/><circle cx="469.89" cy="980.75" r="3.75"/><circle cx="474.99" cy="958.42" r="3.75"/><circle cx="482.65" cy="976.7" r="3.75"/><circle cx="472.81" cy="959.02" r="3.75"/><circle cx="482.89" cy="977.26" r="3.75"/><circle cx="477.94" cy="976.42" r="3.75"/><circle cx="476.44" cy="960.84" r="3.75"/><circle cx="477.47" cy="966.78" r="3.75"/><circle cx="479.1" cy="969.2" r="3.75"/><circle cx="482.98" cy="956.25" r="3.75"/><circle cx="475.69" cy="965.42" r="3.75"/><circle cx="471.01" cy="978.69" r="3.75"/><circle cx="469.03" cy="979.85" r="3.75"/><circle cx="472.69" cy="957.66" r="3.75"/><circle cx="483.8" cy="981.15" r="3.75"/><circle cx="484.39" cy="959.74" r="3.75"/><circle cx="478.67" cy="948.3" r="3.75"/><circle cx="484.04" cy="955.17" r="3.75"/><circle cx="485.96" cy="970.33" r="3.75"/><circle cx="475.14" cy="962.13" r="3.75"/><circle cx="480.59" cy="968.69" r="3.75"/><circle cx="484.97" cy="953.3" r="3.75"/><circle cx="482.63" cy="977.34" r="3.75"/><circle cx="482.86" cy="964.38" r="3.75"/><circle cx="481.62" cy="968.41" r="3.75"/><circle cx="479.64" cy="966.17" r="3.75"/><circle cx="483.64" cy="963.12" r="3.75"/><circle cx="468.34" cy="956.3" r="3.75"/><circle cx="475.98" cy="970.81" r="3.75"/><circle cx="478.18" cy="962.61" r="3.75"/><circle cx="486.98" cy="948.25" r="3.75"/><circle cx="473.45" cy="956.57" r="3.75"/><circle cx="480.12" cy="972.08" r="3.75"/><circle cx="485.14" cy="970.85" r="3.75"/><circle cx="471.31" cy="952.62" r="3.75"/><circle cx="470.14" cy="981.88" r="3.75"/><circle cx="475.33" cy="957.12" r="3.75"/><circle cx="480.28" cy="962.91" r="3.75"/><circle cx="476.34" cy="982.85" r="3.75"/><circle cx="501.4" cy="985.82" r="3.75"/><circle cx="494.53" cy="963.22" r="3.75"/><circle cx="499.99" cy="980.28" r="3.75"/><circle cx="493.38" cy="968.52" r="3.75"/><circle cx="490.15" cy="972.35" r="3.75"/><circle cx="499.38" cy="962.61" r="3.75"/><circle cx="502.13" cy="965.76" r="3.75"/><circle cx="495.86" cy="965.52" r="3.75"/><circle cx="489.07" cy="964.71" r="3.75"/><circle cx="493.82" cy="973.46" r="3.75"/><circle cx="498.27" cy="970.57" r="3.75"/><circle cx="489.54" cy="980.74" r="3.75"/><circle cx="490.19" cy="993.19" r="3.75"/><circle cx="499.08" cy="968.81" r="3.75"/><circle cx="489.46" cy="958.53" r="3.75"/><circle cx="496.73" cy="961.42" r="3.75"/><circle cx="502.1" cy="976.76" r="3.75"/><circle cx="494.58" cy="976.29" r="3.75"/><circle cx="489.79" cy="966.55" r="3.75"/><circle cx="487.14" cy="961.65" r="3.75"/><circle cx="490.51" cy="946.87" r="3.75"/><circle cx="496.24" cy="965.87" r="3.75"/><circle cx="493.97" cy="980.05" r="3.75"/><circle cx="492.58" cy="952.48" r="3.75"/><circle cx="498.6" cy="982.44" r="3.75"/><circle cx="532.57" cy="953.3" r="3.75"/><circle cx="523.88" cy="959.24" r="3.75"/><circle cx="527.73" cy="949.54" r="3.75"/><circle cx="515.54" cy="968.63" r="3.75"/><circle cx="521.09" cy="976.3" r="3.75"/><circle cx="522.87" cy="984.12" r="3.75"/><circle cx="529.06" cy="963.19" r="3.75"/><circle cx="526.91" cy="946.57" r="3.75"/><circle cx="530.23" cy="974.13" r="3.75"/><circle cx="516.61" cy="962.51" r="3.75"/><circle cx="519.15" cy="989.19" r="3.75"/><circle cx="515.24" cy="933.96" r="3.75"/><circle cx="513.29" cy="961.96" r="3.75"/><circle cx="531.75" cy="953.14" r="3.75"/><circle cx="525.71" cy="956.56" r="3.75"/><circle cx="512.41" cy="950.76" r="3.75"/><circle cx="525.43" cy="973.63" r="3.75"/><circle cx="532.19" cy="991.89" r="3.75"/><circle cx="519.1" cy="951.92" r="3.75"/><circle cx="531.31" cy="964.46" r="3.75"/><circle cx="533.07" cy="970.88" r="3.75"/><circle cx="523.65" cy="985.56" r="3.75"/></g>
<polyline points="435,970 673,962.4" class="ln"/>
</g>
<g clip-path="url(#cpk)">
<polygon points="77.5,1211 82,1208.5 315,1206.5 315,1209.5 82,1210.5 77.5,1214" class="band"/>
<g class="pt"><circle cx="196.74" cy="1211" r="3.75"/><circle cx="220.16" cy="1224" r="3.75"/><circle cx="219.93" cy="1228" r="3.75"/><circle cx="220.13" cy="1236" r="3.75"/><circle cx="219.8" cy="1236.5" r="3.75"/><circle cx="233.13" cy="1202" r="3.75"/><circle cx="233.27" cy="1203" r="3.75"/><circle cx="243.86" cy="1204.4" r="3.75"/><circle cx="275.79" cy="1200.4" r="3.75"/><circle cx="280.01" cy="1221" r="3.75"/><circle cx="282.99" cy="1200.4" r="3.75"/><circle cx="285.1" cy="1193.6" r="3.75"/><circle cx="287.86" cy="1203" r="3.75"/><circle cx="291.09" cy="1208.4" r="3.75"/><circle cx="293.26" cy="1202" r="3.75"/><circle cx="300.3" cy="1209.6" r="3.75"/><circle cx="307.77" cy="1195.6" r="3.75"/><circle cx="314.27" cy="1209" r="3.75"/><circle cx="315.91" cy="1206.4" r="3.75"/><circle cx="148.94" cy="1206.51" r="3.75"/><circle cx="149.19" cy="1194.31" r="3.75"/><circle cx="148.87" cy="1208.91" r="3.75"/><circle cx="148.98" cy="1199.19" r="3.75"/><circle cx="149.15" cy="1197.6" r="3.75"/><circle cx="148.97" cy="1193.88" r="3.75"/><circle cx="149.1" cy="1199.58" r="3.75"/><circle cx="149.06" cy="1201.52" r="3.75"/><circle cx="148.98" cy="1200.5" r="3.75"/><circle cx="148.98" cy="1190.64" r="3.75"/><circle cx="149.02" cy="1201.44" r="3.75"/><circle cx="149.12" cy="1201.62" r="3.75"/><circle cx="148.89" cy="1177" r="3.75"/><circle cx="149.29" cy="1238" r="3.75"/><circle cx="149.19" cy="1246" r="3.75"/><circle cx="148.98" cy="1251" r="3.75"/><circle cx="78.68" cy="1203.51" r="3.75"/><circle cx="78.37" cy="1214.59" r="3.75"/><circle cx="78.77" cy="1221.01" r="3.75"/><circle cx="78.3" cy="1227.19" r="3.75"/><circle cx="78.98" cy="1211.79" r="3.75"/><circle cx="78.17" cy="1235.08" r="3.75"/><circle cx="78.77" cy="1210.19" r="3.75"/><circle cx="78.14" cy="1208.18" r="3.75"/><circle cx="78.87" cy="1211.58" r="3.75"/><circle cx="78.75" cy="1203.23" r="3.75"/><circle cx="78.71" cy="1228.82" r="3.75"/><circle cx="78.22" cy="1204.36" r="3.75"/><circle cx="78.36" cy="1219.25" r="3.75"/><circle cx="78.37" cy="1204.86" r="3.75"/><circle cx="78.42" cy="1182.27" r="3.75"/><circle cx="78.05" cy="1230.28" r="3.75"/><circle cx="78.39" cy="1189.16" r="3.75"/><circle cx="78.93" cy="1215.31" r="3.75"/><circle cx="78.58" cy="1234.14" r="3.75"/><circle cx="78.29" cy="1203.08" r="3.75"/><circle cx="78.74" cy="1201.4" r="3.75"/><circle cx="78.62" cy="1210.18" r="3.75"/><circle cx="78.17" cy="1211.54" r="3.75"/><circle cx="78.91" cy="1220.57" r="3.75"/><circle cx="78.63" cy="1193.06" r="3.75"/><circle cx="78.74" cy="1241.78" r="3.75"/><circle cx="78.84" cy="1223.97" r="3.75"/><circle cx="78.53" cy="1197.99" r="3.75"/><circle cx="78.96" cy="1224.63" r="3.75"/><circle cx="78.07" cy="1206.02" r="3.75"/><circle cx="78.17" cy="1202.78" r="3.75"/><circle cx="78.89" cy="1212.78" r="3.75"/><circle cx="78.7" cy="1230.32" r="3.75"/><circle cx="78.23" cy="1244.96" r="3.75"/><circle cx="78.35" cy="1220.36" r="3.75"/><circle cx="78.82" cy="1227.62" r="3.75"/><circle cx="78.18" cy="1214.74" r="3.75"/><circle cx="78.47" cy="1202.09" r="3.75"/><circle cx="78.88" cy="1215.2" r="3.75"/><circle cx="78.41" cy="1219.64" r="3.75"/><circle cx="78.43" cy="1232.02" r="3.75"/><circle cx="78.65" cy="1200.19" r="3.75"/><circle cx="78.81" cy="1225.75" r="3.75"/><circle cx="78.44" cy="1192.05" r="3.75"/><circle cx="78.64" cy="1198.4" r="3.75"/><circle cx="78.59" cy="1197.24" r="3.75"/><circle cx="78.21" cy="1231.04" r="3.75"/><circle cx="78.47" cy="1233.04" r="3.75"/><circle cx="78.5" cy="1224.72" r="3.75"/><circle cx="78.77" cy="1234.68" r="3.75"/><circle cx="78.29" cy="1209.48" r="3.75"/><circle cx="78.42" cy="1206.88" r="3.75"/><circle cx="78.14" cy="1219.39" r="3.75"/><circle cx="78.43" cy="1215.57" r="3.75"/><circle cx="78.07" cy="1219.9" r="3.75"/><circle cx="78.4" cy="1210.73" r="3.75"/><circle cx="78.55" cy="1210.95" r="3.75"/><circle cx="78.48" cy="1214.21" r="3.75"/><circle cx="78.47" cy="1218.28" r="3.75"/><circle cx="78.78" cy="1224.13" r="3.75"/><circle cx="78.68" cy="1203.88" r="3.75"/><circle cx="78.05" cy="1194.65" r="3.75"/><circle cx="78.17" cy="1216.36" r="3.75"/><circle cx="78.51" cy="1211.29" r="3.75"/><circle cx="78.61" cy="1237.47" r="3.75"/><circle cx="78.97" cy="1222.57" r="3.75"/><circle cx="78.32" cy="1223.98" r="3.75"/><circle cx="78.29" cy="1195.5" r="3.75"/><circle cx="79" cy="1231.81" r="3.75"/><circle cx="78.22" cy="1211.23" r="3.75"/><circle cx="78.06" cy="1220.74" r="3.75"/><circle cx="78.61" cy="1185.85" r="3.75"/><circle cx="78.69" cy="1197.94" r="3.75"/><circle cx="78.24" cy="1207.01" r="3.75"/><circle cx="78.08" cy="1236.97" r="3.75"/><circle cx="78.56" cy="1199.41" r="3.75"/><circle cx="78.25" cy="1230.08" r="3.75"/><circle cx="78.16" cy="1188.88" r="3.75"/><circle cx="78.44" cy="1207.36" r="3.75"/><circle cx="78.9" cy="1196.1" r="3.75"/><circle cx="78.99" cy="1236.81" r="3.75"/><circle cx="78.06" cy="1232.32" r="3.75"/><circle cx="78.76" cy="1246.51" r="3.75"/><circle cx="78.77" cy="1208.25" r="3.75"/><circle cx="78.04" cy="1235.7" r="3.75"/><circle cx="78.8" cy="1202.43" r="3.75"/><circle cx="78.18" cy="1201.95" r="3.75"/><circle cx="78.68" cy="1217.57" r="3.75"/><circle cx="78.88" cy="1212.78" r="3.75"/><circle cx="78.07" cy="1178.41" r="3.75"/><circle cx="78" cy="1150" r="3.75"/><circle cx="100" cy="1256" r="3.75"/><circle cx="83" cy="1276" r="3.75"/><circle cx="97" cy="1275" r="3.75"/><circle cx="98" cy="1242" r="3.75"/><circle cx="98" cy="1246" r="3.75"/><circle cx="172" cy="1218" r="3.75"/><circle cx="172" cy="1223" r="3.75"/><circle cx="172" cy="1228" r="3.75"/><circle cx="172" cy="1232" r="3.75"/><circle cx="145" cy="1143" r="3.75"/><circle cx="109" cy="1231" r="3.75"/><circle cx="125" cy="1228" r="3.75"/><circle cx="78.53" cy="1224.42" r="3.75"/><circle cx="79.58" cy="1205.78" r="3.75"/><circle cx="82.39" cy="1228.54" r="3.75"/><circle cx="83.68" cy="1221.82" r="3.75"/><circle cx="81.22" cy="1203.73" r="3.75"/><circle cx="86.31" cy="1236.74" r="3.75"/><circle cx="85.03" cy="1209.13" r="3.75"/><circle cx="85.73" cy="1228.89" r="3.75"/><circle cx="82.94" cy="1228.04" r="3.75"/><circle cx="81.89" cy="1218.35" r="3.75"/><circle cx="81.66" cy="1223.92" r="3.75"/><circle cx="84.22" cy="1197.83" r="3.75"/><circle cx="82.69" cy="1214.56" r="3.75"/><circle cx="80.94" cy="1213.56" r="3.75"/><circle cx="78.24" cy="1218.77" r="3.75"/><circle cx="79.97" cy="1212.51" r="3.75"/><circle cx="79.17" cy="1209.55" r="3.75"/><circle cx="84.15" cy="1247.01" r="3.75"/><circle cx="83.69" cy="1219.63" r="3.75"/><circle cx="79.77" cy="1210.09" r="3.75"/><circle cx="84.39" cy="1219.05" r="3.75"/><circle cx="81.08" cy="1198.35" r="3.75"/><circle cx="79.12" cy="1201.24" r="3.75"/><circle cx="78.23" cy="1207.64" r="3.75"/><circle cx="86.09" cy="1212.21" r="3.75"/><circle cx="81.9" cy="1212.69" r="3.75"/><circle cx="85.27" cy="1217.53" r="3.75"/><circle cx="78.43" cy="1236.87" r="3.75"/><circle cx="78.65" cy="1211.47" r="3.75"/><circle cx="84.61" cy="1222.97" r="3.75"/><circle cx="82.01" cy="1229.02" r="3.75"/><circle cx="84.15" cy="1243.43" r="3.75"/><circle cx="79.39" cy="1218.52" r="3.75"/><circle cx="79.49" cy="1248.97" r="3.75"/><circle cx="78.41" cy="1196.65" r="3.75"/><circle cx="84.56" cy="1234.16" r="3.75"/><circle cx="78.01" cy="1223.68" r="3.75"/><circle cx="82.66" cy="1230.31" r="3.75"/><circle cx="83.57" cy="1219.13" r="3.75"/><circle cx="79.83" cy="1235.45" r="3.75"/><circle cx="79.61" cy="1232.82" r="3.75"/><circle cx="83.9" cy="1245.67" r="3.75"/><circle cx="80.89" cy="1218.29" r="3.75"/><circle cx="82.02" cy="1200.16" r="3.75"/><circle cx="78.31" cy="1209.85" r="3.75"/><circle cx="81.88" cy="1208.82" r="3.75"/><circle cx="81.22" cy="1221.36" r="3.75"/><circle cx="83.79" cy="1235.62" r="3.75"/><circle cx="84.33" cy="1197.15" r="3.75"/><circle cx="79.23" cy="1207.88" r="3.75"/><circle cx="79.23" cy="1242.36" r="3.75"/><circle cx="86.16" cy="1221.18" r="3.75"/><circle cx="81.35" cy="1224.97" r="3.75"/><circle cx="83.19" cy="1226.29" r="3.75"/><circle cx="82.11" cy="1214.98" r="3.75"/><circle cx="83.59" cy="1215.61" r="3.75"/><circle cx="78.15" cy="1239.17" r="3.75"/><circle cx="80.41" cy="1211.84" r="3.75"/><circle cx="79.17" cy="1223.96" r="3.75"/><circle cx="80.78" cy="1213.72" r="3.75"/><circle cx="79.71" cy="1241.05" r="3.75"/><circle cx="83.48" cy="1197.43" r="3.75"/><circle cx="83.75" cy="1202.04" r="3.75"/><circle cx="79.72" cy="1223.52" r="3.75"/><circle cx="85.5" cy="1227.15" r="3.75"/><circle cx="83.03" cy="1206.29" r="3.75"/><circle cx="81.92" cy="1224.38" r="3.75"/><circle cx="78.42" cy="1210.03" r="3.75"/><circle cx="79.45" cy="1234.53" r="3.75"/><circle cx="78.37" cy="1209.88" r="3.75"/><circle cx="78.8" cy="1225.01" r="3.75"/><circle cx="84.89" cy="1234.5" r="3.75"/><circle cx="83.94" cy="1229.1" r="3.75"/><circle cx="82.71" cy="1203.95" r="3.75"/><circle cx="83.09" cy="1227.87" r="3.75"/><circle cx="80.84" cy="1207.37" r="3.75"/><circle cx="81.43" cy="1199.43" r="3.75"/><circle cx="86.09" cy="1232.71" r="3.75"/><circle cx="85.86" cy="1214.48" r="3.75"/><circle cx="85.16" cy="1229.52" r="3.75"/><circle cx="80.76" cy="1205.45" r="3.75"/><circle cx="78.51" cy="1215.48" r="3.75"/><circle cx="79.7" cy="1238.99" r="3.75"/><circle cx="78.06" cy="1202.64" r="3.75"/><circle cx="82.42" cy="1230.15" r="3.75"/><circle cx="80.09" cy="1214.5" r="3.75"/><circle cx="81.44" cy="1208.18" r="3.75"/><circle cx="78.88" cy="1252.09" r="3.75"/><circle cx="81.59" cy="1211.71" r="3.75"/><circle cx="83.91" cy="1199.07" r="3.75"/><circle cx="81.8" cy="1219.8" r="3.75"/><circle cx="79.04" cy="1223.09" r="3.75"/><circle cx="78.26" cy="1225.79" r="3.75"/><circle cx="80.68" cy="1235.53" r="3.75"/><circle cx="82.79" cy="1217.26" r="3.75"/><circle cx="81.26" cy="1218.78" r="3.75"/><circle cx="80.57" cy="1208.9" r="3.75"/><circle cx="82.67" cy="1199.57" r="3.75"/><circle cx="78.16" cy="1221.39" r="3.75"/><circle cx="80.47" cy="1197.98" r="3.75"/><circle cx="78.11" cy="1218.22" r="3.75"/><circle cx="86.12" cy="1206.09" r="3.75"/><circle cx="81.68" cy="1228.9" r="3.75"/><circle cx="78.5" cy="1228" r="3.75"/><circle cx="85.23" cy="1200.83" r="3.75"/><circle cx="85.25" cy="1210.12" r="3.75"/><circle cx="78.13" cy="1226.65" r="3.75"/><circle cx="81.68" cy="1209.89" r="3.75"/><circle cx="80.61" cy="1206.86" r="3.75"/><circle cx="82.73" cy="1243.76" r="3.75"/><circle cx="78.89" cy="1215.16" r="3.75"/><circle cx="84.43" cy="1224.7" r="3.75"/><circle cx="79.45" cy="1225.77" r="3.75"/><circle cx="80.88" cy="1202.38" r="3.75"/><circle cx="85.13" cy="1220.87" r="3.75"/><circle cx="82.41" cy="1208.66" r="3.75"/><circle cx="86.07" cy="1219.64" r="3.75"/><circle cx="82.64" cy="1217.12" r="3.75"/><circle cx="84.68" cy="1195.75" r="3.75"/><circle cx="81.85" cy="1212.56" r="3.75"/><circle cx="78.42" cy="1215.18" r="3.75"/><circle cx="79.42" cy="1228.33" r="3.75"/><circle cx="78.32" cy="1213.55" r="3.75"/><circle cx="81.04" cy="1209.73" r="3.75"/><circle cx="84.86" cy="1238.94" r="3.75"/><circle cx="85.81" cy="1232.8" r="3.75"/><circle cx="79.02" cy="1200.74" r="3.75"/><circle cx="85.2" cy="1220.19" r="3.75"/><circle cx="80.51" cy="1231.87" r="3.75"/><circle cx="79.56" cy="1220.79" r="3.75"/><circle cx="92.72" cy="1209.04" r="3.75"/><circle cx="91.1" cy="1190.35" r="3.75"/><circle cx="90.56" cy="1218.91" r="3.75"/><circle cx="96.12" cy="1196.06" r="3.75"/><circle cx="91.59" cy="1195.47" r="3.75"/><circle cx="87.73" cy="1213.54" r="3.75"/><circle cx="91.82" cy="1193.45" r="3.75"/><circle cx="91.03" cy="1196.51" r="3.75"/><circle cx="100" cy="1201.03" r="3.75"/><circle cx="87.96" cy="1207.45" r="3.75"/><circle cx="93.29" cy="1201.39" r="3.75"/><circle cx="90.75" cy="1199.27" r="3.75"/><circle cx="88.49" cy="1241.88" r="3.75"/><circle cx="90.95" cy="1199.68" r="3.75"/><circle cx="94.85" cy="1204.85" r="3.75"/><circle cx="90.3" cy="1203.96" r="3.75"/><circle cx="87.48" cy="1205.06" r="3.75"/><circle cx="93.75" cy="1207.53" r="3.75"/><circle cx="92.23" cy="1216.55" r="3.75"/><circle cx="98.65" cy="1223.26" r="3.75"/><circle cx="94.75" cy="1201.57" r="3.75"/><circle cx="90.14" cy="1190.18" r="3.75"/><circle cx="98.4" cy="1207.07" r="3.75"/><circle cx="95.66" cy="1221.64" r="3.75"/><circle cx="96.04" cy="1214.3" r="3.75"/><circle cx="93.56" cy="1206.7" r="3.75"/><circle cx="95.24" cy="1200.99" r="3.75"/><circle cx="98.53" cy="1221.06" r="3.75"/><circle cx="98.8" cy="1195.59" r="3.75"/><circle cx="95.87" cy="1225.43" r="3.75"/><circle cx="91.18" cy="1221.59" r="3.75"/><circle cx="90.72" cy="1216.24" r="3.75"/><circle cx="99.01" cy="1220.4" r="3.75"/><circle cx="94.52" cy="1209.23" r="3.75"/><circle cx="90.93" cy="1212.78" r="3.75"/><circle cx="111.49" cy="1218.53" r="3.75"/><circle cx="110.55" cy="1205.79" r="3.75"/><circle cx="103.16" cy="1195.11" r="3.75"/><circle cx="102.55" cy="1210.58" r="3.75"/><circle cx="107.61" cy="1197.02" r="3.75"/><circle cx="109.59" cy="1207.79" r="3.75"/><circle cx="106.76" cy="1215.45" r="3.75"/><circle cx="103.91" cy="1198.63" r="3.75"/><circle cx="109.56" cy="1206.47" r="3.75"/><circle cx="109.74" cy="1203.62" r="3.75"/><circle cx="109.56" cy="1218.49" r="3.75"/><circle cx="108.25" cy="1227.02" r="3.75"/><circle cx="108.58" cy="1196.97" r="3.75"/><circle cx="109.41" cy="1209.93" r="3.75"/><circle cx="105.93" cy="1216.89" r="3.75"/><circle cx="101.54" cy="1199.46" r="3.75"/><circle cx="101.01" cy="1206.22" r="3.75"/><circle cx="110.59" cy="1196.29" r="3.75"/><circle cx="102.49" cy="1204.03" r="3.75"/><circle cx="105.38" cy="1203.81" r="3.75"/><circle cx="100.88" cy="1222.97" r="3.75"/><circle cx="106.19" cy="1215.2" r="3.75"/><circle cx="101.98" cy="1196.27" r="3.75"/><circle cx="104.76" cy="1205.32" r="3.75"/><circle cx="104.84" cy="1218.97" r="3.75"/><circle cx="100.34" cy="1197.51" r="3.75"/><circle cx="107.54" cy="1212.43" r="3.75"/><circle cx="102.4" cy="1212.68" r="3.75"/><circle cx="101.1" cy="1213.38" r="3.75"/><circle cx="104.65" cy="1203.92" r="3.75"/><circle cx="107.55" cy="1201.28" r="3.75"/><circle cx="106.41" cy="1205.83" r="3.75"/><circle cx="109.56" cy="1221.12" r="3.75"/><circle cx="111.75" cy="1200.25" r="3.75"/><circle cx="105.65" cy="1207.93" r="3.75"/><circle cx="109.86" cy="1202.16" r="3.75"/><circle cx="100.96" cy="1199.59" r="3.75"/><circle cx="109.62" cy="1201.29" r="3.75"/><circle cx="106.29" cy="1205.11" r="3.75"/><circle cx="106.73" cy="1223.37" r="3.75"/><circle cx="109.3" cy="1233.51" r="3.75"/><circle cx="103.54" cy="1206.55" r="3.75"/><circle cx="105.09" cy="1231.35" r="3.75"/><circle cx="103.86" cy="1210.31" r="3.75"/><circle cx="101.78" cy="1203.17" r="3.75"/><circle cx="118.51" cy="1222.67" r="3.75"/><circle cx="123.07" cy="1209.73" r="3.75"/><circle cx="120.19" cy="1218.19" r="3.75"/><circle cx="116.04" cy="1204.2" r="3.75"/><circle cx="113.29" cy="1197" r="3.75"/><circle cx="117.99" cy="1210.48" r="3.75"/><circle cx="116.08" cy="1196.44" r="3.75"/><circle cx="115.05" cy="1196.96" r="3.75"/><circle cx="117.64" cy="1198.5" r="3.75"/><circle cx="119.13" cy="1209.58" r="3.75"/><circle cx="112.63" cy="1206.62" r="3.75"/><circle cx="120.81" cy="1215.32" r="3.75"/><circle cx="113.43" cy="1205.28" r="3.75"/><circle cx="124.56" cy="1190.21" r="3.75"/><circle cx="122.79" cy="1209.08" r="3.75"/><circle cx="119.24" cy="1230.59" r="3.75"/><circle cx="119.59" cy="1199.97" r="3.75"/><circle cx="116.06" cy="1226.65" r="3.75"/><circle cx="120.09" cy="1199.41" r="3.75"/><circle cx="120.08" cy="1181.63" r="3.75"/><circle cx="154.42" cy="1196.81" r="3.75"/><circle cx="143.88" cy="1209.49" r="3.75"/><circle cx="160.59" cy="1204.93" r="3.75"/><circle cx="157.06" cy="1218.25" r="3.75"/><circle cx="162.07" cy="1198.62" r="3.75"/><circle cx="158.19" cy="1205.28" r="3.75"/><circle cx="132.38" cy="1209.39" r="3.75"/><circle cx="141.91" cy="1207.07" r="3.75"/><circle cx="160.98" cy="1206.98" r="3.75"/><circle cx="156.53" cy="1226.61" r="3.75"/><circle cx="155.62" cy="1216.41" r="3.75"/><circle cx="163.89" cy="1204.36" r="3.75"/><circle cx="135.12" cy="1204.03" r="3.75"/><circle cx="154.06" cy="1222.17" r="3.75"/><circle cx="156.96" cy="1210.6" r="3.75"/><circle cx="142.78" cy="1215.94" r="3.75"/><circle cx="134.07" cy="1206.84" r="3.75"/><circle cx="135.91" cy="1198.41" r="3.75"/><circle cx="150.8" cy="1201.15" r="3.75"/><circle cx="154.92" cy="1206.84" r="3.75"/><circle cx="158.32" cy="1217.27" r="3.75"/><circle cx="154.07" cy="1200.84" r="3.75"/><circle cx="149.55" cy="1208.21" r="3.75"/><circle cx="160.18" cy="1220.6" r="3.75"/><circle cx="139.54" cy="1199.19" r="3.75"/><circle cx="165.72" cy="1197.19" r="3.75"/><circle cx="161.16" cy="1220.24" r="3.75"/><circle cx="163.21" cy="1194" r="3.75"/><circle cx="158.2" cy="1210.91" r="3.75"/><circle cx="162.09" cy="1200.5" r="3.75"/><circle cx="164.27" cy="1193.9" r="3.75"/><circle cx="158.81" cy="1191.51" r="3.75"/><circle cx="164.96" cy="1203.31" r="3.75"/><circle cx="160.35" cy="1203.39" r="3.75"/><circle cx="159.78" cy="1205.12" r="3.75"/></g>
<polyline points="77.5,1212.5 79,1210.5 82,1209.5 95,1208.8 315,1208" class="ln"/>
</g>
<g clip-path="url(#cpl)">
<polygon points="435.2,1210.5 435.7,1203.8 436.7,1198.1 438.5,1193.3 441,1190.1 445,1187.8 449,1186.3 454.2,1185 462,1183.6 472,1182.17 483.4,1180.37 500,1178.78 525,1177.15 548,1175.86 600,1173.56 673,1170.3 673,1183.7 600,1184.44 548,1184.94 525,1185.45 500,1186.22 483.4,1187.23 472,1188.63 462,1190 454.2,1191.4 449,1192.7 445,1194.2 441,1196.5 438.5,1199.7 436.7,1204.5 435.7,1210.2 435.2,1216.9" class="band"/>
<g class="pt"><circle cx="577.75" cy="1210" r="3.75"/><circle cx="577.65" cy="1217" r="3.75"/><circle cx="577.75" cy="1228" r="3.75"/><circle cx="577.41" cy="1229.5" r="3.75"/><circle cx="577.89" cy="1232" r="3.75"/><circle cx="434.34" cy="1180.81" r="3.75"/><circle cx="434.2" cy="1195.85" r="3.75"/><circle cx="434.57" cy="1177.16" r="3.75"/><circle cx="434.41" cy="1174" r="3.75"/><circle cx="434.43" cy="1178.83" r="3.75"/><circle cx="434.68" cy="1182.97" r="3.75"/><circle cx="434.26" cy="1183.8" r="3.75"/><circle cx="434.68" cy="1179.4" r="3.75"/><circle cx="434.4" cy="1175.27" r="3.75"/><circle cx="434.45" cy="1189.65" r="3.75"/><circle cx="434.24" cy="1180.76" r="3.75"/><circle cx="434.7" cy="1179.79" r="3.75"/><circle cx="434.73" cy="1183.22" r="3.75"/><circle cx="434.24" cy="1195.22" r="3.75"/><circle cx="434.49" cy="1177.68" r="3.75"/><circle cx="434.2" cy="1189.58" r="3.75"/><circle cx="434.29" cy="1185.14" r="3.75"/><circle cx="434.22" cy="1178.05" r="3.75"/><circle cx="434.69" cy="1181.43" r="3.75"/><circle cx="434.49" cy="1181.08" r="3.75"/><circle cx="434.63" cy="1179.65" r="3.75"/><circle cx="434.71" cy="1177.17" r="3.75"/><circle cx="434.58" cy="1171.46" r="3.75"/><circle cx="434.22" cy="1176.58" r="3.75"/><circle cx="434.34" cy="1180.6" r="3.75"/><circle cx="434.77" cy="1180.15" r="3.75"/><circle cx="434.47" cy="1182.16" r="3.75"/><circle cx="434.39" cy="1183.21" r="3.75"/><circle cx="435.86" cy="1219.66" r="3.75"/><circle cx="435.86" cy="1229.7" r="3.75"/><circle cx="436.12" cy="1225.64" r="3.75"/><circle cx="436.13" cy="1235.22" r="3.75"/><circle cx="435.94" cy="1240.79" r="3.75"/><circle cx="436.27" cy="1190.03" r="3.75"/><circle cx="436.18" cy="1216.49" r="3.75"/><circle cx="436.11" cy="1198.93" r="3.75"/><circle cx="435.9" cy="1209.94" r="3.75"/><circle cx="436.03" cy="1203.94" r="3.75"/><circle cx="435.84" cy="1215.69" r="3.75"/><circle cx="435.79" cy="1207.59" r="3.75"/><circle cx="435.81" cy="1216.76" r="3.75"/><circle cx="435.76" cy="1236.54" r="3.75"/><circle cx="435.75" cy="1217.03" r="3.75"/><circle cx="436.15" cy="1232.54" r="3.75"/><circle cx="436.04" cy="1211.35" r="3.75"/><circle cx="436.07" cy="1229.97" r="3.75"/><circle cx="435.8" cy="1207.43" r="3.75"/><circle cx="435.9" cy="1214.55" r="3.75"/><circle cx="436.25" cy="1204.17" r="3.75"/><circle cx="435.95" cy="1206.59" r="3.75"/><circle cx="435.83" cy="1222.91" r="3.75"/><circle cx="435.74" cy="1207.54" r="3.75"/><circle cx="436.03" cy="1212.48" r="3.75"/><circle cx="435.95" cy="1211.71" r="3.75"/><circle cx="436.3" cy="1214.98" r="3.75"/><circle cx="435.93" cy="1218.19" r="3.75"/><circle cx="435.99" cy="1206.98" r="3.75"/><circle cx="435.81" cy="1227.37" r="3.75"/><circle cx="436.04" cy="1190.97" r="3.75"/><circle cx="435.96" cy="1196.52" r="3.75"/><circle cx="435.97" cy="1264" r="3.75"/><circle cx="435.82" cy="1277" r="3.75"/><circle cx="442.82" cy="1226" r="3.75"/><circle cx="448.81" cy="1207" r="3.75"/><circle cx="439.9" cy="1200" r="3.75"/><circle cx="441.84" cy="1210" r="3.75"/><circle cx="446.16" cy="1221" r="3.75"/><circle cx="527.88" cy="1208" r="3.75"/><circle cx="531.1" cy="1211" r="3.75"/><circle cx="507.06" cy="1240.7" r="3.75"/><circle cx="459.54" cy="1205.7" r="3.75"/><circle cx="468.93" cy="1160.4" r="3.75"/><circle cx="482.95" cy="1214.5" r="3.75"/><circle cx="457.06" cy="1142" r="3.75"/><circle cx="446.77" cy="1182.91" r="3.75"/><circle cx="438.7" cy="1187.64" r="3.75"/><circle cx="442.67" cy="1176.8" r="3.75"/><circle cx="441" cy="1166.81" r="3.75"/><circle cx="444.44" cy="1173.32" r="3.75"/><circle cx="441.91" cy="1190.74" r="3.75"/><circle cx="439.07" cy="1179" r="3.75"/><circle cx="444.74" cy="1190.69" r="3.75"/><circle cx="438.71" cy="1188.61" r="3.75"/><circle cx="446.54" cy="1178.83" r="3.75"/><circle cx="438.77" cy="1184.09" r="3.75"/><circle cx="444.65" cy="1183.97" r="3.75"/><circle cx="446.07" cy="1183.33" r="3.75"/><circle cx="443.32" cy="1174.96" r="3.75"/><circle cx="442.83" cy="1176.75" r="3.75"/><circle cx="440.62" cy="1171.78" r="3.75"/><circle cx="437.2" cy="1184.03" r="3.75"/><circle cx="440.54" cy="1181.95" r="3.75"/><circle cx="442.02" cy="1179.45" r="3.75"/><circle cx="438.4" cy="1181.26" r="3.75"/><circle cx="443.86" cy="1190.25" r="3.75"/><circle cx="439.88" cy="1179.42" r="3.75"/><circle cx="437.57" cy="1184.11" r="3.75"/><circle cx="446.31" cy="1193.77" r="3.75"/><circle cx="439.32" cy="1175.49" r="3.75"/><circle cx="438.12" cy="1184.1" r="3.75"/><circle cx="444.79" cy="1175.61" r="3.75"/><circle cx="441.19" cy="1188.36" r="3.75"/><circle cx="444.6" cy="1180.38" r="3.75"/><circle cx="439.99" cy="1183.38" r="3.75"/><circle cx="444.27" cy="1189.69" r="3.75"/><circle cx="446.11" cy="1179.6" r="3.75"/><circle cx="440.16" cy="1184.9" r="3.75"/><circle cx="438.87" cy="1183.1" r="3.75"/><circle cx="465.57" cy="1182.83" r="3.75"/><circle cx="465.84" cy="1177.66" r="3.75"/><circle cx="466.3" cy="1176.86" r="3.75"/><circle cx="465.77" cy="1179.91" r="3.75"/><circle cx="457.99" cy="1185.61" r="3.75"/><circle cx="461.02" cy="1166.11" r="3.75"/><circle cx="462.3" cy="1179.61" r="3.75"/><circle cx="466.84" cy="1176.56" r="3.75"/><circle cx="462.1" cy="1171.06" r="3.75"/><circle cx="458.73" cy="1173.2" r="3.75"/><circle cx="463.75" cy="1170.17" r="3.75"/><circle cx="462.41" cy="1172.83" r="3.75"/><circle cx="457.83" cy="1174.63" r="3.75"/><circle cx="466.61" cy="1205.54" r="3.75"/><circle cx="475.99" cy="1192.17" r="3.75"/><circle cx="473.3" cy="1188.46" r="3.75"/><circle cx="476.32" cy="1186.62" r="3.75"/><circle cx="481.85" cy="1192.92" r="3.75"/><circle cx="484.53" cy="1188.61" r="3.75"/><circle cx="479.46" cy="1183.06" r="3.75"/><circle cx="475.52" cy="1163.14" r="3.75"/><circle cx="478.58" cy="1182.63" r="3.75"/><circle cx="477.63" cy="1182.01" r="3.75"/><circle cx="479.47" cy="1180.85" r="3.75"/><circle cx="481.57" cy="1169.25" r="3.75"/><circle cx="475.75" cy="1180.92" r="3.75"/><circle cx="476.49" cy="1184.06" r="3.75"/><circle cx="480.32" cy="1175.04" r="3.75"/><circle cx="484.81" cy="1177.2" r="3.75"/><circle cx="477.9" cy="1179.09" r="3.75"/><circle cx="480.61" cy="1185.25" r="3.75"/><circle cx="482.62" cy="1183.83" r="3.75"/></g>
<polyline points="435.2,1213.7 435.7,1207 436.7,1201.3 438.5,1196.5 441,1193.3 445,1191 449,1189.5 454.2,1188.2 462,1186.8 472,1185.4 483.4,1183.8 500,1182.5 525,1181.3 548,1180.4 600,1179 673,1177" class="ln"/>
</g>
<g clip-path="url(#cpm)">
<g class="pt"><circle cx="78.13" cy="1388" r="3.75"/><circle cx="78.66" cy="1420" r="3.75"/><circle cx="78.6" cy="1424" r="3.75"/><circle cx="78.14" cy="1428" r="3.75"/><circle cx="78.17" cy="1429" r="3.75"/><circle cx="78.5" cy="1434" r="3.75"/><circle cx="78.3" cy="1438" r="3.75"/><circle cx="78.73" cy="1450.01" r="3.75"/><circle cx="78.51" cy="1462.4" r="3.75"/><circle cx="78.85" cy="1454.91" r="3.75"/><circle cx="78.62" cy="1465.25" r="3.75"/><circle cx="78.51" cy="1466.82" r="3.75"/><circle cx="77.99" cy="1449.62" r="3.75"/><circle cx="78.73" cy="1473.6" r="3.75"/><circle cx="78.8" cy="1472.04" r="3.75"/><circle cx="78.19" cy="1458.93" r="3.75"/><circle cx="78.47" cy="1451.06" r="3.75"/><circle cx="78.25" cy="1460.22" r="3.75"/><circle cx="77.94" cy="1480.03" r="3.75"/><circle cx="78.87" cy="1459.95" r="3.75"/><circle cx="78.27" cy="1446.11" r="3.75"/><circle cx="77.99" cy="1463.78" r="3.75"/><circle cx="78.17" cy="1462.05" r="3.75"/><circle cx="78.03" cy="1449.72" r="3.75"/><circle cx="78.15" cy="1463.05" r="3.75"/><circle cx="78.83" cy="1454.66" r="3.75"/><circle cx="78.89" cy="1446.44" r="3.75"/><circle cx="77.9" cy="1449.15" r="3.75"/><circle cx="78.52" cy="1468.43" r="3.75"/><circle cx="77.91" cy="1473.1" r="3.75"/><circle cx="78.01" cy="1458.83" r="3.75"/><circle cx="78.9" cy="1449.63" r="3.75"/><circle cx="77.91" cy="1452.87" r="3.75"/><circle cx="78.45" cy="1456.12" r="3.75"/><circle cx="78.49" cy="1464.78" r="3.75"/><circle cx="78.29" cy="1451.76" r="3.75"/><circle cx="78.03" cy="1450.92" r="3.75"/><circle cx="78.89" cy="1464.91" r="3.75"/><circle cx="78.58" cy="1464.57" r="3.75"/><circle cx="77.98" cy="1448.69" r="3.75"/><circle cx="78.45" cy="1479.97" r="3.75"/><circle cx="78.77" cy="1460.59" r="3.75"/><circle cx="78.55" cy="1451.95" r="3.75"/><circle cx="78.44" cy="1461.14" r="3.75"/><circle cx="78.26" cy="1455.97" r="3.75"/><circle cx="78.76" cy="1480.43" r="3.75"/><circle cx="78.25" cy="1457.58" r="3.75"/><circle cx="78.65" cy="1449.99" r="3.75"/><circle cx="78.69" cy="1457.04" r="3.75"/><circle cx="78.14" cy="1460.67" r="3.75"/><circle cx="78.79" cy="1458.52" r="3.75"/><circle cx="78" cy="1460.89" r="3.75"/><circle cx="78.85" cy="1452.49" r="3.75"/><circle cx="78.33" cy="1451.16" r="3.75"/><circle cx="78.48" cy="1450.06" r="3.75"/><circle cx="78.88" cy="1456.33" r="3.75"/><circle cx="77.97" cy="1470.58" r="3.75"/><circle cx="78.81" cy="1478.52" r="3.75"/><circle cx="77.94" cy="1462.52" r="3.75"/><circle cx="78.07" cy="1460.51" r="3.75"/><circle cx="77.99" cy="1459.61" r="3.75"/><circle cx="77.93" cy="1463.89" r="3.75"/><circle cx="78.61" cy="1482" r="3.75"/><circle cx="78.58" cy="1484" r="3.75"/><circle cx="82" cy="1462" r="3.75"/><circle cx="83" cy="1470" r="3.75"/><circle cx="85" cy="1476" r="3.75"/><circle cx="86" cy="1481" r="3.75"/><circle cx="90" cy="1470" r="3.75"/><circle cx="92" cy="1466" r="3.75"/><circle cx="94" cy="1472" r="3.75"/><circle cx="96" cy="1468" r="3.75"/><circle cx="96" cy="1483" r="3.75"/><circle cx="103" cy="1479" r="3.75"/><circle cx="107" cy="1473" r="3.75"/><circle cx="140.4" cy="1445" r="3.75"/><circle cx="144" cy="1460" r="3.75"/><circle cx="147" cy="1460" r="3.75"/><circle cx="150" cy="1460" r="3.75"/><circle cx="154" cy="1460" r="3.75"/><circle cx="158" cy="1472" r="3.75"/><circle cx="162" cy="1468" r="3.75"/><circle cx="166" cy="1466" r="3.75"/><circle cx="170" cy="1463" r="3.75"/><circle cx="172" cy="1461" r="3.75"/><circle cx="175.6" cy="1452.4" r="3.75"/><circle cx="180" cy="1429" r="3.75"/><circle cx="200.6" cy="1447" r="3.75"/><circle cx="227" cy="1465" r="3.75"/><circle cx="232" cy="1461" r="3.75"/><circle cx="237" cy="1469.6" r="3.75"/><circle cx="242.4" cy="1468.6" r="3.75"/><circle cx="251.6" cy="1476" r="3.75"/></g>
</g>
<g clip-path="url(#cpn)">
<g class="pt"><circle cx="437.74" cy="1386" r="3.75"/><circle cx="437.85" cy="1388" r="3.75"/><circle cx="437.95" cy="1400" r="3.75"/><circle cx="437.98" cy="1406" r="3.75"/><circle cx="437.77" cy="1408" r="3.75"/><circle cx="437.88" cy="1420" r="3.75"/><circle cx="438.14" cy="1422" r="3.75"/><circle cx="438.23" cy="1438.74" r="3.75"/><circle cx="438.24" cy="1437.53" r="3.75"/><circle cx="437.94" cy="1438.26" r="3.75"/><circle cx="438.06" cy="1457.16" r="3.75"/><circle cx="437.72" cy="1457.06" r="3.75"/><circle cx="438.18" cy="1439.14" r="3.75"/><circle cx="437.84" cy="1451.1" r="3.75"/><circle cx="437.77" cy="1442.42" r="3.75"/><circle cx="438.24" cy="1454.92" r="3.75"/><circle cx="437.78" cy="1442.74" r="3.75"/><circle cx="438.03" cy="1449.12" r="3.75"/><circle cx="437.85" cy="1442.52" r="3.75"/><circle cx="437.97" cy="1433.57" r="3.75"/><circle cx="437.92" cy="1443.81" r="3.75"/><circle cx="438.16" cy="1432.58" r="3.75"/><circle cx="437.89" cy="1442.16" r="3.75"/><circle cx="437.95" cy="1427.91" r="3.75"/><circle cx="438.25" cy="1467.02" r="3.75"/><circle cx="437.92" cy="1434.41" r="3.75"/><circle cx="438.2" cy="1444.64" r="3.75"/><circle cx="438.2" cy="1428.02" r="3.75"/><circle cx="437.77" cy="1438.24" r="3.75"/><circle cx="437.9" cy="1448.23" r="3.75"/><circle cx="437.86" cy="1444.22" r="3.75"/><circle cx="438.12" cy="1442.28" r="3.75"/><circle cx="438.08" cy="1455.12" r="3.75"/><circle cx="438" cy="1436.92" r="3.75"/><circle cx="438.23" cy="1452.75" r="3.75"/><circle cx="437.84" cy="1460.46" r="3.75"/><circle cx="437.95" cy="1445.32" r="3.75"/><circle cx="438.14" cy="1445.81" r="3.75"/><circle cx="437.88" cy="1458.93" r="3.75"/><circle cx="438.09" cy="1441.76" r="3.75"/><circle cx="437.76" cy="1445.66" r="3.75"/><circle cx="438.2" cy="1443.87" r="3.75"/><circle cx="438.06" cy="1452.93" r="3.75"/><circle cx="437.95" cy="1442.93" r="3.75"/><circle cx="438.1" cy="1440.25" r="3.75"/><circle cx="437.84" cy="1451.03" r="3.75"/><circle cx="438.24" cy="1445.55" r="3.75"/><circle cx="438.05" cy="1472" r="3.75"/><circle cx="437.91" cy="1478" r="3.75"/><circle cx="437.89" cy="1484" r="3.75"/><circle cx="437.71" cy="1488" r="3.75"/><circle cx="438.26" cy="1492" r="3.75"/><circle cx="435" cy="1451.31" r="3.75"/><circle cx="435.03" cy="1448.58" r="3.75"/><circle cx="434.76" cy="1452.47" r="3.75"/><circle cx="434.93" cy="1457.13" r="3.75"/><circle cx="435.03" cy="1438.86" r="3.75"/><circle cx="435.2" cy="1448.67" r="3.75"/><circle cx="434.94" cy="1449.17" r="3.75"/><circle cx="434.76" cy="1430.8" r="3.75"/><circle cx="435.12" cy="1428.77" r="3.75"/><circle cx="435.15" cy="1457.22" r="3.75"/><circle cx="435.18" cy="1432.2" r="3.75"/><circle cx="435.26" cy="1446.05" r="3.75"/><circle cx="434.83" cy="1435.12" r="3.75"/><circle cx="434.78" cy="1450.24" r="3.75"/><circle cx="434.81" cy="1446.61" r="3.75"/><circle cx="434.95" cy="1442.47" r="3.75"/><circle cx="435.23" cy="1447.97" r="3.75"/><circle cx="435.1" cy="1463.33" r="3.75"/><circle cx="434.71" cy="1456.86" r="3.75"/><circle cx="435.08" cy="1427" r="3.75"/><circle cx="434.7" cy="1452.51" r="3.75"/><circle cx="435.27" cy="1451.04" r="3.75"/><circle cx="434.88" cy="1448.29" r="3.75"/><circle cx="434.75" cy="1442.62" r="3.75"/><circle cx="434.74" cy="1452.75" r="3.75"/><circle cx="447.04" cy="1411" r="3.75"/><circle cx="506.87" cy="1446" r="3.75"/><circle cx="507.09" cy="1450" r="3.75"/><circle cx="507.24" cy="1458" r="3.75"/><circle cx="506.75" cy="1460" r="3.75"/><circle cx="506.93" cy="1476" r="3.75"/><circle cx="506.87" cy="1477" r="3.75"/><circle cx="506.73" cy="1478" r="3.75"/><circle cx="506.88" cy="1482" r="3.75"/><circle cx="507.27" cy="1490" r="3.75"/><circle cx="484.71" cy="1454" r="3.75"/><circle cx="485.15" cy="1460" r="3.75"/><circle cx="529.63" cy="1437" r="3.75"/><circle cx="529.37" cy="1440" r="3.75"/><circle cx="462" cy="1500" r="3.75"/><circle cx="447" cy="1476" r="3.75"/><circle cx="445" cy="1481" r="3.75"/><circle cx="443" cy="1490" r="3.75"/><circle cx="590.4" cy="1424" r="3.75"/><circle cx="590.4" cy="1432" r="3.75"/><circle cx="637.4" cy="1431.4" r="3.75"/><circle cx="640" cy="1434.6" r="3.75"/><circle cx="642" cy="1451.2" r="3.75"/><circle cx="645" cy="1466.6" r="3.75"/><circle cx="648" cy="1434.4" r="3.75"/><circle cx="650" cy="1431.4" r="3.75"/><circle cx="657.6" cy="1435" r="3.75"/><circle cx="665" cy="1437" r="3.75"/><circle cx="671" cy="1409.4" r="3.75"/><circle cx="673" cy="1432.4" r="3.75"/><circle cx="444.2" cy="1451.69" r="3.75"/><circle cx="445.04" cy="1457.72" r="3.75"/><circle cx="443.97" cy="1467.23" r="3.75"/><circle cx="445.97" cy="1453.77" r="3.75"/><circle cx="440.44" cy="1441.53" r="3.75"/><circle cx="443.37" cy="1427.3" r="3.75"/><circle cx="445.2" cy="1474.91" r="3.75"/><circle cx="441.06" cy="1468.42" r="3.75"/><circle cx="442.35" cy="1448.53" r="3.75"/><circle cx="445.93" cy="1460.44" r="3.75"/><circle cx="443.46" cy="1429.14" r="3.75"/><circle cx="444.39" cy="1445.33" r="3.75"/><circle cx="446.06" cy="1437.41" r="3.75"/><circle cx="440.64" cy="1453.02" r="3.75"/><circle cx="445.45" cy="1448.72" r="3.75"/><circle cx="446" cy="1441.54" r="3.75"/><circle cx="442.09" cy="1453.31" r="3.75"/><circle cx="443.21" cy="1454.12" r="3.75"/><circle cx="443.28" cy="1463.42" r="3.75"/><circle cx="443.02" cy="1435.36" r="3.75"/><circle cx="443.42" cy="1446.7" r="3.75"/><circle cx="446.44" cy="1446.59" r="3.75"/><circle cx="442.11" cy="1451.27" r="3.75"/><circle cx="444.45" cy="1456.9" r="3.75"/><circle cx="441.85" cy="1452.7" r="3.75"/><circle cx="445.33" cy="1434.62" r="3.75"/><circle cx="454.37" cy="1460.52" r="3.75"/><circle cx="463.87" cy="1434.31" r="3.75"/><circle cx="461.47" cy="1434.51" r="3.75"/><circle cx="456.94" cy="1455.36" r="3.75"/><circle cx="457.37" cy="1465.63" r="3.75"/><circle cx="462.69" cy="1416.31" r="3.75"/><circle cx="463.91" cy="1481.37" r="3.75"/><circle cx="463.16" cy="1433.26" r="3.75"/><circle cx="467.56" cy="1446.61" r="3.75"/><circle cx="463.49" cy="1469.61" r="3.75"/><circle cx="461.5" cy="1443.47" r="3.75"/><circle cx="467.54" cy="1434.5" r="3.75"/><circle cx="467.63" cy="1421.74" r="3.75"/><circle cx="458.85" cy="1442.35" r="3.75"/><circle cx="465.43" cy="1458.64" r="3.75"/><circle cx="459.55" cy="1463.46" r="3.75"/><circle cx="462.34" cy="1455.89" r="3.75"/><circle cx="464.03" cy="1470.8" r="3.75"/><circle cx="460.97" cy="1453.79" r="3.75"/><circle cx="465.5" cy="1473.33" r="3.75"/><circle cx="462.44" cy="1455.26" r="3.75"/><circle cx="455.28" cy="1447.33" r="3.75"/><circle cx="459.5" cy="1453.86" r="3.75"/><circle cx="462.56" cy="1438.49" r="3.75"/><circle cx="462.48" cy="1443.79" r="3.75"/></g>
</g>
<rect x="67.05" y="15.95" width="260.45" height="145.95" class="fr"/>
<path d="M62.45 38.6H67.05M62.45 77.55H67.05M62.45 116.5H67.05M62.45 155.45H67.05M75.1 161.9V166.5M135.3 161.9V166.5M195.5 161.9V166.5M255.7 161.9V166.5M315.9 161.9V166.5" class="tk"/>
<text x="58.75" y="45.3" class="yl">1</text>
<text x="58.75" y="84.25" class="yl">0</text>
<text x="58.75" y="123.2" class="yl">-1</text>
<text x="58.75" y="162.15" class="yl">-2</text>
<text x="75.1" y="182.6" class="xl">0</text>
<text x="135.3" y="182.6" class="xl">5</text>
<text x="195.5" y="182.6" class="xl">10</text>
<text x="255.7" y="182.6" class="xl">15</text>
<text x="315.9" y="182.6" class="xl">20</text>
<text x="197.27" y="208.1" class="xl">Warming amount (°C)</text>
<text transform="translate(13.9 88.92) rotate(-90)" class="xl">Response ratio</text>
<text x="24" y="21.75" class="pl">a</text>
<text x="70.8" y="32.4" class="vi">g</text>
<text x="82.1" y="35.6" class="sb">s</text>
<text x="76" y="152.4"><tspan class="it">p</tspan><tspan dx="0"> = 0.0067</tspan></text>
<text x="318.9" y="152.4" class="ye"><tspan class="it">p</tspan><tspan dx="0"> = 0.0031</tspan></text>
<rect x="423.05" y="15.95" width="260.45" height="145.95" class="fr"/>
<path d="M418.45 59.4H423.05M418.45 110.2H423.05M418.45 161H423.05M431.1 161.9V166.5M491.3 161.9V166.5M551.5 161.9V166.5M611.7 161.9V166.5M671.9 161.9V166.5" class="tk"/>
<text x="414.75" y="66.1" class="yl">1</text>
<text x="414.75" y="116.9" class="yl">0</text>
<text x="414.75" y="167.7" class="yl">-1</text>
<text x="431.1" y="182.6" class="xl">0</text>
<text x="491.3" y="182.6" class="xl">5</text>
<text x="551.5" y="182.6" class="xl">10</text>
<text x="611.7" y="182.6" class="xl">15</text>
<text x="671.9" y="182.6" class="xl">20</text>
<text x="553.27" y="208.1" class="xl">Warming amount (°C)</text>
<text x="380" y="21.75" class="pl">b</text>
<text x="426.4" y="34.6" class="vi">E</text>
<text x="429.4" y="152.4"><tspan class="it">p</tspan><tspan dx="0"> = 0.3</tspan></text>
<text x="676.3" y="152.4" class="ye"><tspan class="it">p</tspan><tspan dx="1.4"> &lt; 0.001</tspan></text>
<rect x="67.05" y="240.2" width="260.45" height="145.95" class="fr"/>
<path d="M62.45 263.4H67.05M62.45 293.9H67.05M62.45 324.4H67.05M62.45 354.9H67.05M62.45 385.4H67.05M75.1 386.15V390.75M135.3 386.15V390.75M195.5 386.15V390.75M255.7 386.15V390.75M315.9 386.15V390.75" class="tk"/>
<text x="58.75" y="270.1" class="yl">1</text>
<text x="58.75" y="300.6" class="yl">0</text>
<text x="58.75" y="331.1" class="yl">-1</text>
<text x="58.75" y="361.6" class="yl">-2</text>
<text x="58.75" y="392.1" class="yl">-3</text>
<text x="75.1" y="406.85" class="xl">0</text>
<text x="135.3" y="406.85" class="xl">5</text>
<text x="195.5" y="406.85" class="xl">10</text>
<text x="255.7" y="406.85" class="xl">15</text>
<text x="315.9" y="406.85" class="xl">20</text>
<text x="197.27" y="432.35" class="xl">Warming amount (°C)</text>
<text transform="translate(13.9 313.17) rotate(-90)" class="xl">Response ratio</text>
<text x="24" y="246" class="pl">c</text>
<text x="74.6" y="260.6" class="vi">A</text>
<text x="87.9" y="264" class="sb">net</text>
<text x="74.8" y="370"><tspan class="it">p</tspan><tspan dx="1.4"> &lt; 0.001</tspan></text>
<rect x="423.05" y="240.2" width="260.45" height="145.95" class="fr"/>
<path d="M418.45 251.1H423.05M418.45 280.8H423.05M418.45 310.5H423.05M418.45 340.2H423.05M418.45 369.9H423.05M431.1 386.15V390.75M491.3 386.15V390.75M551.5 386.15V390.75M611.7 386.15V390.75M671.9 386.15V390.75" class="tk"/>
<text x="414.75" y="257.8" class="yl">2</text>
<text x="414.75" y="287.5" class="yl">1</text>
<text x="414.75" y="317.2" class="yl">0</text>
<text x="414.75" y="346.9" class="yl">-1</text>
<text x="414.75" y="376.6" class="yl">-2</text>
<text x="431.1" y="406.85" class="xl">0</text>
<text x="491.3" y="406.85" class="xl">5</text>
<text x="551.5" y="406.85" class="xl">10</text>
<text x="611.7" y="406.85" class="xl">15</text>
<text x="671.9" y="406.85" class="xl">20</text>
<text x="553.27" y="432.35" class="xl">Warming amount (°C)</text>
<text x="380" y="246" class="pl">d</text>
<text x="435" y="260.8" class="vi wue">WUE</text>
<text x="482.3" y="263.9" class="sb">i</text>
<text x="431.2" y="370"><tspan class="it">p</tspan><tspan dx="1.4"> &lt; 0.001</tspan></text>
<rect x="67.05" y="464.45" width="260.45" height="145.95" class="fr"/>
<path d="M62.45 508.05H67.05M62.45 556.05H67.05M62.45 604.05H67.05M75.1 610.4V615M135.3 610.4V615M195.5 610.4V615M255.7 610.4V615M315.9 610.4V615" class="tk"/>
<text x="58.75" y="514.75" class="yl">0</text>
<text x="58.75" y="562.75" class="yl">-1</text>
<text x="58.75" y="610.75" class="yl">-2</text>
<text x="75.1" y="631.1" class="xl">0</text>
<text x="135.3" y="631.1" class="xl">5</text>
<text x="195.5" y="631.1" class="xl">10</text>
<text x="255.7" y="631.1" class="xl">15</text>
<text x="315.9" y="631.1" class="xl">20</text>
<text x="197.27" y="656.6" class="xl">Warming amount (°C)</text>
<text transform="translate(13.9 537.42) rotate(-90)" class="xl">Response ratio</text>
<text x="24" y="470.25" class="pl">e</text>
<text x="78.7" y="484.8" class="vi wue">WUE</text>
<text x="125.9" y="487.9" class="sb">t</text>
<text x="74.8" y="594"><tspan class="it">p</tspan><tspan dx="1.4"> &lt; 0.001</tspan></text>
<rect x="423.05" y="464.45" width="260.45" height="145.95" class="fr"/>
<path d="M418.45 466.1H423.05M418.45 510.4H423.05M418.45 554.7H423.05M418.45 599H423.05M431.1 610.4V615M491.3 610.4V615M551.5 610.4V615M611.7 610.4V615M671.9 610.4V615" class="tk"/>
<text x="414.75" y="472.8" class="yl">0.6</text>
<text x="414.75" y="517.1" class="yl">0.4</text>
<text x="414.75" y="561.4" class="yl">0.2</text>
<text x="414.75" y="605.7" class="yl">0.0</text>
<text x="431.1" y="631.1" class="xl">0</text>
<text x="491.3" y="631.1" class="xl">5</text>
<text x="551.5" y="631.1" class="xl">10</text>
<text x="611.7" y="631.1" class="xl">15</text>
<text x="671.9" y="631.1" class="xl">20</text>
<text x="553.27" y="656.6" class="xl">Warming amount (°C)</text>
<text x="380" y="470.25" class="pl">f</text>
<text x="431.4" y="485.1" class="vi">T</text>
<text x="443.9" y="488" class="sb">leaf</text>
<text x="430.8" y="601"><tspan class="it">p</tspan><tspan dx="1.4"> &lt; 0.001</tspan></text>
<text x="676.2" y="601" class="ye"><tspan class="it">p</tspan><tspan dx="0"> = 0.0028</tspan></text>
<rect x="67.05" y="688.7" width="260.45" height="145.95" class="fr"/>
<path d="M62.45 696.15H67.05M62.45 744.6H67.05M62.45 793.05H67.05M75.1 834.65V839.25M135.3 834.65V839.25M195.5 834.65V839.25M255.7 834.65V839.25M315.9 834.65V839.25" class="tk"/>
<text x="58.75" y="702.85" class="yl">0.5</text>
<text x="58.75" y="751.3" class="yl">0.0</text>
<text x="58.75" y="799.75" class="yl">-0.5</text>
<text x="75.1" y="855.35" class="xl">0</text>
<text x="135.3" y="855.35" class="xl">5</text>
<text x="195.5" y="855.35" class="xl">10</text>
<text x="255.7" y="855.35" class="xl">15</text>
<text x="315.9" y="855.35" class="xl">20</text>
<text x="197.27" y="880.85" class="xl">Warming amount (°C)</text>
<text transform="translate(13.9 761.68) rotate(-90)" class="xl">Response ratio</text>
<text x="24" y="694.5" class="pl">g</text>
<text x="75.8" y="709.1" class="vi">Ψ</text>
<text x="91.9" y="712.2" class="sb">leaf</text>
<text x="76" y="818.4"><tspan class="it">p</tspan><tspan dx="0"> = 0.0051</tspan></text>
<rect x="423.05" y="688.7" width="260.45" height="145.95" class="fr"/>
<path d="M412.85 711.35H423.05M412.85 750.3H423.05M412.85 789.25H423.05M412.85 828.2H423.05M435 834.65V844.85M500 834.65V844.85M565 834.65V844.85M630 834.65V844.85" class="tk"/>
<text x="408.85" y="718.05" class="yl">1</text>
<text x="408.85" y="757" class="yl">0</text>
<text x="408.85" y="795.95" class="yl">-1</text>
<text x="408.85" y="834.9" class="yl">-2</text>
<text x="435" y="861.45" class="xl">0</text>
<text x="500" y="861.45" class="xl">1000</text>
<text x="565" y="861.45" class="xl">2000</text>
<text x="630" y="861.45" class="xl">3000</text>
<text x="553.27" y="881.75" class="xl">Duration (days)</text>
<text x="380" y="694.5" class="pl">h</text>
<text x="427.2" y="705.4" class="vi">g</text>
<text x="439.1" y="708.6" class="sb">s</text>
<text x="430.4" y="825.4"><tspan class="it">p</tspan><tspan dx="0"> = 0.02</tspan></text>
<rect x="67.05" y="912.95" width="260.45" height="145.95" class="fr"/>
<path d="M56.85 956.4H67.05M56.85 1007.2H67.05M56.85 1058H67.05M79 1058.9V1069.1M144 1058.9V1069.1M209 1058.9V1069.1M274 1058.9V1069.1" class="tk"/>
<text x="52.85" y="963.1" class="yl">1</text>
<text x="52.85" y="1013.9" class="yl">0</text>
<text x="52.85" y="1064.7" class="yl">-1</text>
<text x="79" y="1085.7" class="xl">0</text>
<text x="144" y="1085.7" class="xl">1000</text>
<text x="209" y="1085.7" class="xl">2000</text>
<text x="274" y="1085.7" class="xl">3000</text>
<text x="197.27" y="1106" class="xl">Duration (days)</text>
<text transform="translate(13.9 985.93) rotate(-90)" class="xl">Response ratio</text>
<text x="24" y="918.75" class="pl">i</text>
<text x="70.2" y="931.3" class="vi">E</text>
<text x="74.8" y="1049.4"><tspan class="it">p</tspan><tspan dx="1.4"> &lt; 0.001</tspan></text>
<rect x="423.05" y="912.95" width="260.45" height="145.95" class="fr"/>
<path d="M412.85 936.15H423.05M412.85 966.65H423.05M412.85 997.15H423.05M412.85 1027.65H423.05M412.85 1058.15H423.05M435 1058.9V1069.1M500 1058.9V1069.1M565 1058.9V1069.1M630 1058.9V1069.1" class="tk"/>
<text x="408.85" y="942.85" class="yl">1</text>
<text x="408.85" y="973.35" class="yl">0</text>
<text x="408.85" y="1003.85" class="yl">-1</text>
<text x="408.85" y="1034.35" class="yl">-2</text>
<text x="408.85" y="1064.85" class="yl">-3</text>
<text x="435" y="1085.7" class="xl">0</text>
<text x="500" y="1085.7" class="xl">1000</text>
<text x="565" y="1085.7" class="xl">2000</text>
<text x="630" y="1085.7" class="xl">3000</text>
<text x="553.27" y="1106" class="xl">Duration (days)</text>
<text x="380" y="918.75" class="pl">j</text>
<text x="431.1" y="933.3" class="vi">A</text>
<text x="444.6" y="936.5" class="sb">net</text>
<text x="430.8" y="1049.4"><tspan class="it">p</tspan><tspan dx="0"> = 0.014</tspan></text>
<rect x="67.05" y="1137.2" width="260.45" height="145.95" class="fr"/>
<path d="M56.85 1148.1H67.05M56.85 1177.8H67.05M56.85 1207.5H67.05M56.85 1237.2H67.05M56.85 1266.9H67.05M79 1283.15V1293.35M144 1283.15V1293.35M209 1283.15V1293.35M274 1283.15V1293.35" class="tk"/>
<text x="52.85" y="1154.8" class="yl">2</text>
<text x="52.85" y="1184.5" class="yl">1</text>
<text x="52.85" y="1214.2" class="yl">0</text>
<text x="52.85" y="1243.9" class="yl">-1</text>
<text x="52.85" y="1273.6" class="yl">-2</text>
<text x="79" y="1309.95" class="xl">0</text>
<text x="144" y="1309.95" class="xl">1000</text>
<text x="209" y="1309.95" class="xl">2000</text>
<text x="274" y="1309.95" class="xl">3000</text>
<text x="197.27" y="1330.25" class="xl">Duration (days)</text>
<text transform="translate(13.9 1210.17) rotate(-90)" class="xl">Response ratio</text>
<text x="24" y="1143" class="pl">k</text>
<text x="78.7" y="1157.5" class="vi wue">WUE</text>
<text x="125.9" y="1160.8" class="sb">i</text>
<text x="74.8" y="1273.4"><tspan class="it">p</tspan><tspan dx="0"> = 0.012</tspan></text>
<rect x="423.05" y="1137.2" width="260.45" height="145.95" class="fr"/>
<path d="M412.85 1180.8H423.05M412.85 1228.8H423.05M412.85 1276.8H423.05M435 1283.15V1293.35M500 1283.15V1293.35M565 1283.15V1293.35M630 1283.15V1293.35" class="tk"/>
<text x="408.85" y="1187.5" class="yl">0</text>
<text x="408.85" y="1235.5" class="yl">-1</text>
<text x="408.85" y="1283.5" class="yl">-2</text>
<text x="435" y="1309.95" class="xl">0</text>
<text x="500" y="1309.95" class="xl">1000</text>
<text x="565" y="1309.95" class="xl">2000</text>
<text x="630" y="1309.95" class="xl">3000</text>
<text x="553.27" y="1330.25" class="xl">Duration (days)</text>
<text x="380" y="1143" class="pl">l</text>
<text x="435.2" y="1157.5" class="vi wue">WUE</text>
<text x="482.3" y="1160.8" class="sb">t</text>
<text x="430.8" y="1273.4"><tspan class="it">p</tspan><tspan dx="1.4"> &lt; 0.001</tspan></text>
<rect x="67.05" y="1361.45" width="260.45" height="145.95" class="fr"/>
<path d="M56.85 1384.68H67.05M56.85 1434.39H67.05M56.85 1484.1H67.05M78.8 1507.4V1517.6M141.92 1507.4V1517.6M205.04 1507.4V1517.6M268.16 1507.4V1517.6" class="tk"/>
<text x="52.85" y="1391.38" class="yl">0.6</text>
<text x="52.85" y="1441.09" class="yl">0.3</text>
<text x="52.85" y="1490.8" class="yl">0.0</text>
<text x="78.8" y="1534.2" class="xl">0</text>
<text x="141.92" y="1534.2" class="xl">400</text>
<text x="205.04" y="1534.2" class="xl">800</text>
<text x="268.16" y="1534.2" class="xl">1200</text>
<text x="197.27" y="1554.5" class="xl">Duration (days)</text>
<text transform="translate(13.9 1434.42) rotate(-90)" class="xl">Response ratio</text>
<text x="24" y="1367.25" class="pl">m</text>
<text x="75.1" y="1381.7" class="vi">T</text>
<text x="87.4" y="1384.7" class="sb">leaf</text>
<text x="74.8" y="1497.4"><tspan class="it">p</tspan><tspan dx="0"> = 0.096</tspan></text>
<rect x="423.05" y="1361.45" width="260.45" height="145.95" class="fr"/>
<path d="M412.85 1387.25H423.05M412.85 1434.7H423.05M412.85 1482.15H423.05M435 1507.4V1517.6M500 1507.4V1517.6M565 1507.4V1517.6M630 1507.4V1517.6" class="tk"/>
<text x="408.85" y="1393.95" class="yl">0.5</text>
<text x="408.85" y="1441.4" class="yl">0.0</text>
<text x="408.85" y="1488.85" class="yl">-0.5</text>
<text x="435" y="1534.2" class="xl">0</text>
<text x="500" y="1534.2" class="xl">1000</text>
<text x="565" y="1534.2" class="xl">2000</text>
<text x="630" y="1534.2" class="xl">3000</text>
<text x="553.27" y="1554.5" class="xl">Duration (days)</text>
<text x="380" y="1367.25" class="pl">n</text>
<text x="432.1" y="1381.7" class="vi">Ψ</text>
<text x="448.6" y="1384.7" class="sb">leaf</text>
<text x="431.4" y="1497.95"><tspan class="it">p</tspan><tspan dx="0"> = 0.099</tspan></text>
</svg></body></html>
